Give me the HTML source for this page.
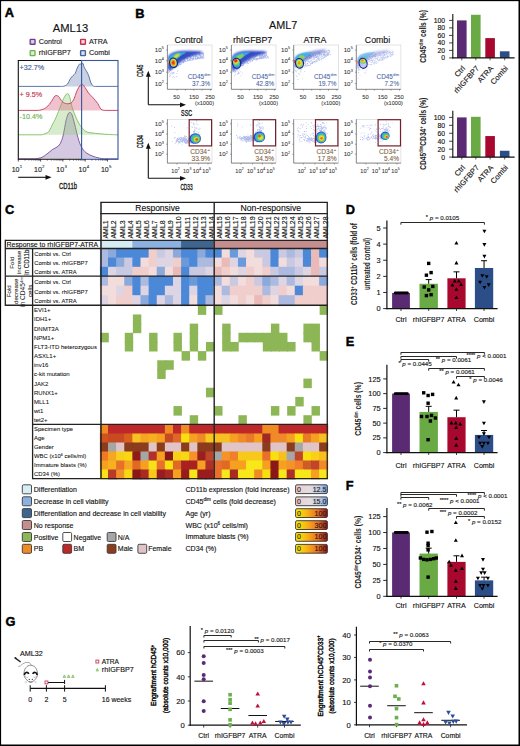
<!DOCTYPE html>
<html><head><meta charset="utf-8"><style>
html,body{margin:0;padding:0;background:#fff;}
body{width:520px;height:746px;overflow:hidden;position:relative;}
svg{position:absolute;left:0;top:0;}
text{font-family:"Liberation Sans", sans-serif;}
</style></head><body>
<svg width="520" height="746" viewBox="0 0 520 746">
<defs><filter id="bl1" x="-50%" y="-50%" width="200%" height="200%"><feGaussianBlur stdDeviation="0.7"/></filter><filter id="bl2" x="-50%" y="-50%" width="200%" height="200%"><feGaussianBlur stdDeviation="0.55"/></filter><filter id="bl3" x="-50%" y="-50%" width="200%" height="200%"><feGaussianBlur stdDeviation="1.1"/></filter></defs>
<rect x="0" y="0" width="520" height="746" fill="#fff"/>
<text x="4.80" y="17.40" font-size="12.8" fill="#000" stroke="#000" stroke-width="0.45" font-weight="bold" >A</text>
<text x="70.50" y="32.00" font-size="11.2" fill="#111" stroke="#111" stroke-width="0.13" text-anchor="middle" >AML13</text>
<rect x="30.15" y="39.35" width="4.90" height="4.90" fill="#c8b4d8" stroke="#6e3c8e" stroke-width="1.3" rx="0.6"/>
<line x1="32.05" y1="40.30" x2="32.05" y2="43.30" stroke="#fff" stroke-width="0.55" />
<line x1="33.25" y1="40.30" x2="33.25" y2="43.30" stroke="#fff" stroke-width="0.55" />
<text x="38.80" y="44.30" font-size="7.2" fill="#222" stroke="#222" stroke-width="0.13" >Control</text>
<rect x="80.55" y="39.35" width="4.90" height="4.90" fill="#eab0bc" stroke="#c8304e" stroke-width="1.3" rx="0.6"/>
<line x1="82.45" y1="40.30" x2="82.45" y2="43.30" stroke="#fff" stroke-width="0.55" />
<line x1="83.65" y1="40.30" x2="83.65" y2="43.30" stroke="#fff" stroke-width="0.55" />
<text x="89.00" y="44.30" font-size="7.2" fill="#222" stroke="#222" stroke-width="0.13" >ATRA</text>
<rect x="30.15" y="50.65" width="4.90" height="4.90" fill="#c8e4b8" stroke="#70b450" stroke-width="1.3" rx="0.6"/>
<line x1="32.05" y1="51.60" x2="32.05" y2="54.60" stroke="#fff" stroke-width="0.55" />
<line x1="33.25" y1="51.60" x2="33.25" y2="54.60" stroke="#fff" stroke-width="0.55" />
<text x="38.80" y="55.20" font-size="7.2" fill="#222" stroke="#222" stroke-width="0.13" >rhIGFBP7</text>
<rect x="80.55" y="50.65" width="4.90" height="4.90" fill="#bcc8e0" stroke="#4464a0" stroke-width="1.3" rx="0.6"/>
<line x1="82.45" y1="51.60" x2="82.45" y2="54.60" stroke="#fff" stroke-width="0.55" />
<line x1="83.65" y1="51.60" x2="83.65" y2="54.60" stroke="#fff" stroke-width="0.55" />
<text x="89.00" y="55.20" font-size="7.2" fill="#222" stroke="#222" stroke-width="0.13" >Combi</text>
<path d="M36.00,158.80 C37.00,158.55 40.18,158.10 42.00,157.30 C43.82,156.50 45.12,155.32 46.90,154.00 C48.68,152.68 50.77,150.73 52.70,149.40 C54.63,148.07 57.03,147.43 58.50,146.00 C59.97,144.57 60.67,142.83 61.50,140.80 C62.33,138.77 62.75,137.13 63.50,133.80 C64.25,130.47 65.22,124.13 66.00,120.80 C66.78,117.47 67.57,115.18 68.20,113.80 C68.83,112.42 69.20,112.42 69.80,112.50 C70.40,112.58 71.00,112.38 71.80,114.30 C72.60,116.22 73.57,120.08 74.60,124.00 C75.63,127.92 76.85,133.95 78.00,137.80 C79.15,141.65 80.13,144.60 81.50,147.10 C82.87,149.60 84.28,151.27 86.20,152.80 C88.12,154.33 91.03,155.47 93.00,156.30 C94.97,157.13 96.33,157.38 98.00,157.80 C99.67,158.22 102.17,158.63 103.00,158.80 L103.00,158.80 L36.00,158.80 Z" fill="rgba(150,120,180,0.40)" stroke="none" stroke-width="1" />
<path d="M18.5,158.80 L36.00,158.80 C37.00,158.55 40.18,158.10 42.00,157.30 C43.82,156.50 45.12,155.32 46.90,154.00 C48.68,152.68 50.77,150.73 52.70,149.40 C54.63,148.07 57.03,147.43 58.50,146.00 C59.97,144.57 60.67,142.83 61.50,140.80 C62.33,138.77 62.75,137.13 63.50,133.80 C64.25,130.47 65.22,124.13 66.00,120.80 C66.78,117.47 67.57,115.18 68.20,113.80 C68.83,112.42 69.20,112.42 69.80,112.50 C70.40,112.58 71.00,112.38 71.80,114.30 C72.60,116.22 73.57,120.08 74.60,124.00 C75.63,127.92 76.85,133.95 78.00,137.80 C79.15,141.65 80.13,144.60 81.50,147.10 C82.87,149.60 84.28,151.27 86.20,152.80 C88.12,154.33 91.03,155.47 93.00,156.30 C94.97,157.13 96.33,157.38 98.00,157.80 C99.67,158.22 102.17,158.63 103.00,158.80 L118,158.80" fill="none" stroke="#7a4a9a" stroke-width="0.9" />
<path d="M42.00,134.80 C42.67,134.55 44.80,133.93 46.00,133.30 C47.20,132.67 48.08,132.55 49.20,131.00 C50.32,129.45 51.53,126.32 52.70,124.00 C53.87,121.68 54.85,120.17 56.20,117.10 C57.55,114.03 59.47,108.87 60.80,105.60 C62.13,102.33 63.13,99.50 64.20,97.50 C65.27,95.50 66.32,93.80 67.20,93.60 C68.08,93.40 68.65,93.93 69.50,96.30 C70.35,98.67 71.25,104.33 72.30,107.80 C73.35,111.27 74.65,114.40 75.80,117.10 C76.95,119.80 78.05,122.08 79.20,124.00 C80.35,125.92 81.35,127.25 82.70,128.60 C84.05,129.95 85.18,131.32 87.30,132.10 C89.42,132.88 92.12,132.92 95.40,133.30 C98.68,133.68 103.57,134.15 107.00,134.40 C110.43,134.65 114.50,134.73 116.00,134.80 L116.00,134.80 L42.00,134.80 Z" fill="rgba(140,200,110,0.35)" stroke="none" stroke-width="1" />
<path d="M18.5,134.80 L42.00,134.80 C42.67,134.55 44.80,133.93 46.00,133.30 C47.20,132.67 48.08,132.55 49.20,131.00 C50.32,129.45 51.53,126.32 52.70,124.00 C53.87,121.68 54.85,120.17 56.20,117.10 C57.55,114.03 59.47,108.87 60.80,105.60 C62.13,102.33 63.13,99.50 64.20,97.50 C65.27,95.50 66.32,93.80 67.20,93.60 C68.08,93.40 68.65,93.93 69.50,96.30 C70.35,98.67 71.25,104.33 72.30,107.80 C73.35,111.27 74.65,114.40 75.80,117.10 C76.95,119.80 78.05,122.08 79.20,124.00 C80.35,125.92 81.35,127.25 82.70,128.60 C84.05,129.95 85.18,131.32 87.30,132.10 C89.42,132.88 92.12,132.92 95.40,133.30 C98.68,133.68 103.57,134.15 107.00,134.40 C110.43,134.65 114.50,134.73 116.00,134.80 L118,134.80" fill="none" stroke="#7cc060" stroke-width="0.9" />
<path d="M38.00,110.40 C38.67,110.27 40.52,110.17 42.00,109.60 C43.48,109.03 45.32,108.37 46.90,107.00 C48.48,105.63 50.15,103.23 51.50,101.40 C52.85,99.57 53.83,96.83 55.00,96.00 C56.17,95.17 57.33,95.50 58.50,96.40 C59.67,97.30 60.85,100.23 62.00,101.40 C63.15,102.57 64.07,103.07 65.40,103.40 C66.73,103.73 68.65,103.97 70.00,103.40 C71.35,102.83 72.33,102.10 73.50,100.00 C74.67,97.90 75.85,93.30 77.00,90.80 C78.15,88.30 79.45,86.07 80.40,85.00 C81.35,83.93 81.93,84.00 82.70,84.40 C83.47,84.80 84.03,85.97 85.00,87.40 C85.97,88.83 87.17,91.28 88.50,93.00 C89.83,94.72 91.47,95.97 93.00,97.70 C94.53,99.43 96.37,101.48 97.70,103.40 C99.03,105.32 99.78,108.03 101.00,109.20 C102.22,110.37 104.33,110.20 105.00,110.40 L105.00,110.40 L38.00,110.40 Z" fill="rgba(220,110,140,0.42)" stroke="none" stroke-width="1" />
<path d="M18.5,110.40 L38.00,110.40 C38.67,110.27 40.52,110.17 42.00,109.60 C43.48,109.03 45.32,108.37 46.90,107.00 C48.48,105.63 50.15,103.23 51.50,101.40 C52.85,99.57 53.83,96.83 55.00,96.00 C56.17,95.17 57.33,95.50 58.50,96.40 C59.67,97.30 60.85,100.23 62.00,101.40 C63.15,102.57 64.07,103.07 65.40,103.40 C66.73,103.73 68.65,103.97 70.00,103.40 C71.35,102.83 72.33,102.10 73.50,100.00 C74.67,97.90 75.85,93.30 77.00,90.80 C78.15,88.30 79.45,86.07 80.40,85.00 C81.35,83.93 81.93,84.00 82.70,84.40 C83.47,84.80 84.03,85.97 85.00,87.40 C85.97,88.83 87.17,91.28 88.50,93.00 C89.83,94.72 91.47,95.97 93.00,97.70 C94.53,99.43 96.37,101.48 97.70,103.40 C99.03,105.32 99.78,108.03 101.00,109.20 C102.22,110.37 104.33,110.20 105.00,110.40 L118,110.40" fill="none" stroke="#c83a5a" stroke-width="0.9" />
<path d="M60.00,86.40 C60.62,86.37 62.45,86.60 63.70,86.20 C64.95,85.80 66.38,85.25 67.50,84.00 C68.62,82.75 69.52,80.07 70.40,78.70 C71.28,77.33 72.00,76.68 72.80,75.80 C73.60,74.92 74.57,74.45 75.20,73.40 C75.83,72.35 75.97,70.95 76.60,69.50 C77.23,68.05 78.35,65.62 79.00,64.70 C79.65,63.78 80.10,64.00 80.50,64.00 C80.90,64.00 81.00,64.82 81.40,64.70 C81.80,64.58 82.42,62.82 82.90,63.30 C83.38,63.78 83.67,66.23 84.30,67.60 C84.93,68.97 85.97,70.13 86.70,71.50 C87.43,72.87 88.05,74.05 88.70,75.80 C89.35,77.55 89.97,80.40 90.60,82.00 C91.23,83.60 91.87,84.67 92.50,85.40 C93.13,86.13 93.65,86.23 94.40,86.40 C95.15,86.57 96.57,86.40 97.00,86.40 L97.00,86.40 L60.00,86.40 Z" fill="rgba(120,140,190,0.40)" stroke="none" stroke-width="1" />
<path d="M18.5,86.40 L60.00,86.40 C60.62,86.37 62.45,86.60 63.70,86.20 C64.95,85.80 66.38,85.25 67.50,84.00 C68.62,82.75 69.52,80.07 70.40,78.70 C71.28,77.33 72.00,76.68 72.80,75.80 C73.60,74.92 74.57,74.45 75.20,73.40 C75.83,72.35 75.97,70.95 76.60,69.50 C77.23,68.05 78.35,65.62 79.00,64.70 C79.65,63.78 80.10,64.00 80.50,64.00 C80.90,64.00 81.00,64.82 81.40,64.70 C81.80,64.58 82.42,62.82 82.90,63.30 C83.38,63.78 83.67,66.23 84.30,67.60 C84.93,68.97 85.97,70.13 86.70,71.50 C87.43,72.87 88.05,74.05 88.70,75.80 C89.35,77.55 89.97,80.40 90.60,82.00 C91.23,83.60 91.87,84.67 92.50,85.40 C93.13,86.13 93.65,86.23 94.40,86.40 C95.15,86.57 96.57,86.40 97.00,86.40 L118,86.40" fill="none" stroke="#4a66a0" stroke-width="0.9" />
<path d="M81.5,60.5 L18.3,60.5 L18.3,159.3 L81.5,159.3" fill="none" stroke="#111" stroke-width="1.1" />
<rect x="81.60" y="60.50" width="36.40" height="98.80" fill="none" stroke="#34589a" stroke-width="1.1" />
<text x="19.60" y="70.00" font-size="7.2" fill="#3c5a9a" stroke="#3c5a9a" stroke-width="0.13" >+32.7%</text>
<text x="19.60" y="96.50" font-size="7.2" fill="#c0304e" stroke="#c0304e" stroke-width="0.13" >+ 9.5%</text>
<text x="19.60" y="119.20" font-size="7.2" fill="#6ab04c" stroke="#6ab04c" stroke-width="0.13" >-10.4%</text>
<line x1="18.30" y1="159.20" x2="18.30" y2="161.60" stroke="#111" stroke-width="0.7" />
<line x1="25.01" y1="159.20" x2="25.01" y2="160.80" stroke="#111" stroke-width="0.45" />
<line x1="28.94" y1="159.20" x2="28.94" y2="160.80" stroke="#111" stroke-width="0.45" />
<line x1="31.73" y1="159.20" x2="31.73" y2="160.80" stroke="#111" stroke-width="0.45" />
<line x1="33.89" y1="159.20" x2="33.89" y2="160.80" stroke="#111" stroke-width="0.45" />
<line x1="35.65" y1="159.20" x2="35.65" y2="160.80" stroke="#111" stroke-width="0.45" />
<line x1="37.15" y1="159.20" x2="37.15" y2="160.80" stroke="#111" stroke-width="0.45" />
<line x1="38.44" y1="159.20" x2="38.44" y2="160.80" stroke="#111" stroke-width="0.45" />
<line x1="39.58" y1="159.20" x2="39.58" y2="160.80" stroke="#111" stroke-width="0.45" />
<line x1="40.60" y1="159.20" x2="40.60" y2="161.60" stroke="#111" stroke-width="0.7" />
<line x1="47.31" y1="159.20" x2="47.31" y2="160.80" stroke="#111" stroke-width="0.45" />
<line x1="51.24" y1="159.20" x2="51.24" y2="160.80" stroke="#111" stroke-width="0.45" />
<line x1="54.03" y1="159.20" x2="54.03" y2="160.80" stroke="#111" stroke-width="0.45" />
<line x1="56.19" y1="159.20" x2="56.19" y2="160.80" stroke="#111" stroke-width="0.45" />
<line x1="57.95" y1="159.20" x2="57.95" y2="160.80" stroke="#111" stroke-width="0.45" />
<line x1="59.45" y1="159.20" x2="59.45" y2="160.80" stroke="#111" stroke-width="0.45" />
<line x1="60.74" y1="159.20" x2="60.74" y2="160.80" stroke="#111" stroke-width="0.45" />
<line x1="61.88" y1="159.20" x2="61.88" y2="160.80" stroke="#111" stroke-width="0.45" />
<line x1="62.90" y1="159.20" x2="62.90" y2="161.60" stroke="#111" stroke-width="0.7" />
<line x1="69.61" y1="159.20" x2="69.61" y2="160.80" stroke="#111" stroke-width="0.45" />
<line x1="73.54" y1="159.20" x2="73.54" y2="160.80" stroke="#111" stroke-width="0.45" />
<line x1="76.33" y1="159.20" x2="76.33" y2="160.80" stroke="#111" stroke-width="0.45" />
<line x1="78.49" y1="159.20" x2="78.49" y2="160.80" stroke="#111" stroke-width="0.45" />
<line x1="80.25" y1="159.20" x2="80.25" y2="160.80" stroke="#111" stroke-width="0.45" />
<line x1="81.75" y1="159.20" x2="81.75" y2="160.80" stroke="#111" stroke-width="0.45" />
<line x1="83.04" y1="159.20" x2="83.04" y2="160.80" stroke="#111" stroke-width="0.45" />
<line x1="84.18" y1="159.20" x2="84.18" y2="160.80" stroke="#111" stroke-width="0.45" />
<line x1="85.20" y1="159.20" x2="85.20" y2="161.60" stroke="#111" stroke-width="0.7" />
<line x1="91.91" y1="159.20" x2="91.91" y2="160.80" stroke="#111" stroke-width="0.45" />
<line x1="95.84" y1="159.20" x2="95.84" y2="160.80" stroke="#111" stroke-width="0.45" />
<line x1="98.63" y1="159.20" x2="98.63" y2="160.80" stroke="#111" stroke-width="0.45" />
<line x1="100.79" y1="159.20" x2="100.79" y2="160.80" stroke="#111" stroke-width="0.45" />
<line x1="102.55" y1="159.20" x2="102.55" y2="160.80" stroke="#111" stroke-width="0.45" />
<line x1="104.05" y1="159.20" x2="104.05" y2="160.80" stroke="#111" stroke-width="0.45" />
<line x1="105.34" y1="159.20" x2="105.34" y2="160.80" stroke="#111" stroke-width="0.45" />
<line x1="106.48" y1="159.20" x2="106.48" y2="160.80" stroke="#111" stroke-width="0.45" />
<line x1="107.50" y1="159.20" x2="107.50" y2="161.60" stroke="#111" stroke-width="0.7" />
<text x="19.50" y="172.40" font-size="7.0" fill="#222" stroke="#222" stroke-width="0.13" text-anchor="end" >10</text>
<text x="19.80" y="168.40" font-size="4.4" fill="#222" stroke="#222" stroke-width="0.07" >1</text>
<text x="41.80" y="172.40" font-size="7.0" fill="#222" stroke="#222" stroke-width="0.13" text-anchor="end" >10</text>
<text x="42.10" y="168.40" font-size="4.4" fill="#222" stroke="#222" stroke-width="0.07" >2</text>
<text x="64.10" y="172.40" font-size="7.0" fill="#222" stroke="#222" stroke-width="0.13" text-anchor="end" >10</text>
<text x="64.40" y="168.40" font-size="4.4" fill="#222" stroke="#222" stroke-width="0.07" >3</text>
<text x="86.40" y="172.40" font-size="7.0" fill="#222" stroke="#222" stroke-width="0.13" text-anchor="end" >10</text>
<text x="86.70" y="168.40" font-size="4.4" fill="#222" stroke="#222" stroke-width="0.07" >4</text>
<text x="108.70" y="172.40" font-size="7.0" fill="#222" stroke="#222" stroke-width="0.13" text-anchor="end" >10</text>
<text x="109.00" y="168.40" font-size="4.4" fill="#222" stroke="#222" stroke-width="0.07" >5</text>
<line x1="18.20" y1="177.30" x2="47.50" y2="177.30" stroke="#111" stroke-width="1.1" />
<path d="M51.6,177.3 L45.5,174.9 L45.5,179.7 Z" fill="#111" stroke="none" stroke-width="1" />
<text x="68.00" y="189.20" font-size="9.4" fill="#1a1a1a" stroke="#1a1a1a" stroke-width="0.35" text-anchor="middle" textLength="18" lengthAdjust="spacingAndGlyphs" >CD11b</text>
<text x="135.30" y="17.60" font-size="12.8" fill="#000" stroke="#000" stroke-width="0.45" font-weight="bold" >B</text>
<text x="283.20" y="29.30" font-size="10.8" fill="#111" stroke="#111" stroke-width="0.13" text-anchor="middle" >AML7</text>
<text x="188.60" y="42.60" font-size="8.8" fill="#111" stroke="#111" stroke-width="0.13" text-anchor="middle" >Control</text>
<text x="252.60" y="42.60" font-size="8.8" fill="#111" stroke="#111" stroke-width="0.13" text-anchor="middle" >rhIGFBP7</text>
<text x="314.90" y="42.60" font-size="8.8" fill="#111" stroke="#111" stroke-width="0.13" text-anchor="middle" >ATRA</text>
<text x="377.50" y="42.60" font-size="8.8" fill="#111" stroke="#111" stroke-width="0.13" text-anchor="middle" >Combi</text>
<clipPath id="clt0"><rect x="167.4" y="45.0" width="44.6" height="44.3"/></clipPath>
<g clip-path="url(#clt0)">
<path d="M180.9 54.8h0.8v0.8h-0.8zM188.1 55.8h0.8v0.8h-0.8zM171.9 64.5h0.8v0.8h-0.8zM171.8 57.3h0.8v0.8h-0.8zM185.0 60.6h0.8v0.8h-0.8zM191.8 59.5h0.8v0.8h-0.8zM190.0 55.8h0.8v0.8h-0.8zM198.9 54.1h0.8v0.8h-0.8zM174.0 56.3h0.8v0.8h-0.8zM177.3 62.1h0.8v0.8h-0.8zM191.5 55.3h0.8v0.8h-0.8zM171.1 59.8h0.8v0.8h-0.8zM192.7 55.6h0.8v0.8h-0.8zM186.5 55.6h0.8v0.8h-0.8zM196.9 56.9h0.8v0.8h-0.8zM189.0 59.9h0.8v0.8h-0.8zM195.1 54.4h0.8v0.8h-0.8zM184.3 60.1h0.8v0.8h-0.8zM176.0 61.5h0.8v0.8h-0.8zM196.2 56.3h0.8v0.8h-0.8zM199.1 54.2h0.8v0.8h-0.8zM188.8 56.3h0.8v0.8h-0.8zM197.1 58.1h0.8v0.8h-0.8zM171.4 67.1h0.8v0.8h-0.8zM192.3 59.6h0.8v0.8h-0.8zM182.7 59.7h0.8v0.8h-0.8zM169.8 65.3h0.8v0.8h-0.8zM171.5 68.0h0.8v0.8h-0.8zM172.7 58.7h0.8v0.8h-0.8zM173.1 62.9h0.8v0.8h-0.8zM189.5 59.7h0.8v0.8h-0.8zM178.0 58.5h0.8v0.8h-0.8zM182.8 62.0h0.8v0.8h-0.8zM175.6 57.6h0.8v0.8h-0.8zM177.3 59.9h0.8v0.8h-0.8zM168.3 65.5h0.8v0.8h-0.8zM183.9 58.9h0.8v0.8h-0.8zM187.3 58.0h0.8v0.8h-0.8zM194.1 52.4h0.8v0.8h-0.8zM198.6 57.2h0.8v0.8h-0.8zM184.4 57.1h0.8v0.8h-0.8zM172.0 57.1h0.8v0.8h-0.8zM176.8 56.1h0.8v0.8h-0.8zM168.6 61.2h0.8v0.8h-0.8zM174.5 61.1h0.8v0.8h-0.8zM191.2 53.5h0.8v0.8h-0.8zM178.3 58.0h0.8v0.8h-0.8zM198.9 58.3h0.8v0.8h-0.8zM186.3 57.3h0.8v0.8h-0.8zM181.9 56.0h0.8v0.8h-0.8zM199.9 53.2h0.8v0.8h-0.8zM188.4 53.7h0.8v0.8h-0.8zM186.4 52.3h0.8v0.8h-0.8zM198.7 56.6h0.8v0.8h-0.8zM179.5 58.1h0.8v0.8h-0.8zM189.4 59.1h0.8v0.8h-0.8zM182.2 55.7h0.8v0.8h-0.8zM196.6 57.3h0.8v0.8h-0.8zM197.8 57.1h0.8v0.8h-0.8zM183.2 52.8h0.8v0.8h-0.8zM169.7 62.1h0.8v0.8h-0.8zM203.3 54.9h0.8v0.8h-0.8zM202.1 57.9h0.8v0.8h-0.8zM177.2 56.8h0.8v0.8h-0.8zM175.3 56.8h0.8v0.8h-0.8zM197.1 55.4h0.8v0.8h-0.8zM193.3 58.3h0.8v0.8h-0.8zM201.1 56.9h0.8v0.8h-0.8zM196.0 55.7h0.8v0.8h-0.8zM182.7 61.7h0.8v0.8h-0.8zM200.9 54.6h0.8v0.8h-0.8zM195.7 53.5h0.8v0.8h-0.8zM175.1 57.2h0.8v0.8h-0.8zM173.8 65.9h0.8v0.8h-0.8zM202.2 56.0h0.8v0.8h-0.8zM174.8 54.4h0.8v0.8h-0.8zM200.6 56.0h0.8v0.8h-0.8zM184.6 60.9h0.8v0.8h-0.8zM197.9 53.6h0.8v0.8h-0.8zM178.8 61.0h0.8v0.8h-0.8zM180.0 58.8h0.8v0.8h-0.8zM183.4 58.0h0.8v0.8h-0.8zM188.4 59.6h0.8v0.8h-0.8zM188.1 57.4h0.8v0.8h-0.8zM187.5 52.2h0.8v0.8h-0.8zM168.8 71.1h0.8v0.8h-0.8zM175.4 60.9h0.8v0.8h-0.8zM180.2 59.0h0.8v0.8h-0.8zM189.8 58.9h0.8v0.8h-0.8zM179.0 57.2h0.8v0.8h-0.8zM194.9 55.8h0.8v0.8h-0.8zM200.1 55.0h0.8v0.8h-0.8zM189.7 56.5h0.8v0.8h-0.8zM185.4 57.8h0.8v0.8h-0.8zM185.9 60.9h0.8v0.8h-0.8zM200.0 53.8h0.8v0.8h-0.8zM189.4 60.0h0.8v0.8h-0.8zM173.3 61.6h0.8v0.8h-0.8zM172.8 59.9h0.8v0.8h-0.8zM197.0 58.1h0.8v0.8h-0.8zM174.7 64.3h0.8v0.8h-0.8zM199.3 58.0h0.8v0.8h-0.8zM176.6 65.4h0.8v0.8h-0.8zM203.6 56.9h0.8v0.8h-0.8zM174.5 60.6h0.8v0.8h-0.8zM176.4 58.5h0.8v0.8h-0.8zM193.7 52.0h0.8v0.8h-0.8zM169.1 63.4h0.8v0.8h-0.8zM193.4 56.5h0.8v0.8h-0.8zM197.6 58.5h0.8v0.8h-0.8zM174.3 59.5h0.8v0.8h-0.8zM179.5 54.9h0.8v0.8h-0.8zM184.8 61.3h0.8v0.8h-0.8zM174.2 66.8h0.8v0.8h-0.8zM189.8 58.2h0.8v0.8h-0.8zM193.6 55.5h0.8v0.8h-0.8zM170.7 69.7h0.8v0.8h-0.8zM171.1 68.2h0.8v0.8h-0.8zM170.8 69.0h0.8v0.8h-0.8zM189.1 60.0h0.8v0.8h-0.8zM178.5 54.9h0.8v0.8h-0.8zM173.1 57.7h0.8v0.8h-0.8zM170.5 60.0h0.8v0.8h-0.8zM196.4 54.3h0.8v0.8h-0.8zM187.1 54.2h0.8v0.8h-0.8zM178.6 53.1h0.8v0.8h-0.8zM195.2 56.2h0.8v0.8h-0.8zM202.2 52.7h0.8v0.8h-0.8zM196.1 55.2h0.8v0.8h-0.8zM183.6 58.1h0.8v0.8h-0.8zM192.6 59.2h0.8v0.8h-0.8zM195.3 56.9h0.8v0.8h-0.8zM184.3 56.4h0.8v0.8h-0.8zM171.8 67.2h0.8v0.8h-0.8zM180.0 55.5h0.8v0.8h-0.8zM200.1 56.4h0.8v0.8h-0.8zM179.4 56.3h0.8v0.8h-0.8zM175.9 60.9h0.8v0.8h-0.8zM179.9 64.5h0.8v0.8h-0.8zM178.1 64.9h0.8v0.8h-0.8zM181.4 57.4h0.8v0.8h-0.8zM186.3 57.4h0.8v0.8h-0.8zM177.3 60.7h0.8v0.8h-0.8zM172.4 61.9h0.8v0.8h-0.8zM170.2 56.6h0.8v0.8h-0.8zM190.6 56.8h0.8v0.8h-0.8zM195.1 56.9h0.8v0.8h-0.8zM181.8 56.3h0.8v0.8h-0.8zM202.7 53.0h0.8v0.8h-0.8zM169.4 69.6h0.8v0.8h-0.8zM199.8 56.1h0.8v0.8h-0.8zM172.9 62.3h0.8v0.8h-0.8zM187.8 59.8h0.8v0.8h-0.8zM188.6 59.5h0.8v0.8h-0.8zM193.3 57.4h0.8v0.8h-0.8zM174.3 60.2h0.8v0.8h-0.8zM172.0 67.2h0.8v0.8h-0.8zM191.0 57.7h0.8v0.8h-0.8zM187.2 52.0h0.8v0.8h-0.8zM186.0 57.4h0.8v0.8h-0.8zM192.4 52.6h0.8v0.8h-0.8zM171.2 60.3h0.8v0.8h-0.8zM194.6 53.7h0.8v0.8h-0.8zM184.8 56.2h0.8v0.8h-0.8zM186.6 58.8h0.8v0.8h-0.8zM190.8 52.7h0.8v0.8h-0.8zM174.6 58.4h0.8v0.8h-0.8zM188.7 52.0h0.8v0.8h-0.8zM170.6 60.8h0.8v0.8h-0.8zM191.9 54.6h0.8v0.8h-0.8zM187.3 56.7h0.8v0.8h-0.8zM200.1 53.4h0.8v0.8h-0.8zM203.6 57.5h0.8v0.8h-0.8zM197.8 58.3h0.8v0.8h-0.8zM185.9 55.3h0.8v0.8h-0.8zM178.9 61.5h0.8v0.8h-0.8zM174.8 62.2h0.8v0.8h-0.8zM197.6 55.6h0.8v0.8h-0.8zM200.0 56.6h0.8v0.8h-0.8zM188.4 52.3h0.8v0.8h-0.8zM168.0 66.7h0.8v0.8h-0.8zM174.6 59.8h0.8v0.8h-0.8zM182.1 62.3h0.8v0.8h-0.8zM198.3 52.9h0.8v0.8h-0.8zM201.6 56.5h0.8v0.8h-0.8zM182.4 57.2h0.8v0.8h-0.8zM202.8 55.6h0.8v0.8h-0.8zM180.0 53.6h0.8v0.8h-0.8zM172.5 67.3h0.8v0.8h-0.8zM180.3 57.0h0.8v0.8h-0.8zM186.1 54.2h0.8v0.8h-0.8zM201.2 57.2h0.8v0.8h-0.8zM192.5 59.2h0.8v0.8h-0.8zM194.1 52.3h0.8v0.8h-0.8zM194.9 55.6h0.8v0.8h-0.8zM178.6 53.5h0.8v0.8h-0.8zM200.4 52.9h0.8v0.8h-0.8zM180.3 61.6h0.8v0.8h-0.8zM202.3 53.7h0.8v0.8h-0.8zM188.5 55.9h0.8v0.8h-0.8zM175.9 56.6h0.8v0.8h-0.8zM188.7 54.6h0.8v0.8h-0.8zM200.0 58.1h0.8v0.8h-0.8zM176.5 55.1h0.8v0.8h-0.8zM181.8 53.8h0.8v0.8h-0.8zM190.1 59.6h0.8v0.8h-0.8zM194.6 55.2h0.8v0.8h-0.8zM183.4 56.6h0.8v0.8h-0.8zM171.7 60.9h0.8v0.8h-0.8zM187.2 58.2h0.8v0.8h-0.8zM199.0 53.6h0.8v0.8h-0.8zM184.3 57.5h0.8v0.8h-0.8zM202.1 57.1h0.8v0.8h-0.8zM169.9 68.4h0.8v0.8h-0.8zM200.1 55.2h0.8v0.8h-0.8zM183.4 61.9h0.8v0.8h-0.8zM198.5 57.7h0.8v0.8h-0.8zM173.1 57.6h0.8v0.8h-0.8zM189.1 58.4h0.8v0.8h-0.8zM191.6 58.1h0.8v0.8h-0.8zM187.1 57.9h0.8v0.8h-0.8zM178.2 64.7h0.8v0.8h-0.8zM192.4 54.8h0.8v0.8h-0.8zM192.1 57.7h0.8v0.8h-0.8zM172.2 56.0h0.8v0.8h-0.8zM183.2 55.2h0.8v0.8h-0.8zM190.3 52.0h0.8v0.8h-0.8zM202.9 56.0h0.8v0.8h-0.8zM199.8 55.3h0.8v0.8h-0.8zM202.8 56.3h0.8v0.8h-0.8zM179.3 52.9h0.8v0.8h-0.8zM184.4 55.4h0.8v0.8h-0.8zM192.8 59.0h0.8v0.8h-0.8zM181.8 57.8h0.8v0.8h-0.8zM193.6 53.8h0.8v0.8h-0.8zM186.1 54.4h0.8v0.8h-0.8zM202.7 54.1h0.8v0.8h-0.8zM176.9 63.3h0.8v0.8h-0.8zM179.5 63.7h0.8v0.8h-0.8zM177.5 59.3h0.8v0.8h-0.8zM193.1 59.2h0.8v0.8h-0.8zM177.7 65.7h0.8v0.8h-0.8zM175.2 55.1h0.8v0.8h-0.8zM200.5 57.5h0.8v0.8h-0.8zM195.5 59.0h0.8v0.8h-0.8zM175.8 66.0h0.8v0.8h-0.8zM194.9 52.1h0.8v0.8h-0.8zM182.2 56.5h0.8v0.8h-0.8zM175.3 53.5h0.8v0.8h-0.8zM202.7 52.8h0.8v0.8h-0.8zM201.4 53.4h0.8v0.8h-0.8zM198.9 55.2h0.8v0.8h-0.8zM169.5 64.3h0.8v0.8h-0.8zM177.7 59.1h0.8v0.8h-0.8zM198.9 52.0h0.8v0.8h-0.8zM196.7 52.2h0.8v0.8h-0.8zM170.6 57.8h0.8v0.8h-0.8zM195.0 58.3h0.8v0.8h-0.8zM182.7 56.2h0.8v0.8h-0.8zM178.6 62.0h0.8v0.8h-0.8zM182.2 56.4h0.8v0.8h-0.8zM200.8 56.1h0.8v0.8h-0.8zM201.7 51.9h0.8v0.8h-0.8zM202.9 57.7h0.8v0.8h-0.8zM182.4 55.6h0.8v0.8h-0.8zM201.5 53.3h0.8v0.8h-0.8zM197.7 57.1h0.8v0.8h-0.8zM189.5 55.1h0.8v0.8h-0.8zM181.0 57.4h0.8v0.8h-0.8zM176.2 63.7h0.8v0.8h-0.8zM179.3 54.1h0.8v0.8h-0.8zM181.4 63.4h0.8v0.8h-0.8zM199.7 58.1h0.8v0.8h-0.8zM173.0 63.1h0.8v0.8h-0.8zM194.2 55.6h0.8v0.8h-0.8zM192.0 57.7h0.8v0.8h-0.8zM195.1 58.0h0.8v0.8h-0.8zM198.0 54.2h0.8v0.8h-0.8zM189.4 55.7h0.8v0.8h-0.8zM177.8 56.8h0.8v0.8h-0.8zM174.2 66.3h0.8v0.8h-0.8zM183.3 62.4h0.8v0.8h-0.8zM187.8 54.7h0.8v0.8h-0.8zM202.0 52.6h0.8v0.8h-0.8zM187.3 60.0h0.8v0.8h-0.8zM168.9 61.9h0.8v0.8h-0.8zM174.6 58.0h0.8v0.8h-0.8zM201.0 54.5h0.8v0.8h-0.8zM199.1 55.1h0.8v0.8h-0.8zM203.1 52.7h0.8v0.8h-0.8zM190.5 57.4h0.8v0.8h-0.8zM175.2 57.7h0.8v0.8h-0.8zM178.3 60.9h0.8v0.8h-0.8zM168.6 63.7h0.8v0.8h-0.8zM192.9 53.7h0.8v0.8h-0.8zM197.4 56.0h0.8v0.8h-0.8zM170.5 57.7h0.8v0.8h-0.8zM192.4 52.9h0.8v0.8h-0.8zM174.7 63.8h0.8v0.8h-0.8zM180.9 63.5h0.8v0.8h-0.8zM180.2 59.6h0.8v0.8h-0.8zM199.7 58.3h0.8v0.8h-0.8zM182.4 55.1h0.8v0.8h-0.8zM168.2 72.4h0.8v0.8h-0.8zM183.2 60.6h0.8v0.8h-0.8zM186.8 54.2h0.8v0.8h-0.8zM168.1 67.0h0.8v0.8h-0.8zM171.0 65.0h0.8v0.8h-0.8zM183.1 58.3h0.8v0.8h-0.8zM188.4 60.3h0.8v0.8h-0.8zM173.9 62.6h0.8v0.8h-0.8zM174.6 55.6h0.8v0.8h-0.8zM201.3 57.8h0.8v0.8h-0.8zM201.1 54.6h0.8v0.8h-0.8zM200.6 56.1h0.8v0.8h-0.8zM196.2 53.8h0.8v0.8h-0.8zM184.1 61.0h0.8v0.8h-0.8zM176.8 59.1h0.8v0.8h-0.8zM188.2 56.0h0.8v0.8h-0.8zM195.0 58.5h0.8v0.8h-0.8zM170.4 65.9h0.8v0.8h-0.8zM198.0 52.9h0.8v0.8h-0.8zM190.0 56.9h0.8v0.8h-0.8zM183.9 58.5h0.8v0.8h-0.8zM183.8 59.2h0.8v0.8h-0.8zM169.9 67.5h0.8v0.8h-0.8zM186.9 54.8h0.8v0.8h-0.8zM184.4 54.4h0.8v0.8h-0.8zM186.8 53.5h0.8v0.8h-0.8zM173.1 62.5h0.8v0.8h-0.8zM187.3 52.5h0.8v0.8h-0.8zM194.6 57.7h0.8v0.8h-0.8zM186.8 52.7h0.8v0.8h-0.8zM201.8 52.9h0.8v0.8h-0.8zM198.7 58.3h0.8v0.8h-0.8zM174.9 66.3h0.8v0.8h-0.8zM187.3 60.8h0.8v0.8h-0.8zM196.4 58.3h0.8v0.8h-0.8zM171.4 61.9h0.8v0.8h-0.8zM199.7 53.9h0.8v0.8h-0.8zM195.7 53.1h0.8v0.8h-0.8zM176.9 57.5h0.8v0.8h-0.8zM187.9 55.5h0.8v0.8h-0.8zM175.3 66.7h0.8v0.8h-0.8zM193.8 58.8h0.8v0.8h-0.8zM174.6 63.0h0.8v0.8h-0.8zM192.4 55.3h0.8v0.8h-0.8zM189.1 59.4h0.8v0.8h-0.8zM172.4 69.2h0.8v0.8h-0.8zM196.4 54.1h0.8v0.8h-0.8zM202.2 55.6h0.8v0.8h-0.8zM186.2 54.4h0.8v0.8h-0.8zM195.5 52.3h0.8v0.8h-0.8zM191.2 59.6h0.8v0.8h-0.8zM190.0 57.8h0.8v0.8h-0.8zM170.1 59.6h0.8v0.8h-0.8zM189.3 55.9h0.8v0.8h-0.8zM173.9 58.3h0.8v0.8h-0.8zM193.0 52.1h0.8v0.8h-0.8zM173.1 60.8h0.8v0.8h-0.8zM177.1 61.2h0.8v0.8h-0.8zM191.0 56.2h0.8v0.8h-0.8zM174.2 67.5h0.8v0.8h-0.8zM173.1 65.0h0.8v0.8h-0.8zM198.8 57.1h0.8v0.8h-0.8zM169.4 68.5h0.8v0.8h-0.8zM188.7 55.5h0.8v0.8h-0.8zM200.7 56.6h0.8v0.8h-0.8zM179.3 64.2h0.8v0.8h-0.8zM184.2 55.3h0.8v0.8h-0.8zM172.1 68.2h0.8v0.8h-0.8zM201.6 53.0h0.8v0.8h-0.8zM175.5 62.0h0.8v0.8h-0.8zM197.4 53.4h0.8v0.8h-0.8zM182.2 56.8h0.8v0.8h-0.8zM197.0 57.1h0.8v0.8h-0.8zM168.7 71.6h0.8v0.8h-0.8zM194.3 55.5h0.8v0.8h-0.8zM177.6 55.0h0.8v0.8h-0.8zM181.7 61.1h0.8v0.8h-0.8zM193.5 58.3h0.8v0.8h-0.8zM188.4 56.3h0.8v0.8h-0.8zM196.5 55.8h0.8v0.8h-0.8zM203.4 53.5h0.8v0.8h-0.8zM199.6 51.9h0.8v0.8h-0.8zM195.8 58.6h0.8v0.8h-0.8zM195.8 54.6h0.8v0.8h-0.8zM177.6 64.4h0.8v0.8h-0.8zM190.4 57.7h0.8v0.8h-0.8zM184.2 60.2h0.8v0.8h-0.8zM192.5 58.4h0.8v0.8h-0.8zM190.0 55.1h0.8v0.8h-0.8zM178.6 61.9h0.8v0.8h-0.8zM175.4 54.5h0.8v0.8h-0.8zM172.8 68.3h0.8v0.8h-0.8zM170.2 57.6h0.8v0.8h-0.8zM193.1 57.0h0.8v0.8h-0.8zM170.2 65.4h0.8v0.8h-0.8zM183.2 61.3h0.8v0.8h-0.8zM169.9 69.1h0.8v0.8h-0.8zM201.1 57.8h0.8v0.8h-0.8zM173.6 55.2h0.8v0.8h-0.8zM197.6 57.3h0.8v0.8h-0.8zM190.4 54.7h0.8v0.8h-0.8zM172.8 56.8h0.8v0.8h-0.8zM180.4 58.1h0.8v0.8h-0.8zM169.2 62.1h0.8v0.8h-0.8zM183.9 56.5h0.8v0.8h-0.8zM202.9 55.2h0.8v0.8h-0.8zM169.0 64.1h0.8v0.8h-0.8zM184.3 60.0h0.8v0.8h-0.8zM189.5 54.4h0.8v0.8h-0.8zM199.2 52.6h0.8v0.8h-0.8zM168.0 62.1h0.8v0.8h-0.8zM196.7 58.7h0.8v0.8h-0.8zM186.9 59.6h0.8v0.8h-0.8zM175.2 60.9h0.8v0.8h-0.8zM180.1 64.3h0.8v0.8h-0.8zM179.4 56.0h0.8v0.8h-0.8zM172.3 64.6h0.8v0.8h-0.8zM176.6 73.3h0.8v0.8h-0.8zM171.8 77.3h0.8v0.8h-0.8zM172.2 72.4h0.8v0.8h-0.8zM173.0 71.9h0.8v0.8h-0.8zM170.5 70.3h0.8v0.8h-0.8zM169.8 69.7h0.8v0.8h-0.8zM170.0 72.8h0.8v0.8h-0.8zM173.7 72.4h0.8v0.8h-0.8zM176.4 76.1h0.8v0.8h-0.8zM169.5 74.5h0.8v0.8h-0.8zM177.1 70.6h0.8v0.8h-0.8zM169.0 76.2h0.8v0.8h-0.8zM171.5 72.6h0.8v0.8h-0.8zM174.3 77.0h0.8v0.8h-0.8zM173.2 76.0h0.8v0.8h-0.8zM171.5 73.7h0.8v0.8h-0.8zM169.9 75.5h0.8v0.8h-0.8zM172.8 73.0h0.8v0.8h-0.8z" fill="#3a58d0" fill-opacity="0.45"/>
<path d="M167.90,57.00 L170.40,54.00 L173.40,52.60 L176.90,51.50 L180.40,51.00 L187.40,50.80 L195.40,50.90 L200.40,51.30 L202.90,52.20 L200.40,53.60 L194.40,55.20 L188.40,57.60 L182.90,60.60 L178.40,64.00 L174.40,67.20 L170.40,69.80 L167.90,71.00 Z" fill="#2640c0" fill-opacity="0.92" filter="url(#bl3)"/>
<path d="M168.90,58.00 L170.90,55.00 L174.40,53.40 L178.40,52.40 L183.40,52.20 L186.40,52.60 L182.40,54.80 L178.40,57.40 L174.40,60.50 L170.90,63.00 L168.90,63.50 Z" fill="#30b4e8" fill-opacity="0.90" filter="url(#bl1)"/>
<ellipse cx="176.30" cy="56.30" rx="4.6" ry="2.0" fill="#98d048" fill-opacity="0.95" filter="url(#bl2)" transform="rotate(-35 176.30 56.30)"/>
<ellipse cx="176.50" cy="55.90" rx="2.4" ry="1.2" fill="#e0e040" fill-opacity="0.8" filter="url(#bl2)" transform="rotate(-35 176.50 55.90)"/>
<ellipse cx="173.50" cy="62.70" rx="4.2" ry="5.0" fill="#30b8e0" fill-opacity="0.9" filter="url(#bl2)"/>
<ellipse cx="173.50" cy="62.70" rx="3.5" ry="4.3" fill="#68d070" fill-opacity="1" filter="url(#bl2)"/>
<ellipse cx="173.50" cy="62.70" rx="2.8" ry="3.6" fill="#e4e040" fill-opacity="1" filter="url(#bl2)"/>
<ellipse cx="173.30" cy="62.70" rx="2.2" ry="2.9" fill="#f49020" fill-opacity="1" filter="url(#bl2)"/>
<ellipse cx="173.30" cy="62.70" rx="1.3" ry="1.8" fill="#e83a18" fill-opacity="1" filter="url(#bl2)"/>
<ellipse cx="168.30" cy="61.50" rx="1.2" ry="2.0" fill="#f09030" fill-opacity="0.95" filter="url(#bl2)"/>
</g>
<ellipse cx="173.50" cy="62.70" rx="3.9" ry="4.8" fill="none" stroke="#1e1a84" stroke-width="1.1" transform="rotate(-12 173.50 62.70)"/>
<rect x="167.40" y="45.00" width="44.60" height="44.30" fill="none" stroke="#cfcfcf" stroke-width="0.6" />
<line x1="167.40" y1="45.00" x2="167.40" y2="89.30" stroke="#666" stroke-width="0.7" />
<line x1="167.40" y1="89.30" x2="212.00" y2="89.30" stroke="#666" stroke-width="0.7" />
<line x1="166.00" y1="50.00" x2="167.40" y2="50.00" stroke="#555" stroke-width="0.5" />
<text x="161.60" y="52.00" font-size="6.1" fill="#333" stroke="#333" stroke-width="0.07" text-anchor="end" >10</text>
<text x="161.80" y="49.40" font-size="3.7819999999999996" fill="#333" stroke="#333" stroke-width="0.07" >5</text>
<line x1="166.00" y1="60.80" x2="167.40" y2="60.80" stroke="#555" stroke-width="0.5" />
<text x="161.60" y="62.80" font-size="6.1" fill="#333" stroke="#333" stroke-width="0.07" text-anchor="end" >10</text>
<text x="161.80" y="60.20" font-size="3.7819999999999996" fill="#333" stroke="#333" stroke-width="0.07" >4</text>
<line x1="166.00" y1="72.20" x2="167.40" y2="72.20" stroke="#555" stroke-width="0.5" />
<text x="161.60" y="74.20" font-size="6.1" fill="#333" stroke="#333" stroke-width="0.07" text-anchor="end" >10</text>
<text x="161.80" y="71.60" font-size="3.7819999999999996" fill="#333" stroke="#333" stroke-width="0.07" >3</text>
<line x1="166.00" y1="83.50" x2="167.40" y2="83.50" stroke="#555" stroke-width="0.5" />
<text x="161.60" y="85.50" font-size="6.1" fill="#333" stroke="#333" stroke-width="0.07" text-anchor="end" >10</text>
<text x="161.80" y="82.90" font-size="3.7819999999999996" fill="#333" stroke="#333" stroke-width="0.07" >2</text>
<line x1="177.00" y1="89.30" x2="177.00" y2="90.70" stroke="#555" stroke-width="0.5" />
<line x1="185.40" y1="89.30" x2="185.40" y2="90.70" stroke="#555" stroke-width="0.5" />
<line x1="193.80" y1="89.30" x2="193.80" y2="90.70" stroke="#555" stroke-width="0.5" />
<line x1="202.20" y1="89.30" x2="202.20" y2="90.70" stroke="#555" stroke-width="0.5" />
<line x1="210.60" y1="89.30" x2="210.60" y2="90.70" stroke="#555" stroke-width="0.5" />
<text x="176.60" y="98.60" font-size="5.8" fill="#333" stroke="#333" stroke-width="0.07" text-anchor="middle" >50</text>
<text x="193.80" y="98.60" font-size="5.8" fill="#333" stroke="#333" stroke-width="0.07" text-anchor="middle" >150</text>
<text x="210.00" y="98.60" font-size="5.8" fill="#333" stroke="#333" stroke-width="0.07" text-anchor="middle" >250</text>
<text x="214.00" y="104.60" font-size="5.6" fill="#333" stroke="#333" stroke-width="0.07" text-anchor="end" >(x1000)</text>
<text x="204.00" y="79.00" font-size="6.4" fill="#4262a2" stroke="#4262a2" stroke-width="0.05" text-anchor="end" >CD45</text>
<text x="204.20" y="76.00" font-size="3.8" fill="#4262a2" stroke="#4262a2" stroke-width="0.05" >dim</text>
<text x="210.20" y="86.00" font-size="6.4" fill="#4262a2" stroke="#4262a2" stroke-width="0.05" text-anchor="end" >37.3%</text>
<clipPath id="clt1"><rect x="231.4" y="45.0" width="44.6" height="44.3"/></clipPath>
<g clip-path="url(#clt1)">
<path d="M264.0 53.7h0.8v0.8h-0.8zM258.5 58.3h0.8v0.8h-0.8zM238.9 56.7h0.8v0.8h-0.8zM252.6 53.9h0.8v0.8h-0.8zM246.5 55.2h0.8v0.8h-0.8zM236.7 68.9h0.8v0.8h-0.8zM238.3 61.3h0.8v0.8h-0.8zM258.7 55.4h0.8v0.8h-0.8zM240.9 62.4h0.8v0.8h-0.8zM247.7 52.8h0.8v0.8h-0.8zM247.4 60.6h0.8v0.8h-0.8zM254.7 56.1h0.8v0.8h-0.8zM237.3 63.3h0.8v0.8h-0.8zM265.2 54.9h0.8v0.8h-0.8zM253.1 58.5h0.8v0.8h-0.8zM258.8 58.4h0.8v0.8h-0.8zM260.9 57.0h0.8v0.8h-0.8zM254.9 56.0h0.8v0.8h-0.8zM245.4 60.3h0.8v0.8h-0.8zM260.9 57.1h0.8v0.8h-0.8zM254.7 54.4h0.8v0.8h-0.8zM255.6 55.7h0.8v0.8h-0.8zM257.5 59.0h0.8v0.8h-0.8zM261.4 55.0h0.8v0.8h-0.8zM251.8 61.0h0.8v0.8h-0.8zM239.4 64.9h0.8v0.8h-0.8zM266.4 55.4h0.8v0.8h-0.8zM253.2 58.6h0.8v0.8h-0.8zM252.0 58.2h0.8v0.8h-0.8zM247.2 61.8h0.8v0.8h-0.8zM239.9 62.7h0.8v0.8h-0.8zM238.5 68.4h0.8v0.8h-0.8zM246.1 53.3h0.8v0.8h-0.8zM233.9 65.0h0.8v0.8h-0.8zM248.1 59.6h0.8v0.8h-0.8zM242.0 63.0h0.8v0.8h-0.8zM265.8 55.4h0.8v0.8h-0.8zM248.9 55.1h0.8v0.8h-0.8zM238.4 65.7h0.8v0.8h-0.8zM249.1 57.9h0.8v0.8h-0.8zM240.9 65.3h0.8v0.8h-0.8zM262.5 57.5h0.8v0.8h-0.8zM249.7 55.5h0.8v0.8h-0.8zM262.0 54.6h0.8v0.8h-0.8zM262.2 54.0h0.8v0.8h-0.8zM249.1 54.6h0.8v0.8h-0.8zM232.5 70.1h0.8v0.8h-0.8zM244.9 58.9h0.8v0.8h-0.8zM248.3 58.9h0.8v0.8h-0.8zM264.5 57.3h0.8v0.8h-0.8zM236.2 68.9h0.8v0.8h-0.8zM237.6 66.1h0.8v0.8h-0.8zM257.6 52.0h0.8v0.8h-0.8zM256.5 54.3h0.8v0.8h-0.8zM237.0 57.5h0.8v0.8h-0.8zM247.3 54.7h0.8v0.8h-0.8zM265.2 57.0h0.8v0.8h-0.8zM256.2 58.5h0.8v0.8h-0.8zM257.1 58.8h0.8v0.8h-0.8zM239.0 63.0h0.8v0.8h-0.8zM250.7 58.8h0.8v0.8h-0.8zM253.6 54.8h0.8v0.8h-0.8zM241.6 55.4h0.8v0.8h-0.8zM250.1 53.9h0.8v0.8h-0.8zM249.3 57.2h0.8v0.8h-0.8zM232.4 71.5h0.8v0.8h-0.8zM249.3 57.9h0.8v0.8h-0.8zM245.6 57.4h0.8v0.8h-0.8zM265.4 52.4h0.8v0.8h-0.8zM233.0 67.2h0.8v0.8h-0.8zM256.1 59.0h0.8v0.8h-0.8zM253.5 56.9h0.8v0.8h-0.8zM263.9 52.1h0.8v0.8h-0.8zM244.5 62.1h0.8v0.8h-0.8zM245.2 58.1h0.8v0.8h-0.8zM240.8 59.7h0.8v0.8h-0.8zM248.8 58.3h0.8v0.8h-0.8zM261.3 54.9h0.8v0.8h-0.8zM249.1 55.1h0.8v0.8h-0.8zM256.2 58.3h0.8v0.8h-0.8zM245.0 56.7h0.8v0.8h-0.8zM256.7 58.3h0.8v0.8h-0.8zM235.1 68.2h0.8v0.8h-0.8zM234.1 61.7h0.8v0.8h-0.8zM233.7 61.6h0.8v0.8h-0.8zM255.9 58.2h0.8v0.8h-0.8zM263.7 56.0h0.8v0.8h-0.8zM256.9 56.7h0.8v0.8h-0.8zM256.7 53.9h0.8v0.8h-0.8zM259.1 52.8h0.8v0.8h-0.8zM240.2 54.2h0.8v0.8h-0.8zM254.6 55.3h0.8v0.8h-0.8zM261.2 57.3h0.8v0.8h-0.8zM244.1 58.2h0.8v0.8h-0.8zM243.7 58.1h0.8v0.8h-0.8zM233.5 65.5h0.8v0.8h-0.8zM234.7 58.8h0.8v0.8h-0.8zM263.9 55.0h0.8v0.8h-0.8zM231.6 64.5h0.8v0.8h-0.8zM265.8 55.0h0.8v0.8h-0.8zM247.8 53.6h0.8v0.8h-0.8zM238.4 54.1h0.8v0.8h-0.8zM234.2 69.4h0.8v0.8h-0.8zM237.8 68.2h0.8v0.8h-0.8zM237.8 54.5h0.8v0.8h-0.8zM258.3 53.6h0.8v0.8h-0.8zM234.4 68.5h0.8v0.8h-0.8zM257.2 52.7h0.8v0.8h-0.8zM253.6 57.9h0.8v0.8h-0.8zM243.1 64.7h0.8v0.8h-0.8zM259.5 51.9h0.8v0.8h-0.8zM261.7 52.6h0.8v0.8h-0.8zM245.4 61.3h0.8v0.8h-0.8zM252.1 52.8h0.8v0.8h-0.8zM245.5 59.0h0.8v0.8h-0.8zM239.0 65.5h0.8v0.8h-0.8zM245.9 59.8h0.8v0.8h-0.8zM246.6 60.8h0.8v0.8h-0.8zM265.1 56.8h0.8v0.8h-0.8zM234.9 70.6h0.8v0.8h-0.8zM257.4 58.2h0.8v0.8h-0.8zM267.6 57.0h0.8v0.8h-0.8zM253.0 55.0h0.8v0.8h-0.8zM247.7 60.0h0.8v0.8h-0.8zM254.8 59.3h0.8v0.8h-0.8zM231.9 63.1h0.8v0.8h-0.8zM249.2 58.6h0.8v0.8h-0.8zM232.9 69.6h0.8v0.8h-0.8zM260.8 57.8h0.8v0.8h-0.8zM262.4 57.3h0.8v0.8h-0.8zM257.1 58.8h0.8v0.8h-0.8zM253.2 59.1h0.8v0.8h-0.8zM241.2 63.6h0.8v0.8h-0.8zM254.5 57.8h0.8v0.8h-0.8zM249.9 54.6h0.8v0.8h-0.8zM262.1 55.4h0.8v0.8h-0.8zM236.4 67.5h0.8v0.8h-0.8zM253.2 59.5h0.8v0.8h-0.8zM262.7 55.5h0.8v0.8h-0.8zM240.4 56.8h0.8v0.8h-0.8zM239.2 63.5h0.8v0.8h-0.8zM248.6 58.1h0.8v0.8h-0.8zM239.5 54.8h0.8v0.8h-0.8zM237.0 64.6h0.8v0.8h-0.8zM260.0 53.2h0.8v0.8h-0.8zM251.4 52.2h0.8v0.8h-0.8zM234.7 72.1h0.8v0.8h-0.8zM252.7 54.7h0.8v0.8h-0.8zM261.7 55.2h0.8v0.8h-0.8zM261.2 58.3h0.8v0.8h-0.8zM242.7 53.5h0.8v0.8h-0.8zM236.6 56.2h0.8v0.8h-0.8zM251.2 59.5h0.8v0.8h-0.8zM265.1 52.3h0.8v0.8h-0.8zM255.9 55.7h0.8v0.8h-0.8zM244.1 60.4h0.8v0.8h-0.8zM255.5 59.4h0.8v0.8h-0.8zM248.7 54.2h0.8v0.8h-0.8zM266.4 57.8h0.8v0.8h-0.8zM242.9 58.0h0.8v0.8h-0.8zM264.5 57.6h0.8v0.8h-0.8zM260.4 57.0h0.8v0.8h-0.8zM256.5 59.6h0.8v0.8h-0.8zM259.7 58.5h0.8v0.8h-0.8zM255.9 54.6h0.8v0.8h-0.8zM236.3 60.4h0.8v0.8h-0.8zM242.2 55.0h0.8v0.8h-0.8zM242.1 55.4h0.8v0.8h-0.8zM257.0 51.9h0.8v0.8h-0.8zM233.6 71.1h0.8v0.8h-0.8zM242.5 65.1h0.8v0.8h-0.8zM237.1 61.3h0.8v0.8h-0.8zM237.3 68.7h0.8v0.8h-0.8zM248.6 56.0h0.8v0.8h-0.8zM261.5 55.4h0.8v0.8h-0.8zM241.1 54.2h0.8v0.8h-0.8zM259.2 56.3h0.8v0.8h-0.8zM244.3 58.6h0.8v0.8h-0.8zM239.3 58.5h0.8v0.8h-0.8zM238.8 61.2h0.8v0.8h-0.8zM246.6 62.9h0.8v0.8h-0.8zM236.5 69.8h0.8v0.8h-0.8zM256.1 53.9h0.8v0.8h-0.8zM242.8 56.0h0.8v0.8h-0.8zM248.3 62.9h0.8v0.8h-0.8zM236.7 60.0h0.8v0.8h-0.8zM264.0 52.3h0.8v0.8h-0.8zM266.1 51.8h0.8v0.8h-0.8zM261.3 54.6h0.8v0.8h-0.8zM262.1 55.7h0.8v0.8h-0.8zM240.6 60.2h0.8v0.8h-0.8zM253.3 53.5h0.8v0.8h-0.8zM239.8 64.3h0.8v0.8h-0.8zM235.5 57.0h0.8v0.8h-0.8zM254.7 56.4h0.8v0.8h-0.8zM255.4 58.0h0.8v0.8h-0.8zM261.5 56.1h0.8v0.8h-0.8zM259.1 55.3h0.8v0.8h-0.8zM258.8 52.4h0.8v0.8h-0.8zM261.7 57.7h0.8v0.8h-0.8zM251.7 52.2h0.8v0.8h-0.8zM262.9 53.9h0.8v0.8h-0.8zM239.8 64.9h0.8v0.8h-0.8zM247.1 59.2h0.8v0.8h-0.8zM231.8 67.1h0.8v0.8h-0.8zM237.9 65.2h0.8v0.8h-0.8zM261.0 57.8h0.8v0.8h-0.8zM248.2 60.5h0.8v0.8h-0.8zM236.1 69.3h0.8v0.8h-0.8zM251.3 57.3h0.8v0.8h-0.8zM253.0 52.2h0.8v0.8h-0.8zM239.9 55.4h0.8v0.8h-0.8zM242.8 63.3h0.8v0.8h-0.8zM257.8 53.7h0.8v0.8h-0.8zM232.5 67.5h0.8v0.8h-0.8zM257.4 52.9h0.8v0.8h-0.8zM263.7 56.7h0.8v0.8h-0.8zM251.1 57.2h0.8v0.8h-0.8zM243.2 54.7h0.8v0.8h-0.8zM254.5 59.2h0.8v0.8h-0.8zM238.6 62.7h0.8v0.8h-0.8zM261.4 58.1h0.8v0.8h-0.8zM247.9 57.3h0.8v0.8h-0.8zM246.8 62.0h0.8v0.8h-0.8zM260.3 54.6h0.8v0.8h-0.8zM249.7 61.7h0.8v0.8h-0.8zM261.8 58.1h0.8v0.8h-0.8zM233.5 64.8h0.8v0.8h-0.8zM266.1 57.6h0.8v0.8h-0.8zM256.4 55.3h0.8v0.8h-0.8zM251.3 52.9h0.8v0.8h-0.8zM233.9 59.9h0.8v0.8h-0.8zM267.5 56.7h0.8v0.8h-0.8zM260.9 57.9h0.8v0.8h-0.8zM263.3 52.1h0.8v0.8h-0.8zM256.6 54.4h0.8v0.8h-0.8zM252.1 60.1h0.8v0.8h-0.8zM251.4 56.4h0.8v0.8h-0.8zM265.5 53.9h0.8v0.8h-0.8zM238.7 63.7h0.8v0.8h-0.8zM265.9 55.3h0.8v0.8h-0.8zM253.2 53.7h0.8v0.8h-0.8zM237.5 56.9h0.8v0.8h-0.8zM244.6 56.3h0.8v0.8h-0.8zM236.9 64.0h0.8v0.8h-0.8zM252.6 57.8h0.8v0.8h-0.8zM239.7 63.1h0.8v0.8h-0.8zM255.2 56.2h0.8v0.8h-0.8zM244.8 56.1h0.8v0.8h-0.8zM248.1 59.0h0.8v0.8h-0.8zM233.4 64.1h0.8v0.8h-0.8zM252.6 56.7h0.8v0.8h-0.8zM243.3 64.3h0.8v0.8h-0.8zM240.4 55.1h0.8v0.8h-0.8zM264.1 55.1h0.8v0.8h-0.8zM249.4 59.7h0.8v0.8h-0.8zM238.4 58.7h0.8v0.8h-0.8zM238.6 59.4h0.8v0.8h-0.8zM244.9 60.2h0.8v0.8h-0.8zM260.7 55.7h0.8v0.8h-0.8zM259.1 57.4h0.8v0.8h-0.8zM259.6 57.0h0.8v0.8h-0.8zM264.8 52.9h0.8v0.8h-0.8zM259.9 56.3h0.8v0.8h-0.8zM250.3 60.8h0.8v0.8h-0.8zM260.1 58.0h0.8v0.8h-0.8zM253.9 55.5h0.8v0.8h-0.8zM258.8 54.5h0.8v0.8h-0.8zM246.9 58.6h0.8v0.8h-0.8zM261.1 57.8h0.8v0.8h-0.8zM251.4 56.7h0.8v0.8h-0.8zM239.2 62.8h0.8v0.8h-0.8zM254.5 53.0h0.8v0.8h-0.8zM262.1 57.5h0.8v0.8h-0.8zM264.5 53.4h0.8v0.8h-0.8zM233.8 58.5h0.8v0.8h-0.8zM254.5 56.7h0.8v0.8h-0.8zM251.8 60.6h0.8v0.8h-0.8zM251.4 57.2h0.8v0.8h-0.8zM245.5 59.3h0.8v0.8h-0.8zM245.6 62.7h0.8v0.8h-0.8zM235.9 61.3h0.8v0.8h-0.8zM246.3 58.5h0.8v0.8h-0.8zM265.5 55.1h0.8v0.8h-0.8zM249.9 58.7h0.8v0.8h-0.8zM252.2 59.4h0.8v0.8h-0.8zM241.0 58.9h0.8v0.8h-0.8zM251.4 53.4h0.8v0.8h-0.8zM265.1 56.5h0.8v0.8h-0.8zM261.7 54.9h0.8v0.8h-0.8zM238.0 58.7h0.8v0.8h-0.8zM240.1 56.6h0.8v0.8h-0.8zM254.0 57.1h0.8v0.8h-0.8zM257.7 52.3h0.8v0.8h-0.8zM247.7 60.4h0.8v0.8h-0.8zM233.8 63.7h0.8v0.8h-0.8zM262.1 56.0h0.8v0.8h-0.8zM250.6 57.6h0.8v0.8h-0.8zM240.3 61.2h0.8v0.8h-0.8zM253.1 55.9h0.8v0.8h-0.8zM237.7 57.4h0.8v0.8h-0.8zM236.4 58.1h0.8v0.8h-0.8zM250.8 59.5h0.8v0.8h-0.8zM234.3 55.7h0.8v0.8h-0.8zM259.9 54.5h0.8v0.8h-0.8zM238.8 58.2h0.8v0.8h-0.8zM236.1 68.3h0.8v0.8h-0.8zM249.1 56.5h0.8v0.8h-0.8zM233.2 69.8h0.8v0.8h-0.8zM248.1 58.7h0.8v0.8h-0.8zM243.9 53.7h0.8v0.8h-0.8zM244.1 62.9h0.8v0.8h-0.8zM259.9 54.3h0.8v0.8h-0.8zM249.8 60.8h0.8v0.8h-0.8zM242.1 58.6h0.8v0.8h-0.8zM244.0 62.7h0.8v0.8h-0.8zM250.6 59.7h0.8v0.8h-0.8zM246.8 55.0h0.8v0.8h-0.8zM266.1 53.9h0.8v0.8h-0.8zM252.1 56.0h0.8v0.8h-0.8zM248.9 53.2h0.8v0.8h-0.8zM247.1 55.7h0.8v0.8h-0.8zM240.3 58.0h0.8v0.8h-0.8zM256.8 55.0h0.8v0.8h-0.8zM239.5 64.2h0.8v0.8h-0.8zM262.5 52.9h0.8v0.8h-0.8zM249.4 60.5h0.8v0.8h-0.8zM245.7 60.6h0.8v0.8h-0.8zM247.5 62.4h0.8v0.8h-0.8zM253.2 54.6h0.8v0.8h-0.8zM249.4 53.8h0.8v0.8h-0.8zM263.6 55.9h0.8v0.8h-0.8zM246.2 55.6h0.8v0.8h-0.8zM263.0 52.9h0.8v0.8h-0.8zM251.4 57.4h0.8v0.8h-0.8zM248.6 59.6h0.8v0.8h-0.8zM253.2 55.1h0.8v0.8h-0.8zM240.0 65.3h0.8v0.8h-0.8zM245.8 60.5h0.8v0.8h-0.8zM247.1 58.4h0.8v0.8h-0.8zM243.9 53.7h0.8v0.8h-0.8zM238.4 65.1h0.8v0.8h-0.8zM244.8 58.3h0.8v0.8h-0.8zM262.9 57.5h0.8v0.8h-0.8zM239.2 59.0h0.8v0.8h-0.8zM256.8 55.1h0.8v0.8h-0.8zM248.0 59.3h0.8v0.8h-0.8zM262.0 54.6h0.8v0.8h-0.8zM256.8 53.8h0.8v0.8h-0.8zM260.1 57.3h0.8v0.8h-0.8zM234.6 57.1h0.8v0.8h-0.8zM244.8 57.8h0.8v0.8h-0.8zM234.0 62.2h0.8v0.8h-0.8zM261.9 56.0h0.8v0.8h-0.8zM257.2 54.2h0.8v0.8h-0.8zM246.5 52.2h0.8v0.8h-0.8zM262.1 57.2h0.8v0.8h-0.8zM263.0 56.1h0.8v0.8h-0.8zM235.7 60.8h0.8v0.8h-0.8zM241.9 65.2h0.8v0.8h-0.8zM259.1 52.7h0.8v0.8h-0.8zM258.6 57.9h0.8v0.8h-0.8zM244.4 54.2h0.8v0.8h-0.8zM264.9 56.4h0.8v0.8h-0.8zM258.4 58.0h0.8v0.8h-0.8zM234.3 67.3h0.8v0.8h-0.8zM249.1 57.8h0.8v0.8h-0.8zM259.6 52.2h0.8v0.8h-0.8zM257.8 58.0h0.8v0.8h-0.8zM267.4 56.0h0.8v0.8h-0.8zM253.3 54.7h0.8v0.8h-0.8zM248.4 54.8h0.8v0.8h-0.8zM244.3 54.7h0.8v0.8h-0.8zM240.9 56.8h0.8v0.8h-0.8zM252.4 56.6h0.8v0.8h-0.8zM243.9 63.0h0.8v0.8h-0.8zM237.7 62.7h0.8v0.8h-0.8zM254.1 58.8h0.8v0.8h-0.8zM238.7 63.4h0.8v0.8h-0.8zM259.4 57.8h0.8v0.8h-0.8zM237.0 59.6h0.8v0.8h-0.8zM235.6 61.0h0.8v0.8h-0.8zM240.1 63.1h0.8v0.8h-0.8zM245.2 58.5h0.8v0.8h-0.8zM246.6 54.7h0.8v0.8h-0.8zM267.2 56.5h0.8v0.8h-0.8zM237.2 66.4h0.8v0.8h-0.8zM237.0 62.6h0.8v0.8h-0.8zM248.8 54.6h0.8v0.8h-0.8zM264.8 56.1h0.8v0.8h-0.8zM255.1 59.4h0.8v0.8h-0.8zM241.8 55.3h0.8v0.8h-0.8zM234.1 69.5h0.8v0.8h-0.8zM239.5 62.6h0.8v0.8h-0.8zM263.2 58.0h0.8v0.8h-0.8zM263.2 57.0h0.8v0.8h-0.8zM245.5 55.2h0.8v0.8h-0.8zM246.0 58.8h0.8v0.8h-0.8zM246.7 61.4h0.8v0.8h-0.8zM253.6 57.7h0.8v0.8h-0.8zM263.3 56.8h0.8v0.8h-0.8zM249.9 57.2h0.8v0.8h-0.8zM238.7 58.9h0.8v0.8h-0.8zM257.2 53.5h0.8v0.8h-0.8zM249.4 61.5h0.8v0.8h-0.8zM249.2 54.6h0.8v0.8h-0.8zM259.4 51.7h0.8v0.8h-0.8zM259.3 55.2h0.8v0.8h-0.8zM242.8 61.1h0.8v0.8h-0.8zM245.5 58.0h0.8v0.8h-0.8zM257.1 58.4h0.8v0.8h-0.8zM243.8 58.5h0.8v0.8h-0.8zM253.4 55.5h0.8v0.8h-0.8zM245.4 58.4h0.8v0.8h-0.8zM267.9 57.4h0.8v0.8h-0.8zM264.6 55.9h0.8v0.8h-0.8zM260.9 52.4h0.8v0.8h-0.8zM243.2 59.9h0.8v0.8h-0.8zM265.5 55.1h0.8v0.8h-0.8zM245.2 62.3h0.8v0.8h-0.8zM236.1 69.6h0.8v0.8h-0.8zM235.3 73.9h0.8v0.8h-0.8zM239.2 72.7h0.8v0.8h-0.8zM237.5 73.7h0.8v0.8h-0.8zM238.2 72.1h0.8v0.8h-0.8zM237.5 71.0h0.8v0.8h-0.8zM235.3 71.1h0.8v0.8h-0.8zM237.8 73.0h0.8v0.8h-0.8zM240.5 75.5h0.8v0.8h-0.8zM232.9 71.2h0.8v0.8h-0.8zM236.6 69.7h0.8v0.8h-0.8zM239.2 69.4h0.8v0.8h-0.8zM233.9 75.4h0.8v0.8h-0.8zM237.4 72.9h0.8v0.8h-0.8zM234.6 70.1h0.8v0.8h-0.8zM234.5 70.1h0.8v0.8h-0.8zM242.2 72.7h0.8v0.8h-0.8zM240.4 71.5h0.8v0.8h-0.8z" fill="#3a58d0" fill-opacity="0.45"/>
<path d="M231.90,57.00 L234.40,54.00 L237.40,52.60 L240.90,51.50 L244.40,51.00 L251.40,50.80 L259.40,50.90 L264.40,51.30 L266.90,52.20 L264.40,53.60 L258.40,55.20 L252.40,57.60 L246.90,60.60 L242.40,64.00 L238.40,67.20 L234.40,69.80 L231.90,71.00 Z" fill="#2640c0" fill-opacity="0.92" filter="url(#bl3)"/>
<path d="M232.90,58.00 L234.90,55.00 L238.40,53.40 L242.40,52.40 L247.40,52.20 L250.40,52.60 L246.40,54.80 L242.40,57.40 L238.40,60.50 L234.90,63.00 L232.90,63.50 Z" fill="#30b4e8" fill-opacity="0.90" filter="url(#bl1)"/>
<ellipse cx="239.60" cy="57.00" rx="4.6" ry="1.9" fill="#90d050" fill-opacity="0.95" filter="url(#bl2)" transform="rotate(-30 239.60 57.00)"/>
<ellipse cx="234.80" cy="59.70" rx="2.2" ry="2.0" fill="#a8d840" fill-opacity="0.9" filter="url(#bl2)"/>
<ellipse cx="236.60" cy="63.30" rx="4.2" ry="5.0" fill="#2ca8e0" fill-opacity="0.9" filter="url(#bl2)"/>
<ellipse cx="236.30" cy="62.10" rx="3.4" ry="3.6" fill="#70d070" fill-opacity="1" filter="url(#bl2)"/>
<ellipse cx="236.00" cy="61.30" rx="2.6" ry="2.4" fill="#e8e040" fill-opacity="1" filter="url(#bl2)"/>
<ellipse cx="235.80" cy="60.90" rx="2.0" ry="1.8" fill="#f07020" fill-opacity="1" filter="url(#bl2)"/>
<ellipse cx="235.80" cy="60.70" rx="1.4" ry="1.2" fill="#e82818" fill-opacity="1" filter="url(#bl2)"/>
<ellipse cx="232.00" cy="61.90" rx="0.9" ry="1.8" fill="#d0d840" fill-opacity="0.8" filter="url(#bl2)"/>
</g>
<ellipse cx="236.60" cy="63.30" rx="4.1" ry="5.0" fill="none" stroke="#1e1a84" stroke-width="1.1" transform="rotate(-12 236.60 63.30)"/>
<rect x="231.40" y="45.00" width="44.60" height="44.30" fill="none" stroke="#cfcfcf" stroke-width="0.6" />
<line x1="231.40" y1="45.00" x2="231.40" y2="89.30" stroke="#666" stroke-width="0.7" />
<line x1="231.40" y1="89.30" x2="276.00" y2="89.30" stroke="#666" stroke-width="0.7" />
<line x1="230.00" y1="50.00" x2="231.40" y2="50.00" stroke="#555" stroke-width="0.5" />
<text x="225.60" y="52.00" font-size="6.1" fill="#333" stroke="#333" stroke-width="0.07" text-anchor="end" >10</text>
<text x="225.80" y="49.40" font-size="3.7819999999999996" fill="#333" stroke="#333" stroke-width="0.07" >5</text>
<line x1="230.00" y1="60.80" x2="231.40" y2="60.80" stroke="#555" stroke-width="0.5" />
<text x="225.60" y="62.80" font-size="6.1" fill="#333" stroke="#333" stroke-width="0.07" text-anchor="end" >10</text>
<text x="225.80" y="60.20" font-size="3.7819999999999996" fill="#333" stroke="#333" stroke-width="0.07" >4</text>
<line x1="230.00" y1="72.20" x2="231.40" y2="72.20" stroke="#555" stroke-width="0.5" />
<text x="225.60" y="74.20" font-size="6.1" fill="#333" stroke="#333" stroke-width="0.07" text-anchor="end" >10</text>
<text x="225.80" y="71.60" font-size="3.7819999999999996" fill="#333" stroke="#333" stroke-width="0.07" >3</text>
<line x1="230.00" y1="83.50" x2="231.40" y2="83.50" stroke="#555" stroke-width="0.5" />
<text x="225.60" y="85.50" font-size="6.1" fill="#333" stroke="#333" stroke-width="0.07" text-anchor="end" >10</text>
<text x="225.80" y="82.90" font-size="3.7819999999999996" fill="#333" stroke="#333" stroke-width="0.07" >2</text>
<line x1="241.00" y1="89.30" x2="241.00" y2="90.70" stroke="#555" stroke-width="0.5" />
<line x1="249.40" y1="89.30" x2="249.40" y2="90.70" stroke="#555" stroke-width="0.5" />
<line x1="257.80" y1="89.30" x2="257.80" y2="90.70" stroke="#555" stroke-width="0.5" />
<line x1="266.20" y1="89.30" x2="266.20" y2="90.70" stroke="#555" stroke-width="0.5" />
<line x1="274.60" y1="89.30" x2="274.60" y2="90.70" stroke="#555" stroke-width="0.5" />
<text x="240.60" y="98.60" font-size="5.8" fill="#333" stroke="#333" stroke-width="0.07" text-anchor="middle" >50</text>
<text x="257.80" y="98.60" font-size="5.8" fill="#333" stroke="#333" stroke-width="0.07" text-anchor="middle" >150</text>
<text x="274.00" y="98.60" font-size="5.8" fill="#333" stroke="#333" stroke-width="0.07" text-anchor="middle" >250</text>
<text x="278.00" y="104.60" font-size="5.6" fill="#333" stroke="#333" stroke-width="0.07" text-anchor="end" >(x1000)</text>
<text x="268.00" y="79.00" font-size="6.4" fill="#4262a2" stroke="#4262a2" stroke-width="0.05" text-anchor="end" >CD45</text>
<text x="268.20" y="76.00" font-size="3.8" fill="#4262a2" stroke="#4262a2" stroke-width="0.05" >dim</text>
<text x="274.20" y="86.00" font-size="6.4" fill="#4262a2" stroke="#4262a2" stroke-width="0.05" text-anchor="end" >42.8%</text>
<clipPath id="clt2"><rect x="293.7" y="45.0" width="44.6" height="44.3"/></clipPath>
<g clip-path="url(#clt2)">
<path d="M323.2 52.8h0.8v0.8h-0.8zM299.1 67.4h0.8v0.8h-0.8zM310.8 56.8h0.8v0.8h-0.8zM322.3 52.8h0.8v0.8h-0.8zM322.6 52.0h0.8v0.8h-0.8zM296.3 66.4h0.8v0.8h-0.8zM303.2 60.2h0.8v0.8h-0.8zM325.4 54.7h0.8v0.8h-0.8zM327.1 54.6h0.8v0.8h-0.8zM300.9 65.5h0.8v0.8h-0.8zM307.4 63.0h0.8v0.8h-0.8zM298.6 62.2h0.8v0.8h-0.8zM321.3 58.6h0.8v0.8h-0.8zM316.7 54.0h0.8v0.8h-0.8zM316.5 60.4h0.8v0.8h-0.8zM320.5 54.7h0.8v0.8h-0.8zM303.2 62.1h0.8v0.8h-0.8zM298.7 57.4h0.8v0.8h-0.8zM299.9 66.9h0.8v0.8h-0.8zM307.1 63.1h0.8v0.8h-0.8zM310.1 56.6h0.8v0.8h-0.8zM319.0 58.5h0.8v0.8h-0.8zM327.8 50.2h0.8v0.8h-0.8zM313.9 61.6h0.8v0.8h-0.8zM324.0 51.6h0.8v0.8h-0.8zM320.8 55.7h0.8v0.8h-0.8zM313.1 55.8h0.8v0.8h-0.8zM325.0 54.9h0.8v0.8h-0.8zM298.5 62.3h0.8v0.8h-0.8zM318.1 53.5h0.8v0.8h-0.8zM300.8 61.5h0.8v0.8h-0.8zM309.8 58.7h0.8v0.8h-0.8zM295.0 66.4h0.8v0.8h-0.8zM312.2 63.1h0.8v0.8h-0.8zM296.6 60.3h0.8v0.8h-0.8zM305.0 61.6h0.8v0.8h-0.8zM303.2 62.4h0.8v0.8h-0.8zM329.1 50.0h0.8v0.8h-0.8zM316.5 60.0h0.8v0.8h-0.8zM316.9 58.0h0.8v0.8h-0.8zM309.2 58.3h0.8v0.8h-0.8zM326.2 54.4h0.8v0.8h-0.8zM306.6 63.6h0.8v0.8h-0.8zM317.0 55.9h0.8v0.8h-0.8zM315.8 57.3h0.8v0.8h-0.8zM307.6 65.2h0.8v0.8h-0.8zM312.9 57.8h0.8v0.8h-0.8zM308.9 56.8h0.8v0.8h-0.8zM294.3 69.6h0.8v0.8h-0.8zM316.0 56.2h0.8v0.8h-0.8zM301.5 57.7h0.8v0.8h-0.8zM321.6 56.3h0.8v0.8h-0.8zM328.7 52.6h0.8v0.8h-0.8zM297.8 60.3h0.8v0.8h-0.8zM315.3 61.2h0.8v0.8h-0.8zM312.1 62.6h0.8v0.8h-0.8zM298.3 64.3h0.8v0.8h-0.8zM304.6 56.1h0.8v0.8h-0.8zM301.4 60.4h0.8v0.8h-0.8zM309.5 57.1h0.8v0.8h-0.8zM316.6 60.0h0.8v0.8h-0.8zM320.8 58.8h0.8v0.8h-0.8zM317.4 53.8h0.8v0.8h-0.8zM306.5 56.9h0.8v0.8h-0.8zM303.3 63.1h0.8v0.8h-0.8zM326.5 51.9h0.8v0.8h-0.8zM307.0 63.1h0.8v0.8h-0.8zM318.7 55.3h0.8v0.8h-0.8zM298.5 63.6h0.8v0.8h-0.8zM308.1 60.7h0.8v0.8h-0.8zM316.6 55.5h0.8v0.8h-0.8zM327.4 54.0h0.8v0.8h-0.8zM328.3 50.3h0.8v0.8h-0.8zM306.7 56.5h0.8v0.8h-0.8zM301.3 58.9h0.8v0.8h-0.8zM323.4 54.4h0.8v0.8h-0.8zM313.7 58.9h0.8v0.8h-0.8zM316.5 56.1h0.8v0.8h-0.8zM321.1 54.1h0.8v0.8h-0.8zM321.2 54.1h0.8v0.8h-0.8zM321.8 58.3h0.8v0.8h-0.8zM314.4 61.7h0.8v0.8h-0.8zM299.2 57.0h0.8v0.8h-0.8zM322.7 54.5h0.8v0.8h-0.8zM329.4 51.4h0.8v0.8h-0.8zM295.8 60.3h0.8v0.8h-0.8zM297.0 64.6h0.8v0.8h-0.8zM327.6 52.7h0.8v0.8h-0.8zM300.9 59.5h0.8v0.8h-0.8zM299.7 57.1h0.8v0.8h-0.8zM323.6 53.6h0.8v0.8h-0.8zM317.9 55.9h0.8v0.8h-0.8zM322.6 54.8h0.8v0.8h-0.8zM301.0 66.3h0.8v0.8h-0.8zM296.4 66.1h0.8v0.8h-0.8zM298.4 65.3h0.8v0.8h-0.8zM311.4 63.3h0.8v0.8h-0.8zM303.4 59.6h0.8v0.8h-0.8zM305.3 61.1h0.8v0.8h-0.8zM322.5 56.5h0.8v0.8h-0.8zM306.7 65.7h0.8v0.8h-0.8zM302.3 66.8h0.8v0.8h-0.8zM325.6 52.8h0.8v0.8h-0.8zM304.4 59.8h0.8v0.8h-0.8zM313.6 61.9h0.8v0.8h-0.8zM317.8 57.1h0.8v0.8h-0.8zM316.5 60.5h0.8v0.8h-0.8zM310.3 62.9h0.8v0.8h-0.8zM327.1 52.3h0.8v0.8h-0.8zM304.5 55.8h0.8v0.8h-0.8zM301.3 68.6h0.8v0.8h-0.8zM301.2 65.7h0.8v0.8h-0.8zM298.9 60.0h0.8v0.8h-0.8zM307.6 64.4h0.8v0.8h-0.8zM320.8 58.5h0.8v0.8h-0.8zM304.2 64.9h0.8v0.8h-0.8zM319.2 52.6h0.8v0.8h-0.8zM311.1 55.7h0.8v0.8h-0.8zM295.1 70.5h0.8v0.8h-0.8zM301.4 63.5h0.8v0.8h-0.8zM301.0 62.7h0.8v0.8h-0.8zM302.1 65.7h0.8v0.8h-0.8zM312.9 55.1h0.8v0.8h-0.8zM327.9 52.8h0.8v0.8h-0.8zM304.4 66.8h0.8v0.8h-0.8zM304.7 58.1h0.8v0.8h-0.8zM306.2 56.8h0.8v0.8h-0.8zM310.6 60.3h0.8v0.8h-0.8zM308.3 55.0h0.8v0.8h-0.8zM313.9 58.5h0.8v0.8h-0.8zM320.7 59.5h0.8v0.8h-0.8zM309.1 58.3h0.8v0.8h-0.8zM310.1 63.6h0.8v0.8h-0.8zM310.9 56.3h0.8v0.8h-0.8zM328.2 49.7h0.8v0.8h-0.8zM303.8 62.9h0.8v0.8h-0.8zM309.4 57.7h0.8v0.8h-0.8zM325.1 56.2h0.8v0.8h-0.8zM326.6 50.9h0.8v0.8h-0.8zM317.7 57.3h0.8v0.8h-0.8zM308.4 65.2h0.8v0.8h-0.8zM325.1 54.5h0.8v0.8h-0.8zM316.7 61.1h0.8v0.8h-0.8zM322.6 54.9h0.8v0.8h-0.8zM319.4 55.4h0.8v0.8h-0.8zM319.2 55.2h0.8v0.8h-0.8zM317.9 57.4h0.8v0.8h-0.8zM306.4 65.5h0.8v0.8h-0.8zM311.6 60.8h0.8v0.8h-0.8zM303.6 58.2h0.8v0.8h-0.8zM326.4 53.8h0.8v0.8h-0.8zM323.6 53.2h0.8v0.8h-0.8zM300.8 66.1h0.8v0.8h-0.8zM324.5 57.0h0.8v0.8h-0.8zM324.4 51.1h0.8v0.8h-0.8zM324.9 52.3h0.8v0.8h-0.8zM301.8 60.4h0.8v0.8h-0.8zM323.9 55.2h0.8v0.8h-0.8zM309.7 55.3h0.8v0.8h-0.8zM321.6 56.0h0.8v0.8h-0.8zM312.7 61.4h0.8v0.8h-0.8zM319.0 55.5h0.8v0.8h-0.8zM313.7 56.2h0.8v0.8h-0.8zM309.9 54.9h0.8v0.8h-0.8zM303.4 63.3h0.8v0.8h-0.8zM320.9 54.4h0.8v0.8h-0.8zM307.6 58.3h0.8v0.8h-0.8zM317.7 59.5h0.8v0.8h-0.8zM303.3 61.7h0.8v0.8h-0.8zM308.0 55.4h0.8v0.8h-0.8zM311.3 58.2h0.8v0.8h-0.8zM309.7 61.1h0.8v0.8h-0.8zM322.9 54.0h0.8v0.8h-0.8zM328.0 51.8h0.8v0.8h-0.8zM328.0 54.2h0.8v0.8h-0.8zM308.4 56.2h0.8v0.8h-0.8zM321.0 54.8h0.8v0.8h-0.8zM326.4 55.3h0.8v0.8h-0.8zM295.1 66.2h0.8v0.8h-0.8zM324.8 54.1h0.8v0.8h-0.8zM311.7 62.1h0.8v0.8h-0.8zM314.2 61.1h0.8v0.8h-0.8zM318.9 58.3h0.8v0.8h-0.8zM319.6 56.9h0.8v0.8h-0.8zM322.8 57.1h0.8v0.8h-0.8zM298.6 67.7h0.8v0.8h-0.8zM299.2 58.7h0.8v0.8h-0.8zM296.2 66.6h0.8v0.8h-0.8zM321.6 56.0h0.8v0.8h-0.8zM311.1 60.5h0.8v0.8h-0.8zM330.0 54.3h0.8v0.8h-0.8zM307.4 61.0h0.8v0.8h-0.8zM295.0 70.8h0.8v0.8h-0.8zM307.6 58.6h0.8v0.8h-0.8zM324.4 54.7h0.8v0.8h-0.8zM297.1 62.3h0.8v0.8h-0.8zM325.9 56.0h0.8v0.8h-0.8zM302.5 57.1h0.8v0.8h-0.8zM313.8 57.2h0.8v0.8h-0.8zM316.5 56.6h0.8v0.8h-0.8zM324.3 53.0h0.8v0.8h-0.8zM296.6 62.5h0.8v0.8h-0.8zM313.9 57.5h0.8v0.8h-0.8zM305.3 64.3h0.8v0.8h-0.8zM306.6 63.3h0.8v0.8h-0.8zM310.9 62.7h0.8v0.8h-0.8zM312.4 62.5h0.8v0.8h-0.8zM318.4 53.1h0.8v0.8h-0.8zM324.9 51.4h0.8v0.8h-0.8zM327.0 54.0h0.8v0.8h-0.8zM322.8 55.1h0.8v0.8h-0.8zM305.3 58.3h0.8v0.8h-0.8zM325.0 52.3h0.8v0.8h-0.8zM298.9 58.9h0.8v0.8h-0.8zM321.8 58.0h0.8v0.8h-0.8zM305.6 65.6h0.8v0.8h-0.8zM320.8 53.8h0.8v0.8h-0.8zM297.1 68.5h0.8v0.8h-0.8zM305.7 58.6h0.8v0.8h-0.8zM315.1 55.0h0.8v0.8h-0.8zM327.2 52.8h0.8v0.8h-0.8zM322.9 57.9h0.8v0.8h-0.8zM308.9 55.1h0.8v0.8h-0.8zM304.6 62.7h0.8v0.8h-0.8zM298.7 63.6h0.8v0.8h-0.8zM318.6 53.5h0.8v0.8h-0.8zM326.6 52.2h0.8v0.8h-0.8zM326.6 53.6h0.8v0.8h-0.8zM306.2 59.8h0.8v0.8h-0.8zM326.5 51.0h0.8v0.8h-0.8zM312.1 61.8h0.8v0.8h-0.8zM298.1 59.7h0.8v0.8h-0.8zM305.8 65.2h0.8v0.8h-0.8zM326.8 50.6h0.8v0.8h-0.8zM315.7 60.8h0.8v0.8h-0.8zM320.3 53.0h0.8v0.8h-0.8zM307.7 60.3h0.8v0.8h-0.8zM303.5 65.7h0.8v0.8h-0.8zM306.1 56.5h0.8v0.8h-0.8zM315.1 60.2h0.8v0.8h-0.8zM317.6 57.2h0.8v0.8h-0.8zM299.2 65.6h0.8v0.8h-0.8zM299.9 64.3h0.8v0.8h-0.8zM319.5 54.1h0.8v0.8h-0.8zM301.0 67.3h0.8v0.8h-0.8zM327.0 54.1h0.8v0.8h-0.8zM301.3 58.3h0.8v0.8h-0.8zM313.1 59.0h0.8v0.8h-0.8zM300.3 63.3h0.8v0.8h-0.8zM314.5 57.5h0.8v0.8h-0.8zM303.0 61.6h0.8v0.8h-0.8zM304.8 65.5h0.8v0.8h-0.8zM315.4 61.7h0.8v0.8h-0.8zM313.2 61.2h0.8v0.8h-0.8zM316.0 59.3h0.8v0.8h-0.8zM302.5 60.5h0.8v0.8h-0.8zM295.6 63.7h0.8v0.8h-0.8zM326.2 51.3h0.8v0.8h-0.8zM314.9 55.5h0.8v0.8h-0.8zM319.7 52.7h0.8v0.8h-0.8zM304.8 62.9h0.8v0.8h-0.8zM317.4 58.6h0.8v0.8h-0.8zM324.1 53.9h0.8v0.8h-0.8zM326.4 50.4h0.8v0.8h-0.8zM327.5 53.0h0.8v0.8h-0.8zM304.8 64.2h0.8v0.8h-0.8zM319.2 53.8h0.8v0.8h-0.8zM303.2 59.5h0.8v0.8h-0.8zM309.1 65.0h0.8v0.8h-0.8zM312.7 58.9h0.8v0.8h-0.8zM322.7 57.8h0.8v0.8h-0.8zM301.7 63.8h0.8v0.8h-0.8zM325.9 56.2h0.8v0.8h-0.8zM309.0 57.2h0.8v0.8h-0.8zM328.6 54.0h0.8v0.8h-0.8zM323.8 57.3h0.8v0.8h-0.8zM327.4 55.2h0.8v0.8h-0.8zM315.2 57.1h0.8v0.8h-0.8zM324.6 56.5h0.8v0.8h-0.8zM328.0 53.4h0.8v0.8h-0.8zM329.4 51.1h0.8v0.8h-0.8zM304.5 65.0h0.8v0.8h-0.8zM303.5 58.8h0.8v0.8h-0.8zM313.4 62.0h0.8v0.8h-0.8zM318.5 57.9h0.8v0.8h-0.8zM324.0 56.3h0.8v0.8h-0.8zM327.6 55.1h0.8v0.8h-0.8zM318.7 59.2h0.8v0.8h-0.8zM308.7 61.6h0.8v0.8h-0.8zM293.8 65.3h0.8v0.8h-0.8zM295.9 60.1h0.8v0.8h-0.8zM316.2 57.1h0.8v0.8h-0.8zM306.9 57.9h0.8v0.8h-0.8zM318.7 55.6h0.8v0.8h-0.8zM298.4 61.4h0.8v0.8h-0.8zM318.0 58.8h0.8v0.8h-0.8zM301.4 65.6h0.8v0.8h-0.8zM302.7 60.3h0.8v0.8h-0.8zM328.6 52.5h0.8v0.8h-0.8zM318.8 60.1h0.8v0.8h-0.8zM310.8 60.0h0.8v0.8h-0.8zM329.1 51.2h0.8v0.8h-0.8zM324.3 52.5h0.8v0.8h-0.8zM302.0 67.3h0.8v0.8h-0.8zM311.9 61.8h0.8v0.8h-0.8zM299.9 64.5h0.8v0.8h-0.8zM324.0 54.4h0.8v0.8h-0.8zM327.6 54.9h0.8v0.8h-0.8zM296.2 65.7h0.8v0.8h-0.8zM309.4 61.9h0.8v0.8h-0.8zM316.7 56.2h0.8v0.8h-0.8zM326.6 53.8h0.8v0.8h-0.8zM310.2 64.5h0.8v0.8h-0.8zM320.1 56.9h0.8v0.8h-0.8zM312.7 61.4h0.8v0.8h-0.8zM300.3 69.0h0.8v0.8h-0.8zM296.5 70.2h0.8v0.8h-0.8zM297.6 79.1h0.8v0.8h-0.8zM298.3 73.1h0.8v0.8h-0.8zM300.4 70.4h0.8v0.8h-0.8zM295.9 75.5h0.8v0.8h-0.8zM300.4 71.6h0.8v0.8h-0.8zM298.4 69.3h0.8v0.8h-0.8zM299.3 74.0h0.8v0.8h-0.8zM296.6 76.2h0.8v0.8h-0.8zM296.2 71.5h0.8v0.8h-0.8zM302.3 78.4h0.8v0.8h-0.8zM304.0 70.9h0.8v0.8h-0.8z" fill="#3a58d0" fill-opacity="0.38"/>
<path d="M294.20,58.00 L296.70,55.50 L301.70,53.50 L308.70,52.00 L315.70,50.60 L323.70,49.60 L326.70,49.80 L323.70,52.00 L315.70,55.50 L308.70,59.00 L302.70,62.50 L297.70,66.00 L294.20,68.00 Z" fill="#2640c0" fill-opacity="0.55" filter="url(#bl3)"/>
<path d="M295.20,58.00 L297.20,55.00 L300.70,53.40 L304.70,52.40 L309.70,52.20 L312.70,52.60 L308.70,54.80 L304.70,57.40 L300.70,60.50 L297.20,63.00 L295.20,63.50 Z" fill="#30b4e8" fill-opacity="0.75" filter="url(#bl1)"/>
<ellipse cx="301.90" cy="57.30" rx="3.0" ry="2.0" fill="#98d048" fill-opacity="0.9" filter="url(#bl2)"/>
<ellipse cx="299.50" cy="63.30" rx="4.0" ry="4.8" fill="#38b8e0" fill-opacity="0.85" filter="url(#bl2)"/>
<ellipse cx="299.50" cy="63.30" rx="3.4" ry="4.1" fill="#88d860" fill-opacity="1" filter="url(#bl2)"/>
<ellipse cx="299.50" cy="63.00" rx="2.4" ry="3.0" fill="#d8e040" fill-opacity="1" filter="url(#bl2)"/>
<ellipse cx="299.10" cy="62.90" rx="1.3" ry="1.7" fill="#f09020" fill-opacity="1" filter="url(#bl2)"/>
<ellipse cx="294.30" cy="61.50" rx="1.1" ry="1.8" fill="#f04820" fill-opacity="1" filter="url(#bl2)"/>
</g>
<ellipse cx="299.50" cy="63.30" rx="4.0" ry="4.9" fill="none" stroke="#1e1a84" stroke-width="1.1" transform="rotate(-12 299.50 63.30)"/>
<rect x="293.70" y="45.00" width="44.60" height="44.30" fill="none" stroke="#cfcfcf" stroke-width="0.6" />
<line x1="293.70" y1="45.00" x2="293.70" y2="89.30" stroke="#666" stroke-width="0.7" />
<line x1="293.70" y1="89.30" x2="338.30" y2="89.30" stroke="#666" stroke-width="0.7" />
<line x1="292.30" y1="50.00" x2="293.70" y2="50.00" stroke="#555" stroke-width="0.5" />
<text x="287.90" y="52.00" font-size="6.1" fill="#333" stroke="#333" stroke-width="0.07" text-anchor="end" >10</text>
<text x="288.10" y="49.40" font-size="3.7819999999999996" fill="#333" stroke="#333" stroke-width="0.07" >5</text>
<line x1="292.30" y1="60.80" x2="293.70" y2="60.80" stroke="#555" stroke-width="0.5" />
<text x="287.90" y="62.80" font-size="6.1" fill="#333" stroke="#333" stroke-width="0.07" text-anchor="end" >10</text>
<text x="288.10" y="60.20" font-size="3.7819999999999996" fill="#333" stroke="#333" stroke-width="0.07" >4</text>
<line x1="292.30" y1="72.20" x2="293.70" y2="72.20" stroke="#555" stroke-width="0.5" />
<text x="287.90" y="74.20" font-size="6.1" fill="#333" stroke="#333" stroke-width="0.07" text-anchor="end" >10</text>
<text x="288.10" y="71.60" font-size="3.7819999999999996" fill="#333" stroke="#333" stroke-width="0.07" >3</text>
<line x1="292.30" y1="83.50" x2="293.70" y2="83.50" stroke="#555" stroke-width="0.5" />
<text x="287.90" y="85.50" font-size="6.1" fill="#333" stroke="#333" stroke-width="0.07" text-anchor="end" >10</text>
<text x="288.10" y="82.90" font-size="3.7819999999999996" fill="#333" stroke="#333" stroke-width="0.07" >2</text>
<line x1="303.30" y1="89.30" x2="303.30" y2="90.70" stroke="#555" stroke-width="0.5" />
<line x1="311.70" y1="89.30" x2="311.70" y2="90.70" stroke="#555" stroke-width="0.5" />
<line x1="320.10" y1="89.30" x2="320.10" y2="90.70" stroke="#555" stroke-width="0.5" />
<line x1="328.50" y1="89.30" x2="328.50" y2="90.70" stroke="#555" stroke-width="0.5" />
<line x1="336.90" y1="89.30" x2="336.90" y2="90.70" stroke="#555" stroke-width="0.5" />
<text x="302.90" y="98.60" font-size="5.8" fill="#333" stroke="#333" stroke-width="0.07" text-anchor="middle" >50</text>
<text x="320.10" y="98.60" font-size="5.8" fill="#333" stroke="#333" stroke-width="0.07" text-anchor="middle" >150</text>
<text x="336.30" y="98.60" font-size="5.8" fill="#333" stroke="#333" stroke-width="0.07" text-anchor="middle" >250</text>
<text x="340.30" y="104.60" font-size="5.6" fill="#333" stroke="#333" stroke-width="0.07" text-anchor="end" >(x1000)</text>
<text x="330.30" y="79.00" font-size="6.4" fill="#4262a2" stroke="#4262a2" stroke-width="0.05" text-anchor="end" >CD45</text>
<text x="330.50" y="76.00" font-size="3.8" fill="#4262a2" stroke="#4262a2" stroke-width="0.05" >dim</text>
<text x="336.50" y="86.00" font-size="6.4" fill="#4262a2" stroke="#4262a2" stroke-width="0.05" text-anchor="end" >19.7%</text>
<clipPath id="clt3"><rect x="356.3" y="45.0" width="44.6" height="44.3"/></clipPath>
<g clip-path="url(#clt3)">
<path d="M367.2 57.9h0.8v0.8h-0.8zM378.8 60.2h0.8v0.8h-0.8zM362.5 63.6h0.8v0.8h-0.8zM388.4 52.0h0.8v0.8h-0.8zM369.1 56.1h0.8v0.8h-0.8zM371.1 60.1h0.8v0.8h-0.8zM364.6 60.7h0.8v0.8h-0.8zM390.2 51.6h0.8v0.8h-0.8zM362.8 61.0h0.8v0.8h-0.8zM373.0 59.0h0.8v0.8h-0.8zM365.5 66.4h0.8v0.8h-0.8zM373.5 62.1h0.8v0.8h-0.8zM368.6 57.4h0.8v0.8h-0.8zM383.4 55.4h0.8v0.8h-0.8zM384.0 54.1h0.8v0.8h-0.8zM370.7 64.0h0.8v0.8h-0.8zM380.3 55.2h0.8v0.8h-0.8zM385.5 51.9h0.8v0.8h-0.8zM370.1 64.3h0.8v0.8h-0.8zM368.8 59.0h0.8v0.8h-0.8zM384.9 56.8h0.8v0.8h-0.8zM373.6 62.4h0.8v0.8h-0.8zM381.3 60.1h0.8v0.8h-0.8zM380.6 58.4h0.8v0.8h-0.8zM389.6 54.7h0.8v0.8h-0.8zM370.9 59.7h0.8v0.8h-0.8zM364.3 66.4h0.8v0.8h-0.8zM376.3 58.5h0.8v0.8h-0.8zM361.5 61.7h0.8v0.8h-0.8zM358.8 63.5h0.8v0.8h-0.8zM381.6 57.2h0.8v0.8h-0.8zM372.5 60.6h0.8v0.8h-0.8zM387.1 57.3h0.8v0.8h-0.8zM363.7 65.0h0.8v0.8h-0.8zM388.1 56.1h0.8v0.8h-0.8zM383.1 57.8h0.8v0.8h-0.8zM361.6 65.6h0.8v0.8h-0.8zM382.8 57.0h0.8v0.8h-0.8zM379.8 59.8h0.8v0.8h-0.8zM368.2 58.6h0.8v0.8h-0.8zM382.3 59.7h0.8v0.8h-0.8zM385.9 54.2h0.8v0.8h-0.8zM386.9 53.5h0.8v0.8h-0.8zM357.9 67.0h0.8v0.8h-0.8zM360.5 63.9h0.8v0.8h-0.8zM379.4 60.3h0.8v0.8h-0.8zM362.5 60.6h0.8v0.8h-0.8zM379.9 55.9h0.8v0.8h-0.8zM367.1 65.2h0.8v0.8h-0.8zM366.2 65.7h0.8v0.8h-0.8zM357.9 68.1h0.8v0.8h-0.8zM358.5 65.1h0.8v0.8h-0.8zM380.5 58.7h0.8v0.8h-0.8zM377.8 56.9h0.8v0.8h-0.8zM366.4 65.7h0.8v0.8h-0.8zM392.9 54.3h0.8v0.8h-0.8zM391.7 50.4h0.8v0.8h-0.8zM374.1 55.6h0.8v0.8h-0.8zM383.3 55.9h0.8v0.8h-0.8zM370.1 57.6h0.8v0.8h-0.8zM365.7 65.0h0.8v0.8h-0.8zM377.0 58.0h0.8v0.8h-0.8zM366.6 60.0h0.8v0.8h-0.8zM379.4 59.5h0.8v0.8h-0.8zM390.4 55.5h0.8v0.8h-0.8zM383.9 57.4h0.8v0.8h-0.8zM358.2 69.4h0.8v0.8h-0.8zM383.3 56.9h0.8v0.8h-0.8zM364.9 64.4h0.8v0.8h-0.8zM392.5 51.8h0.8v0.8h-0.8zM371.2 64.0h0.8v0.8h-0.8zM386.4 54.8h0.8v0.8h-0.8zM364.0 66.0h0.8v0.8h-0.8zM376.3 62.9h0.8v0.8h-0.8zM374.5 61.6h0.8v0.8h-0.8zM361.9 58.8h0.8v0.8h-0.8zM365.5 59.7h0.8v0.8h-0.8zM357.9 69.7h0.8v0.8h-0.8zM389.8 52.7h0.8v0.8h-0.8zM384.3 55.1h0.8v0.8h-0.8zM361.6 57.1h0.8v0.8h-0.8zM366.0 63.2h0.8v0.8h-0.8zM387.0 56.4h0.8v0.8h-0.8zM375.6 54.6h0.8v0.8h-0.8zM359.9 62.3h0.8v0.8h-0.8zM379.1 59.9h0.8v0.8h-0.8zM365.8 59.7h0.8v0.8h-0.8zM390.2 53.2h0.8v0.8h-0.8zM363.4 60.0h0.8v0.8h-0.8zM373.8 60.0h0.8v0.8h-0.8zM373.1 55.1h0.8v0.8h-0.8zM382.7 52.5h0.8v0.8h-0.8zM382.0 58.1h0.8v0.8h-0.8zM366.7 63.5h0.8v0.8h-0.8zM362.5 67.5h0.8v0.8h-0.8zM379.5 53.6h0.8v0.8h-0.8zM368.9 61.1h0.8v0.8h-0.8zM384.7 57.2h0.8v0.8h-0.8zM358.2 59.5h0.8v0.8h-0.8zM391.8 54.5h0.8v0.8h-0.8zM367.1 66.1h0.8v0.8h-0.8zM367.3 64.0h0.8v0.8h-0.8zM389.3 52.3h0.8v0.8h-0.8zM363.8 57.0h0.8v0.8h-0.8zM391.1 54.1h0.8v0.8h-0.8zM365.5 65.8h0.8v0.8h-0.8zM362.8 66.9h0.8v0.8h-0.8zM390.4 56.3h0.8v0.8h-0.8zM378.0 60.4h0.8v0.8h-0.8zM375.0 59.6h0.8v0.8h-0.8zM360.0 58.4h0.8v0.8h-0.8zM377.5 56.4h0.8v0.8h-0.8zM384.2 51.9h0.8v0.8h-0.8zM386.5 56.6h0.8v0.8h-0.8zM381.2 54.6h0.8v0.8h-0.8zM374.6 55.8h0.8v0.8h-0.8zM370.8 56.3h0.8v0.8h-0.8zM383.9 58.1h0.8v0.8h-0.8zM371.2 58.5h0.8v0.8h-0.8zM383.0 53.0h0.8v0.8h-0.8zM383.5 51.5h0.8v0.8h-0.8zM360.3 59.4h0.8v0.8h-0.8zM375.7 58.1h0.8v0.8h-0.8zM371.8 60.8h0.8v0.8h-0.8zM382.3 57.8h0.8v0.8h-0.8zM389.5 55.6h0.8v0.8h-0.8zM381.9 58.8h0.8v0.8h-0.8zM374.5 62.7h0.8v0.8h-0.8zM375.8 61.1h0.8v0.8h-0.8zM367.0 59.8h0.8v0.8h-0.8zM362.1 63.4h0.8v0.8h-0.8zM392.9 53.8h0.8v0.8h-0.8zM386.6 57.4h0.8v0.8h-0.8zM384.4 54.1h0.8v0.8h-0.8zM359.2 61.8h0.8v0.8h-0.8zM388.0 56.3h0.8v0.8h-0.8zM386.3 57.8h0.8v0.8h-0.8zM386.9 55.4h0.8v0.8h-0.8zM370.5 62.2h0.8v0.8h-0.8zM372.0 60.7h0.8v0.8h-0.8zM377.0 59.5h0.8v0.8h-0.8zM375.9 61.5h0.8v0.8h-0.8zM383.3 59.4h0.8v0.8h-0.8zM360.9 60.6h0.8v0.8h-0.8zM359.7 62.3h0.8v0.8h-0.8zM383.6 59.2h0.8v0.8h-0.8zM383.0 57.7h0.8v0.8h-0.8zM384.2 57.3h0.8v0.8h-0.8zM359.3 67.2h0.8v0.8h-0.8zM367.0 59.8h0.8v0.8h-0.8zM378.9 58.7h0.8v0.8h-0.8zM379.2 58.9h0.8v0.8h-0.8zM360.6 57.8h0.8v0.8h-0.8zM372.0 56.8h0.8v0.8h-0.8zM391.9 54.1h0.8v0.8h-0.8zM368.4 64.1h0.8v0.8h-0.8zM369.6 60.3h0.8v0.8h-0.8zM382.3 56.0h0.8v0.8h-0.8zM389.8 52.6h0.8v0.8h-0.8zM387.2 51.3h0.8v0.8h-0.8zM387.2 56.2h0.8v0.8h-0.8zM382.3 55.0h0.8v0.8h-0.8zM389.3 51.7h0.8v0.8h-0.8zM381.1 57.4h0.8v0.8h-0.8zM363.0 58.4h0.8v0.8h-0.8zM391.2 52.3h0.8v0.8h-0.8zM365.5 57.1h0.8v0.8h-0.8zM359.5 69.2h0.8v0.8h-0.8zM372.9 62.4h0.8v0.8h-0.8zM363.2 66.4h0.8v0.8h-0.8zM377.6 54.9h0.8v0.8h-0.8zM367.1 64.7h0.8v0.8h-0.8zM385.6 53.6h0.8v0.8h-0.8zM364.7 59.5h0.8v0.8h-0.8zM381.3 56.8h0.8v0.8h-0.8zM387.4 51.2h0.8v0.8h-0.8zM365.5 56.4h0.8v0.8h-0.8zM372.7 55.7h0.8v0.8h-0.8zM361.8 59.3h0.8v0.8h-0.8zM375.5 56.0h0.8v0.8h-0.8zM363.3 58.2h0.8v0.8h-0.8zM372.2 60.2h0.8v0.8h-0.8zM360.2 61.0h0.8v0.8h-0.8zM385.5 56.2h0.8v0.8h-0.8zM386.3 51.8h0.8v0.8h-0.8zM390.6 53.5h0.8v0.8h-0.8zM388.5 52.5h0.8v0.8h-0.8zM361.8 61.4h0.8v0.8h-0.8zM383.3 52.6h0.8v0.8h-0.8zM374.8 57.7h0.8v0.8h-0.8zM372.4 56.5h0.8v0.8h-0.8zM391.9 52.8h0.8v0.8h-0.8zM381.3 56.9h0.8v0.8h-0.8zM358.5 64.8h0.8v0.8h-0.8zM365.8 62.1h0.8v0.8h-0.8zM380.4 58.5h0.8v0.8h-0.8zM391.7 54.6h0.8v0.8h-0.8zM388.2 53.6h0.8v0.8h-0.8zM366.2 63.2h0.8v0.8h-0.8zM389.2 51.2h0.8v0.8h-0.8zM374.2 56.0h0.8v0.8h-0.8zM363.6 65.2h0.8v0.8h-0.8zM371.8 61.5h0.8v0.8h-0.8zM358.1 70.3h0.8v0.8h-0.8zM377.4 62.0h0.8v0.8h-0.8zM375.4 62.6h0.8v0.8h-0.8zM386.6 52.7h0.8v0.8h-0.8zM392.6 52.5h0.8v0.8h-0.8zM371.9 60.1h0.8v0.8h-0.8zM371.4 62.2h0.8v0.8h-0.8zM364.2 66.4h0.8v0.8h-0.8zM357.3 66.8h0.8v0.8h-0.8zM379.0 59.5h0.8v0.8h-0.8zM364.7 60.4h0.8v0.8h-0.8zM365.0 58.9h0.8v0.8h-0.8zM377.0 59.1h0.8v0.8h-0.8zM366.6 58.4h0.8v0.8h-0.8zM377.5 57.3h0.8v0.8h-0.8zM382.3 59.2h0.8v0.8h-0.8zM391.7 52.0h0.8v0.8h-0.8zM359.4 69.1h0.8v0.8h-0.8zM361.7 57.5h0.8v0.8h-0.8zM391.9 55.0h0.8v0.8h-0.8zM374.2 60.0h0.8v0.8h-0.8zM380.0 56.9h0.8v0.8h-0.8zM361.8 60.7h0.8v0.8h-0.8zM385.1 57.4h0.8v0.8h-0.8zM392.6 51.4h0.8v0.8h-0.8zM379.2 55.1h0.8v0.8h-0.8zM382.5 54.6h0.8v0.8h-0.8zM377.6 59.8h0.8v0.8h-0.8zM360.0 67.0h0.8v0.8h-0.8zM381.1 58.6h0.8v0.8h-0.8zM357.3 65.1h0.8v0.8h-0.8zM379.8 54.4h0.8v0.8h-0.8zM391.1 54.7h0.8v0.8h-0.8zM391.8 51.6h0.8v0.8h-0.8zM373.4 63.6h0.8v0.8h-0.8zM383.5 54.9h0.8v0.8h-0.8zM381.9 58.5h0.8v0.8h-0.8zM366.5 59.8h0.8v0.8h-0.8zM358.3 60.2h0.8v0.8h-0.8zM361.3 65.2h0.8v0.8h-0.8zM389.7 53.8h0.8v0.8h-0.8zM374.9 56.4h0.8v0.8h-0.8zM375.2 54.1h0.8v0.8h-0.8zM371.2 64.3h0.8v0.8h-0.8zM384.1 57.6h0.8v0.8h-0.8zM382.0 59.2h0.8v0.8h-0.8zM365.2 65.2h0.8v0.8h-0.8zM387.2 55.4h0.8v0.8h-0.8zM387.1 56.6h0.8v0.8h-0.8zM359.6 75.2h0.8v0.8h-0.8zM358.4 69.6h0.8v0.8h-0.8zM361.7 69.4h0.8v0.8h-0.8zM358.0 72.6h0.8v0.8h-0.8zM364.6 72.6h0.8v0.8h-0.8zM357.9 69.7h0.8v0.8h-0.8zM365.6 70.0h0.8v0.8h-0.8zM357.9 77.8h0.8v0.8h-0.8zM365.5 71.8h0.8v0.8h-0.8zM358.3 72.1h0.8v0.8h-0.8z" fill="#3a58d0" fill-opacity="0.32"/>
<path d="M356.80,59.00 L359.30,56.00 L364.30,54.00 L371.30,52.40 L378.30,51.20 L386.30,50.20 L390.30,50.40 L386.30,52.40 L378.30,55.20 L371.30,58.50 L365.30,62.00 L360.30,66.00 L356.80,69.00 Z" fill="#2640c0" fill-opacity="0.35" filter="url(#bl3)"/>
<path d="M357.80,58.00 L359.80,55.00 L363.30,53.40 L367.30,52.40 L372.30,52.20 L375.30,52.60 L371.30,54.80 L367.30,57.40 L363.30,60.50 L359.80,63.00 L357.80,63.50 Z" fill="#30b4e8" fill-opacity="0.45" filter="url(#bl1)"/>
<ellipse cx="364.90" cy="57.70" rx="3.0" ry="1.6" fill="#60c8d0" fill-opacity="0.7" filter="url(#bl2)"/>
<ellipse cx="363.10" cy="63.30" rx="3.8" ry="4.6" fill="#a0c0f0" fill-opacity="0.6" filter="url(#bl2)"/>
<ellipse cx="363.10" cy="61.10" rx="3.4" ry="2.6" fill="#70d070" fill-opacity="1" filter="url(#bl2)"/>
<ellipse cx="362.90" cy="60.70" rx="2.6" ry="1.8" fill="#e0e040" fill-opacity="1" filter="url(#bl2)"/>
<ellipse cx="362.30" cy="60.50" rx="1.4" ry="1.2" fill="#f09020" fill-opacity="0.9" filter="url(#bl2)"/>
<ellipse cx="357.10" cy="62.10" rx="0.9" ry="1.6" fill="#f08020" fill-opacity="0.8" filter="url(#bl2)"/>
</g>
<ellipse cx="363.10" cy="63.30" rx="4.0" ry="5.1" fill="none" stroke="#1e1a84" stroke-width="1.1" transform="rotate(-12 363.10 63.30)"/>
<rect x="356.30" y="45.00" width="44.60" height="44.30" fill="none" stroke="#cfcfcf" stroke-width="0.6" />
<line x1="356.30" y1="45.00" x2="356.30" y2="89.30" stroke="#666" stroke-width="0.7" />
<line x1="356.30" y1="89.30" x2="400.90" y2="89.30" stroke="#666" stroke-width="0.7" />
<line x1="354.90" y1="50.00" x2="356.30" y2="50.00" stroke="#555" stroke-width="0.5" />
<text x="350.50" y="52.00" font-size="6.1" fill="#333" stroke="#333" stroke-width="0.07" text-anchor="end" >10</text>
<text x="350.70" y="49.40" font-size="3.7819999999999996" fill="#333" stroke="#333" stroke-width="0.07" >5</text>
<line x1="354.90" y1="60.80" x2="356.30" y2="60.80" stroke="#555" stroke-width="0.5" />
<text x="350.50" y="62.80" font-size="6.1" fill="#333" stroke="#333" stroke-width="0.07" text-anchor="end" >10</text>
<text x="350.70" y="60.20" font-size="3.7819999999999996" fill="#333" stroke="#333" stroke-width="0.07" >4</text>
<line x1="354.90" y1="72.20" x2="356.30" y2="72.20" stroke="#555" stroke-width="0.5" />
<text x="350.50" y="74.20" font-size="6.1" fill="#333" stroke="#333" stroke-width="0.07" text-anchor="end" >10</text>
<text x="350.70" y="71.60" font-size="3.7819999999999996" fill="#333" stroke="#333" stroke-width="0.07" >3</text>
<line x1="354.90" y1="83.50" x2="356.30" y2="83.50" stroke="#555" stroke-width="0.5" />
<text x="350.50" y="85.50" font-size="6.1" fill="#333" stroke="#333" stroke-width="0.07" text-anchor="end" >10</text>
<text x="350.70" y="82.90" font-size="3.7819999999999996" fill="#333" stroke="#333" stroke-width="0.07" >2</text>
<line x1="365.90" y1="89.30" x2="365.90" y2="90.70" stroke="#555" stroke-width="0.5" />
<line x1="374.30" y1="89.30" x2="374.30" y2="90.70" stroke="#555" stroke-width="0.5" />
<line x1="382.70" y1="89.30" x2="382.70" y2="90.70" stroke="#555" stroke-width="0.5" />
<line x1="391.10" y1="89.30" x2="391.10" y2="90.70" stroke="#555" stroke-width="0.5" />
<line x1="399.50" y1="89.30" x2="399.50" y2="90.70" stroke="#555" stroke-width="0.5" />
<text x="365.50" y="98.60" font-size="5.8" fill="#333" stroke="#333" stroke-width="0.07" text-anchor="middle" >50</text>
<text x="382.70" y="98.60" font-size="5.8" fill="#333" stroke="#333" stroke-width="0.07" text-anchor="middle" >150</text>
<text x="398.90" y="98.60" font-size="5.8" fill="#333" stroke="#333" stroke-width="0.07" text-anchor="middle" >250</text>
<text x="402.90" y="104.60" font-size="5.6" fill="#333" stroke="#333" stroke-width="0.07" text-anchor="end" >(x1000)</text>
<text x="392.90" y="79.00" font-size="6.4" fill="#4262a2" stroke="#4262a2" stroke-width="0.05" text-anchor="end" >CD45</text>
<text x="393.10" y="76.00" font-size="3.8" fill="#4262a2" stroke="#4262a2" stroke-width="0.05" >dim</text>
<text x="399.10" y="86.00" font-size="6.4" fill="#4262a2" stroke="#4262a2" stroke-width="0.05" text-anchor="end" >7.2%</text>
<clipPath id="clb0"><rect x="167.4" y="119.3" width="44.6" height="43.8"/></clipPath>
<g clip-path="url(#clb0)">
<path d="M183.7 141.4h0.8v0.8h-0.8zM185.5 138.5h0.8v0.8h-0.8zM175.9 139.9h0.8v0.8h-0.8zM177.2 140.1h0.8v0.8h-0.8zM188.6 140.3h0.8v0.8h-0.8zM189.6 139.5h0.8v0.8h-0.8zM190.0 142.5h0.8v0.8h-0.8zM184.1 138.7h0.8v0.8h-0.8zM192.4 139.8h0.8v0.8h-0.8zM187.7 140.6h0.8v0.8h-0.8zM189.6 140.0h0.8v0.8h-0.8zM184.9 139.5h0.8v0.8h-0.8zM190.9 138.6h0.8v0.8h-0.8zM191.0 141.5h0.8v0.8h-0.8zM180.7 140.9h0.8v0.8h-0.8zM189.8 140.6h0.8v0.8h-0.8zM181.7 137.0h0.8v0.8h-0.8zM177.6 138.6h0.8v0.8h-0.8zM179.2 137.9h0.8v0.8h-0.8zM180.7 139.0h0.8v0.8h-0.8zM188.8 139.3h0.8v0.8h-0.8zM181.9 139.6h0.8v0.8h-0.8zM187.3 141.4h0.8v0.8h-0.8zM190.0 142.2h0.8v0.8h-0.8zM181.5 140.2h0.8v0.8h-0.8zM183.1 138.1h0.8v0.8h-0.8zM188.5 137.8h0.8v0.8h-0.8zM192.1 140.1h0.8v0.8h-0.8zM189.2 141.0h0.8v0.8h-0.8zM182.4 140.3h0.8v0.8h-0.8zM190.6 140.7h0.8v0.8h-0.8zM191.3 138.9h0.8v0.8h-0.8zM190.9 135.8h0.8v0.8h-0.8zM183.4 138.7h0.8v0.8h-0.8zM175.9 142.0h0.8v0.8h-0.8zM188.4 140.1h0.8v0.8h-0.8zM187.0 140.0h0.8v0.8h-0.8zM179.6 142.7h0.8v0.8h-0.8zM186.2 138.3h0.8v0.8h-0.8zM180.9 141.1h0.8v0.8h-0.8zM187.2 141.0h0.8v0.8h-0.8zM184.5 139.3h0.8v0.8h-0.8zM190.6 137.8h0.8v0.8h-0.8zM178.1 141.1h0.8v0.8h-0.8zM186.6 140.4h0.8v0.8h-0.8zM182.2 139.1h0.8v0.8h-0.8zM183.6 138.7h0.8v0.8h-0.8zM186.5 139.1h0.8v0.8h-0.8zM184.6 137.0h0.8v0.8h-0.8zM186.0 143.1h0.8v0.8h-0.8zM188.6 138.1h0.8v0.8h-0.8zM178.0 137.5h0.8v0.8h-0.8zM182.8 140.3h0.8v0.8h-0.8zM174.8 143.2h0.8v0.8h-0.8zM178.9 139.3h0.8v0.8h-0.8zM186.3 138.7h0.8v0.8h-0.8zM176.5 138.8h0.8v0.8h-0.8zM190.3 139.9h0.8v0.8h-0.8zM177.3 138.0h0.8v0.8h-0.8zM185.0 143.1h0.8v0.8h-0.8zM175.6 142.0h0.8v0.8h-0.8zM183.0 139.8h0.8v0.8h-0.8zM178.1 138.8h0.8v0.8h-0.8zM176.6 140.7h0.8v0.8h-0.8zM191.3 141.4h0.8v0.8h-0.8zM180.1 141.0h0.8v0.8h-0.8zM185.6 142.1h0.8v0.8h-0.8zM184.0 140.6h0.8v0.8h-0.8zM192.9 140.5h0.8v0.8h-0.8zM178.5 139.5h0.8v0.8h-0.8zM192.0 142.3h0.8v0.8h-0.8zM192.1 135.8h0.8v0.8h-0.8zM188.4 140.4h0.8v0.8h-0.8zM183.0 137.2h0.8v0.8h-0.8zM190.1 140.3h0.8v0.8h-0.8zM178.9 141.1h0.8v0.8h-0.8zM178.1 143.5h0.8v0.8h-0.8zM191.1 139.1h0.8v0.8h-0.8zM182.3 140.7h0.8v0.8h-0.8zM186.3 140.6h0.8v0.8h-0.8zM191.6 139.6h0.8v0.8h-0.8zM183.7 140.9h0.8v0.8h-0.8zM184.1 142.0h0.8v0.8h-0.8zM180.6 137.1h0.8v0.8h-0.8zM191.7 141.2h0.8v0.8h-0.8zM188.0 142.4h0.8v0.8h-0.8zM188.4 139.9h0.8v0.8h-0.8zM192.1 141.1h0.8v0.8h-0.8zM191.5 139.3h0.8v0.8h-0.8zM191.2 139.5h0.8v0.8h-0.8zM184.7 141.2h0.8v0.8h-0.8zM184.3 139.1h0.8v0.8h-0.8zM181.6 140.2h0.8v0.8h-0.8zM192.2 137.8h0.8v0.8h-0.8zM192.0 140.9h0.8v0.8h-0.8zM190.4 139.8h0.8v0.8h-0.8zM191.0 143.3h0.8v0.8h-0.8zM193.1 139.3h0.8v0.8h-0.8zM191.1 137.0h0.8v0.8h-0.8zM182.2 138.8h0.8v0.8h-0.8zM191.4 138.4h0.8v0.8h-0.8zM179.0 138.3h0.8v0.8h-0.8zM191.2 139.3h0.8v0.8h-0.8zM184.1 141.4h0.8v0.8h-0.8zM191.9 137.1h0.8v0.8h-0.8zM179.2 142.1h0.8v0.8h-0.8zM189.4 138.7h0.8v0.8h-0.8zM189.0 142.8h0.8v0.8h-0.8zM187.6 140.7h0.8v0.8h-0.8zM186.1 138.2h0.8v0.8h-0.8zM190.7 142.1h0.8v0.8h-0.8zM191.8 140.0h0.8v0.8h-0.8zM182.1 141.1h0.8v0.8h-0.8zM177.9 139.5h0.8v0.8h-0.8zM190.9 140.0h0.8v0.8h-0.8zM181.6 140.2h0.8v0.8h-0.8zM190.2 140.0h0.8v0.8h-0.8zM180.9 138.1h0.8v0.8h-0.8zM191.0 140.1h0.8v0.8h-0.8zM192.7 138.9h0.8v0.8h-0.8zM192.0 141.8h0.8v0.8h-0.8zM186.4 141.8h0.8v0.8h-0.8zM183.5 138.2h0.8v0.8h-0.8zM191.8 139.0h0.8v0.8h-0.8zM188.1 139.4h0.8v0.8h-0.8zM191.3 137.9h0.8v0.8h-0.8zM185.4 139.5h0.8v0.8h-0.8zM191.9 139.1h0.8v0.8h-0.8zM184.5 138.8h0.8v0.8h-0.8zM184.5 142.1h0.8v0.8h-0.8zM178.7 139.1h0.8v0.8h-0.8zM192.3 141.8h0.8v0.8h-0.8zM185.7 140.2h0.8v0.8h-0.8zM189.9 139.1h0.8v0.8h-0.8zM187.2 140.0h0.8v0.8h-0.8zM191.2 140.1h0.8v0.8h-0.8zM181.5 138.2h0.8v0.8h-0.8zM190.2 140.1h0.8v0.8h-0.8zM191.9 138.6h0.8v0.8h-0.8zM193.1 138.3h0.8v0.8h-0.8zM189.8 140.3h0.8v0.8h-0.8zM192.4 140.1h0.8v0.8h-0.8zM183.8 141.0h0.8v0.8h-0.8zM190.1 140.5h0.8v0.8h-0.8zM186.8 141.6h0.8v0.8h-0.8zM189.3 142.2h0.8v0.8h-0.8zM193.2 142.8h0.8v0.8h-0.8zM187.8 140.0h0.8v0.8h-0.8zM192.2 138.7h0.8v0.8h-0.8zM187.6 139.9h0.8v0.8h-0.8zM184.5 136.5h0.8v0.8h-0.8zM192.4 139.8h0.8v0.8h-0.8zM186.9 140.0h0.8v0.8h-0.8zM192.1 142.9h0.8v0.8h-0.8zM187.0 137.4h0.8v0.8h-0.8zM192.5 138.9h0.8v0.8h-0.8zM188.7 139.4h0.8v0.8h-0.8zM191.0 137.8h0.8v0.8h-0.8zM182.4 140.7h0.8v0.8h-0.8zM182.7 138.0h0.8v0.8h-0.8zM186.3 140.6h0.8v0.8h-0.8zM177.5 141.2h0.8v0.8h-0.8zM189.9 139.8h0.8v0.8h-0.8zM190.3 139.8h0.8v0.8h-0.8zM187.1 140.9h0.8v0.8h-0.8zM180.3 136.9h0.8v0.8h-0.8zM181.0 137.6h0.8v0.8h-0.8zM188.1 139.2h0.8v0.8h-0.8zM189.8 137.1h0.8v0.8h-0.8zM189.8 139.3h0.8v0.8h-0.8zM192.4 142.7h0.8v0.8h-0.8zM175.7 141.3h0.8v0.8h-0.8zM177.3 139.1h0.8v0.8h-0.8zM176.6 140.4h0.8v0.8h-0.8zM179.3 137.4h0.8v0.8h-0.8zM186.2 136.1h0.8v0.8h-0.8zM184.0 135.4h0.8v0.8h-0.8zM190.5 139.7h0.8v0.8h-0.8zM179.9 140.8h0.8v0.8h-0.8zM185.3 138.7h0.8v0.8h-0.8zM179.9 138.8h0.8v0.8h-0.8zM181.4 140.6h0.8v0.8h-0.8zM183.6 140.2h0.8v0.8h-0.8zM186.9 140.4h0.8v0.8h-0.8zM185.8 141.4h0.8v0.8h-0.8zM192.9 135.9h0.8v0.8h-0.8zM186.4 140.0h0.8v0.8h-0.8zM180.9 139.0h0.8v0.8h-0.8zM180.1 139.2h0.8v0.8h-0.8zM176.7 138.4h0.8v0.8h-0.8zM185.2 135.7h0.8v0.8h-0.8zM184.3 138.4h0.8v0.8h-0.8zM189.5 140.4h0.8v0.8h-0.8zM185.0 141.5h0.8v0.8h-0.8zM187.9 142.3h0.8v0.8h-0.8zM171.9 141.2h0.8v0.8h-0.8zM184.3 137.6h0.8v0.8h-0.8zM188.7 141.1h0.8v0.8h-0.8zM185.7 138.9h0.8v0.8h-0.8zM183.2 137.5h0.8v0.8h-0.8zM190.1 138.9h0.8v0.8h-0.8zM192.6 140.6h0.8v0.8h-0.8zM191.5 140.9h0.8v0.8h-0.8zM190.8 137.7h0.8v0.8h-0.8zM184.0 138.4h0.8v0.8h-0.8zM192.6 138.2h0.8v0.8h-0.8zM180.5 139.2h0.8v0.8h-0.8zM178.4 142.0h0.8v0.8h-0.8zM174.1 138.0h0.8v0.8h-0.8zM183.7 137.8h0.8v0.8h-0.8zM184.5 139.9h0.8v0.8h-0.8zM192.0 138.5h0.8v0.8h-0.8zM192.4 141.3h0.8v0.8h-0.8zM188.9 138.3h0.8v0.8h-0.8zM184.9 139.9h0.8v0.8h-0.8zM188.4 140.0h0.8v0.8h-0.8zM184.6 138.5h0.8v0.8h-0.8zM184.9 137.4h0.8v0.8h-0.8zM187.4 142.4h0.8v0.8h-0.8zM182.7 138.2h0.8v0.8h-0.8zM179.8 142.3h0.8v0.8h-0.8zM189.5 140.7h0.8v0.8h-0.8zM176.1 139.8h0.8v0.8h-0.8zM191.0 140.4h0.8v0.8h-0.8zM176.0 140.6h0.8v0.8h-0.8zM182.5 139.4h0.8v0.8h-0.8zM192.2 137.2h0.8v0.8h-0.8zM192.6 136.3h0.8v0.8h-0.8zM177.4 138.6h0.8v0.8h-0.8zM192.4 138.7h0.8v0.8h-0.8zM190.3 140.1h0.8v0.8h-0.8zM191.6 139.2h0.8v0.8h-0.8zM191.8 140.2h0.8v0.8h-0.8zM190.4 136.1h0.8v0.8h-0.8zM174.9 137.2h0.8v0.8h-0.8zM175.9 139.9h0.8v0.8h-0.8zM189.8 139.9h0.8v0.8h-0.8zM188.7 140.4h0.8v0.8h-0.8zM180.4 140.3h0.8v0.8h-0.8zM188.4 137.7h0.8v0.8h-0.8zM184.4 136.0h0.8v0.8h-0.8zM193.0 138.2h0.8v0.8h-0.8zM182.2 140.3h0.8v0.8h-0.8zM181.7 144.8h0.8v0.8h-0.8zM189.7 138.9h0.8v0.8h-0.8zM180.3 140.1h0.8v0.8h-0.8zM184.3 140.5h0.8v0.8h-0.8zM190.1 141.5h0.8v0.8h-0.8zM189.4 140.4h0.8v0.8h-0.8zM174.6 137.1h0.8v0.8h-0.8zM188.0 140.7h0.8v0.8h-0.8zM186.0 141.3h0.8v0.8h-0.8zM184.0 138.2h0.8v0.8h-0.8zM185.1 142.7h0.8v0.8h-0.8zM192.3 138.6h0.8v0.8h-0.8zM187.7 140.3h0.8v0.8h-0.8zM184.9 140.5h0.8v0.8h-0.8zM189.5 142.6h0.8v0.8h-0.8zM190.8 139.8h0.8v0.8h-0.8zM187.1 142.6h0.8v0.8h-0.8zM185.4 139.8h0.8v0.8h-0.8zM189.3 137.4h0.8v0.8h-0.8zM185.3 138.6h0.8v0.8h-0.8zM192.8 143.2h0.8v0.8h-0.8zM188.5 138.7h0.8v0.8h-0.8zM183.6 138.8h0.8v0.8h-0.8zM192.1 140.6h0.8v0.8h-0.8zM190.8 140.4h0.8v0.8h-0.8zM193.1 136.8h0.8v0.8h-0.8zM189.5 138.6h0.8v0.8h-0.8zM182.4 142.1h0.8v0.8h-0.8zM188.5 141.4h0.8v0.8h-0.8zM186.6 142.4h0.8v0.8h-0.8zM182.7 140.3h0.8v0.8h-0.8zM192.4 139.4h0.8v0.8h-0.8zM190.4 141.3h0.8v0.8h-0.8zM187.9 141.9h0.8v0.8h-0.8zM192.2 138.3h0.8v0.8h-0.8zM192.5 138.8h0.8v0.8h-0.8zM177.3 139.8h0.8v0.8h-0.8zM182.7 139.0h0.8v0.8h-0.8zM178.3 140.9h0.8v0.8h-0.8zM190.0 138.4h0.8v0.8h-0.8zM182.3 139.4h0.8v0.8h-0.8zM177.8 137.4h0.8v0.8h-0.8zM186.7 139.5h0.8v0.8h-0.8zM193.6 132.3h0.8v0.8h-0.8zM193.6 124.7h0.8v0.8h-0.8zM199.1 112.5h0.8v0.8h-0.8zM192.2 127.3h0.8v0.8h-0.8zM196.6 131.3h0.8v0.8h-0.8zM191.4 122.1h0.8v0.8h-0.8zM196.5 121.6h0.8v0.8h-0.8zM198.6 132.0h0.8v0.8h-0.8zM195.4 135.5h0.8v0.8h-0.8zM193.9 134.5h0.8v0.8h-0.8zM194.5 126.8h0.8v0.8h-0.8zM195.0 135.3h0.8v0.8h-0.8zM193.9 131.1h0.8v0.8h-0.8zM193.4 135.4h0.8v0.8h-0.8zM199.6 127.7h0.8v0.8h-0.8zM195.8 123.8h0.8v0.8h-0.8zM197.6 134.0h0.8v0.8h-0.8zM194.8 127.8h0.8v0.8h-0.8zM195.8 133.3h0.8v0.8h-0.8zM191.4 126.5h0.8v0.8h-0.8zM199.8 134.0h0.8v0.8h-0.8zM196.4 134.1h0.8v0.8h-0.8zM194.1 132.3h0.8v0.8h-0.8zM197.8 133.3h0.8v0.8h-0.8zM196.4 128.3h0.8v0.8h-0.8zM194.0 134.3h0.8v0.8h-0.8zM193.4 131.3h0.8v0.8h-0.8zM194.3 127.5h0.8v0.8h-0.8zM193.4 123.7h0.8v0.8h-0.8zM194.5 129.6h0.8v0.8h-0.8zM193.0 130.9h0.8v0.8h-0.8zM193.1 122.9h0.8v0.8h-0.8zM198.3 131.9h0.8v0.8h-0.8zM191.8 135.3h0.8v0.8h-0.8zM193.5 122.8h0.8v0.8h-0.8zM196.2 120.1h0.8v0.8h-0.8zM193.9 129.8h0.8v0.8h-0.8zM198.3 128.8h0.8v0.8h-0.8zM194.4 133.6h0.8v0.8h-0.8zM196.3 127.5h0.8v0.8h-0.8zM195.7 134.8h0.8v0.8h-0.8zM197.5 124.3h0.8v0.8h-0.8zM193.8 132.0h0.8v0.8h-0.8zM194.4 130.4h0.8v0.8h-0.8zM193.7 116.3h0.8v0.8h-0.8zM174.6 132.2h0.8v0.8h-0.8zM199.4 128.8h0.8v0.8h-0.8zM186.8 127.6h0.8v0.8h-0.8zM171.3 125.8h0.8v0.8h-0.8zM174.1 127.1h0.8v0.8h-0.8zM189.3 131.9h0.8v0.8h-0.8zM198.8 134.0h0.8v0.8h-0.8zM181.3 138.4h0.8v0.8h-0.8zM189.4 131.5h0.8v0.8h-0.8zM196.3 133.7h0.8v0.8h-0.8z" fill="#3a58d0" fill-opacity="0.4"/>
<ellipse cx="195.20" cy="138.50" rx="5.80" ry="5.30" fill="#2840c0" fill-opacity="0.95" filter="url(#bl2)"/>
<ellipse cx="195.50" cy="138.70" rx="4.80" ry="4.40" fill="#30b0e0" fill-opacity="1" filter="url(#bl2)"/>
<ellipse cx="196.00" cy="139.00" rx="3.70" ry="3.40" fill="#58c868" fill-opacity="1" filter="url(#bl2)"/>
<ellipse cx="196.40" cy="139.30" rx="2.60" ry="2.30" fill="#c8e040" fill-opacity="1" filter="url(#bl2)"/>
<ellipse cx="196.80" cy="139.50" rx="1.60" ry="1.40" fill="#f07820" fill-opacity="1" filter="url(#bl2)"/>
<ellipse cx="196.80" cy="139.50" rx="0.90" ry="0.80" fill="#f03c18" fill-opacity="1" filter="url(#bl2)"/>
</g>
<rect x="167.40" y="119.30" width="44.60" height="43.80" fill="none" stroke="#cfcfcf" stroke-width="0.6" />
<line x1="167.40" y1="119.30" x2="167.40" y2="163.10" stroke="#666" stroke-width="0.7" />
<line x1="167.40" y1="163.10" x2="212.00" y2="163.10" stroke="#666" stroke-width="0.7" />
<rect x="189.20" y="119.70" width="22.40" height="26.20" fill="none" stroke="#74202e" stroke-width="1.2" />
<line x1="166.00" y1="123.80" x2="167.40" y2="123.80" stroke="#555" stroke-width="0.5" />
<text x="161.60" y="125.80" font-size="6.1" fill="#333" stroke="#333" stroke-width="0.07" text-anchor="end" >10</text>
<text x="161.80" y="123.20" font-size="3.7819999999999996" fill="#333" stroke="#333" stroke-width="0.07" >5</text>
<line x1="166.00" y1="134.00" x2="167.40" y2="134.00" stroke="#555" stroke-width="0.5" />
<text x="161.60" y="136.00" font-size="6.1" fill="#333" stroke="#333" stroke-width="0.07" text-anchor="end" >10</text>
<text x="161.80" y="133.40" font-size="3.7819999999999996" fill="#333" stroke="#333" stroke-width="0.07" >4</text>
<line x1="166.00" y1="144.20" x2="167.40" y2="144.20" stroke="#555" stroke-width="0.5" />
<text x="161.60" y="146.20" font-size="6.1" fill="#333" stroke="#333" stroke-width="0.07" text-anchor="end" >10</text>
<text x="161.80" y="143.60" font-size="3.7819999999999996" fill="#333" stroke="#333" stroke-width="0.07" >3</text>
<line x1="166.00" y1="154.20" x2="167.40" y2="154.20" stroke="#555" stroke-width="0.5" />
<text x="161.60" y="156.20" font-size="6.1" fill="#333" stroke="#333" stroke-width="0.07" text-anchor="end" >10</text>
<text x="161.80" y="153.60" font-size="3.7819999999999996" fill="#333" stroke="#333" stroke-width="0.07" >2</text>
<line x1="177.00" y1="163.10" x2="177.00" y2="164.50" stroke="#555" stroke-width="0.5" />
<text x="177.60" y="172.60" font-size="5.6" fill="#333" stroke="#333" stroke-width="0.07" text-anchor="end" >10</text>
<text x="177.80" y="170.00" font-size="3.5" fill="#333" stroke="#333" stroke-width="0.07" >2</text>
<line x1="188.60" y1="163.10" x2="188.60" y2="164.50" stroke="#555" stroke-width="0.5" />
<text x="189.20" y="172.60" font-size="5.6" fill="#333" stroke="#333" stroke-width="0.07" text-anchor="end" >10</text>
<text x="189.40" y="170.00" font-size="3.5" fill="#333" stroke="#333" stroke-width="0.07" >3</text>
<line x1="198.40" y1="163.10" x2="198.40" y2="164.50" stroke="#555" stroke-width="0.5" />
<text x="199.00" y="172.60" font-size="5.6" fill="#333" stroke="#333" stroke-width="0.07" text-anchor="end" >10</text>
<text x="199.20" y="170.00" font-size="3.5" fill="#333" stroke="#333" stroke-width="0.07" >4</text>
<line x1="208.00" y1="163.10" x2="208.00" y2="164.50" stroke="#555" stroke-width="0.5" />
<text x="208.60" y="172.60" font-size="5.6" fill="#333" stroke="#333" stroke-width="0.07" text-anchor="end" >10</text>
<text x="208.80" y="170.00" font-size="3.5" fill="#333" stroke="#333" stroke-width="0.07" >5</text>
<text x="207.00" y="154.00" font-size="6.6" fill="#7e6040" stroke="#7e6040" stroke-width="0.08" text-anchor="end" >CD34</text>
<text x="207.40" y="150.60" font-size="4.2" fill="#7e6040" stroke="#7e6040" stroke-width="0.08" >+</text>
<text x="210.20" y="161.20" font-size="6.6" fill="#7e6040" stroke="#7e6040" stroke-width="0.08" text-anchor="end" >33.9%</text>
<clipPath id="clb1"><rect x="231.4" y="119.3" width="44.6" height="43.8"/></clipPath>
<g clip-path="url(#clb1)">
<path d="M248.6 137.0h0.8v0.8h-0.8zM252.5 136.8h0.8v0.8h-0.8zM246.1 142.1h0.8v0.8h-0.8zM257.1 138.3h0.8v0.8h-0.8zM251.8 138.2h0.8v0.8h-0.8zM245.2 137.3h0.8v0.8h-0.8zM255.6 138.1h0.8v0.8h-0.8zM253.4 136.6h0.8v0.8h-0.8zM257.3 134.8h0.8v0.8h-0.8zM253.6 138.1h0.8v0.8h-0.8zM239.6 138.0h0.8v0.8h-0.8zM249.8 139.5h0.8v0.8h-0.8zM252.0 137.8h0.8v0.8h-0.8zM236.3 135.1h0.8v0.8h-0.8zM252.3 139.8h0.8v0.8h-0.8zM255.4 139.2h0.8v0.8h-0.8zM244.5 138.2h0.8v0.8h-0.8zM255.5 141.1h0.8v0.8h-0.8zM246.7 140.3h0.8v0.8h-0.8zM256.1 136.7h0.8v0.8h-0.8zM257.0 138.0h0.8v0.8h-0.8zM249.4 137.9h0.8v0.8h-0.8zM255.5 137.5h0.8v0.8h-0.8zM257.2 140.1h0.8v0.8h-0.8zM246.7 139.8h0.8v0.8h-0.8zM243.6 136.6h0.8v0.8h-0.8zM256.9 139.9h0.8v0.8h-0.8zM257.3 140.3h0.8v0.8h-0.8zM253.2 138.0h0.8v0.8h-0.8zM244.0 137.8h0.8v0.8h-0.8zM248.5 136.1h0.8v0.8h-0.8zM256.3 138.1h0.8v0.8h-0.8zM243.9 139.0h0.8v0.8h-0.8zM243.6 135.7h0.8v0.8h-0.8zM243.9 136.6h0.8v0.8h-0.8zM251.0 136.3h0.8v0.8h-0.8zM249.5 137.2h0.8v0.8h-0.8zM251.6 138.7h0.8v0.8h-0.8zM249.7 138.2h0.8v0.8h-0.8zM246.0 138.2h0.8v0.8h-0.8zM255.4 136.9h0.8v0.8h-0.8zM246.1 139.6h0.8v0.8h-0.8zM249.1 139.1h0.8v0.8h-0.8zM248.1 138.2h0.8v0.8h-0.8zM253.4 137.0h0.8v0.8h-0.8zM255.5 136.3h0.8v0.8h-0.8zM256.6 138.7h0.8v0.8h-0.8zM252.5 138.4h0.8v0.8h-0.8zM241.2 138.7h0.8v0.8h-0.8zM248.0 140.1h0.8v0.8h-0.8zM249.7 139.3h0.8v0.8h-0.8zM247.5 134.4h0.8v0.8h-0.8zM246.1 137.8h0.8v0.8h-0.8zM243.8 137.6h0.8v0.8h-0.8zM256.4 139.4h0.8v0.8h-0.8zM253.9 137.2h0.8v0.8h-0.8zM239.4 138.5h0.8v0.8h-0.8zM242.7 139.4h0.8v0.8h-0.8zM243.8 136.2h0.8v0.8h-0.8zM252.8 139.9h0.8v0.8h-0.8zM248.1 138.8h0.8v0.8h-0.8zM242.0 138.0h0.8v0.8h-0.8zM251.1 135.6h0.8v0.8h-0.8zM244.2 137.3h0.8v0.8h-0.8zM253.3 136.6h0.8v0.8h-0.8zM241.6 138.2h0.8v0.8h-0.8zM245.6 138.0h0.8v0.8h-0.8zM249.3 138.3h0.8v0.8h-0.8zM253.7 138.8h0.8v0.8h-0.8zM257.3 137.5h0.8v0.8h-0.8zM253.5 139.2h0.8v0.8h-0.8zM245.6 136.1h0.8v0.8h-0.8zM249.8 139.5h0.8v0.8h-0.8zM243.8 139.9h0.8v0.8h-0.8zM257.3 139.0h0.8v0.8h-0.8zM256.5 139.6h0.8v0.8h-0.8zM250.8 139.2h0.8v0.8h-0.8zM244.9 137.2h0.8v0.8h-0.8zM255.2 136.5h0.8v0.8h-0.8zM247.2 140.8h0.8v0.8h-0.8zM250.5 136.9h0.8v0.8h-0.8zM243.3 137.3h0.8v0.8h-0.8zM253.7 138.2h0.8v0.8h-0.8zM253.8 134.2h0.8v0.8h-0.8zM239.4 136.0h0.8v0.8h-0.8zM254.0 138.3h0.8v0.8h-0.8zM247.8 137.4h0.8v0.8h-0.8zM239.8 135.9h0.8v0.8h-0.8zM248.3 136.8h0.8v0.8h-0.8zM253.8 136.4h0.8v0.8h-0.8zM246.9 140.0h0.8v0.8h-0.8zM257.2 138.0h0.8v0.8h-0.8zM241.6 138.2h0.8v0.8h-0.8zM254.2 139.6h0.8v0.8h-0.8zM243.8 136.4h0.8v0.8h-0.8zM256.0 137.9h0.8v0.8h-0.8zM248.9 137.3h0.8v0.8h-0.8zM253.5 138.6h0.8v0.8h-0.8zM248.4 138.1h0.8v0.8h-0.8zM256.0 139.5h0.8v0.8h-0.8zM256.4 138.1h0.8v0.8h-0.8zM254.9 139.5h0.8v0.8h-0.8zM257.1 136.5h0.8v0.8h-0.8zM253.1 140.1h0.8v0.8h-0.8zM244.9 137.4h0.8v0.8h-0.8zM251.3 136.7h0.8v0.8h-0.8zM248.8 138.3h0.8v0.8h-0.8zM251.1 137.1h0.8v0.8h-0.8zM246.9 137.5h0.8v0.8h-0.8zM251.0 136.4h0.8v0.8h-0.8zM253.4 138.1h0.8v0.8h-0.8zM244.6 136.8h0.8v0.8h-0.8zM254.7 137.8h0.8v0.8h-0.8zM253.9 138.5h0.8v0.8h-0.8zM246.2 136.2h0.8v0.8h-0.8zM256.6 136.6h0.8v0.8h-0.8zM247.2 138.0h0.8v0.8h-0.8zM249.3 137.3h0.8v0.8h-0.8zM250.7 135.2h0.8v0.8h-0.8zM254.2 138.5h0.8v0.8h-0.8zM248.5 139.8h0.8v0.8h-0.8zM247.5 136.4h0.8v0.8h-0.8zM254.3 140.2h0.8v0.8h-0.8zM245.2 138.4h0.8v0.8h-0.8zM253.2 140.9h0.8v0.8h-0.8zM253.5 136.5h0.8v0.8h-0.8zM246.8 136.3h0.8v0.8h-0.8zM240.2 137.8h0.8v0.8h-0.8zM257.0 138.4h0.8v0.8h-0.8zM251.4 136.1h0.8v0.8h-0.8zM255.2 134.4h0.8v0.8h-0.8zM245.8 137.7h0.8v0.8h-0.8zM255.1 138.8h0.8v0.8h-0.8zM254.3 136.6h0.8v0.8h-0.8zM246.7 138.2h0.8v0.8h-0.8zM250.8 137.3h0.8v0.8h-0.8zM255.7 134.8h0.8v0.8h-0.8zM255.9 136.5h0.8v0.8h-0.8zM247.7 138.7h0.8v0.8h-0.8zM257.1 138.5h0.8v0.8h-0.8zM247.0 139.0h0.8v0.8h-0.8zM256.5 139.0h0.8v0.8h-0.8zM255.7 137.0h0.8v0.8h-0.8zM256.2 137.2h0.8v0.8h-0.8zM254.8 138.6h0.8v0.8h-0.8zM248.8 140.6h0.8v0.8h-0.8zM250.0 140.5h0.8v0.8h-0.8zM249.2 137.1h0.8v0.8h-0.8zM237.6 137.4h0.8v0.8h-0.8zM249.1 137.9h0.8v0.8h-0.8zM248.8 138.3h0.8v0.8h-0.8zM254.6 136.9h0.8v0.8h-0.8zM252.8 140.2h0.8v0.8h-0.8zM244.7 140.5h0.8v0.8h-0.8zM252.6 138.4h0.8v0.8h-0.8zM247.2 139.1h0.8v0.8h-0.8zM256.4 141.1h0.8v0.8h-0.8zM245.9 136.3h0.8v0.8h-0.8zM247.8 137.0h0.8v0.8h-0.8zM238.8 137.1h0.8v0.8h-0.8zM252.5 140.1h0.8v0.8h-0.8zM251.1 138.9h0.8v0.8h-0.8zM247.6 138.9h0.8v0.8h-0.8zM249.6 135.8h0.8v0.8h-0.8zM242.5 140.7h0.8v0.8h-0.8zM257.3 138.3h0.8v0.8h-0.8zM246.1 141.2h0.8v0.8h-0.8zM252.3 137.8h0.8v0.8h-0.8zM255.1 138.4h0.8v0.8h-0.8zM255.2 137.8h0.8v0.8h-0.8zM250.6 140.8h0.8v0.8h-0.8zM257.3 139.6h0.8v0.8h-0.8zM245.7 138.6h0.8v0.8h-0.8zM252.8 138.6h0.8v0.8h-0.8zM251.7 135.1h0.8v0.8h-0.8zM249.1 138.3h0.8v0.8h-0.8zM246.5 137.4h0.8v0.8h-0.8zM254.5 133.4h0.8v0.8h-0.8zM241.6 139.9h0.8v0.8h-0.8zM250.4 138.1h0.8v0.8h-0.8zM241.7 138.2h0.8v0.8h-0.8zM241.6 136.9h0.8v0.8h-0.8zM251.1 139.3h0.8v0.8h-0.8zM247.1 137.5h0.8v0.8h-0.8zM257.2 136.3h0.8v0.8h-0.8zM244.2 136.2h0.8v0.8h-0.8zM248.8 138.0h0.8v0.8h-0.8zM255.8 138.9h0.8v0.8h-0.8zM248.5 141.3h0.8v0.8h-0.8zM248.1 136.6h0.8v0.8h-0.8zM247.0 136.7h0.8v0.8h-0.8zM241.3 139.6h0.8v0.8h-0.8zM242.4 137.7h0.8v0.8h-0.8zM253.3 136.7h0.8v0.8h-0.8zM247.9 137.8h0.8v0.8h-0.8zM255.6 137.2h0.8v0.8h-0.8zM256.9 139.5h0.8v0.8h-0.8zM248.6 137.3h0.8v0.8h-0.8zM253.3 138.6h0.8v0.8h-0.8zM253.4 136.6h0.8v0.8h-0.8zM245.9 138.6h0.8v0.8h-0.8zM255.0 135.2h0.8v0.8h-0.8zM248.8 138.9h0.8v0.8h-0.8zM254.3 139.2h0.8v0.8h-0.8zM257.0 138.3h0.8v0.8h-0.8zM253.6 137.3h0.8v0.8h-0.8zM250.5 136.4h0.8v0.8h-0.8zM245.0 139.2h0.8v0.8h-0.8zM253.8 140.1h0.8v0.8h-0.8zM246.5 137.6h0.8v0.8h-0.8zM252.7 137.4h0.8v0.8h-0.8zM244.3 136.7h0.8v0.8h-0.8zM251.7 138.0h0.8v0.8h-0.8zM243.1 135.9h0.8v0.8h-0.8zM243.1 138.3h0.8v0.8h-0.8zM247.5 137.2h0.8v0.8h-0.8zM252.7 136.3h0.8v0.8h-0.8zM254.9 137.1h0.8v0.8h-0.8zM250.0 137.6h0.8v0.8h-0.8zM255.5 135.7h0.8v0.8h-0.8zM248.6 137.0h0.8v0.8h-0.8zM250.1 141.0h0.8v0.8h-0.8zM253.2 137.5h0.8v0.8h-0.8zM242.2 137.8h0.8v0.8h-0.8zM256.7 137.8h0.8v0.8h-0.8zM257.1 137.9h0.8v0.8h-0.8zM255.7 136.8h0.8v0.8h-0.8zM244.4 139.0h0.8v0.8h-0.8zM237.1 136.4h0.8v0.8h-0.8zM256.2 135.3h0.8v0.8h-0.8zM253.7 139.2h0.8v0.8h-0.8zM251.5 138.8h0.8v0.8h-0.8zM256.3 137.3h0.8v0.8h-0.8zM248.1 139.5h0.8v0.8h-0.8zM240.5 138.3h0.8v0.8h-0.8zM240.8 137.5h0.8v0.8h-0.8zM243.9 137.5h0.8v0.8h-0.8zM247.2 137.5h0.8v0.8h-0.8zM256.4 141.6h0.8v0.8h-0.8zM255.9 139.8h0.8v0.8h-0.8zM255.1 138.0h0.8v0.8h-0.8zM247.0 140.7h0.8v0.8h-0.8zM254.3 136.8h0.8v0.8h-0.8zM245.7 141.2h0.8v0.8h-0.8zM251.8 140.1h0.8v0.8h-0.8zM252.6 138.7h0.8v0.8h-0.8zM253.8 137.4h0.8v0.8h-0.8zM250.4 138.5h0.8v0.8h-0.8zM244.9 136.4h0.8v0.8h-0.8zM256.9 137.6h0.8v0.8h-0.8zM255.5 140.7h0.8v0.8h-0.8zM246.2 137.6h0.8v0.8h-0.8zM245.6 136.6h0.8v0.8h-0.8zM245.5 139.6h0.8v0.8h-0.8zM251.1 137.7h0.8v0.8h-0.8zM251.0 140.7h0.8v0.8h-0.8zM254.4 138.5h0.8v0.8h-0.8zM256.0 137.4h0.8v0.8h-0.8zM248.3 139.0h0.8v0.8h-0.8zM254.3 137.2h0.8v0.8h-0.8zM251.4 136.7h0.8v0.8h-0.8zM243.7 139.7h0.8v0.8h-0.8zM251.1 137.2h0.8v0.8h-0.8zM254.9 138.9h0.8v0.8h-0.8zM248.4 140.5h0.8v0.8h-0.8zM255.3 139.2h0.8v0.8h-0.8zM253.0 138.8h0.8v0.8h-0.8zM250.7 136.6h0.8v0.8h-0.8zM245.5 139.6h0.8v0.8h-0.8zM249.9 141.0h0.8v0.8h-0.8zM246.4 138.1h0.8v0.8h-0.8zM255.5 136.0h0.8v0.8h-0.8zM252.8 137.4h0.8v0.8h-0.8zM242.8 138.3h0.8v0.8h-0.8zM255.9 136.8h0.8v0.8h-0.8zM254.9 136.8h0.8v0.8h-0.8zM249.9 135.5h0.8v0.8h-0.8zM253.5 139.1h0.8v0.8h-0.8zM241.9 137.8h0.8v0.8h-0.8zM249.5 137.2h0.8v0.8h-0.8zM245.6 138.0h0.8v0.8h-0.8zM255.9 137.4h0.8v0.8h-0.8zM244.6 138.7h0.8v0.8h-0.8zM252.1 138.8h0.8v0.8h-0.8zM251.6 139.8h0.8v0.8h-0.8zM250.0 135.1h0.8v0.8h-0.8zM237.2 138.0h0.8v0.8h-0.8zM256.6 138.2h0.8v0.8h-0.8zM254.7 138.5h0.8v0.8h-0.8zM252.0 137.0h0.8v0.8h-0.8zM254.9 137.8h0.8v0.8h-0.8zM247.5 137.9h0.8v0.8h-0.8zM252.1 137.0h0.8v0.8h-0.8zM253.1 136.8h0.8v0.8h-0.8zM240.4 139.4h0.8v0.8h-0.8zM253.1 137.8h0.8v0.8h-0.8zM251.7 137.2h0.8v0.8h-0.8zM254.3 140.6h0.8v0.8h-0.8zM255.9 139.9h0.8v0.8h-0.8zM239.7 138.1h0.8v0.8h-0.8zM246.3 138.8h0.8v0.8h-0.8zM241.4 136.9h0.8v0.8h-0.8zM247.4 138.2h0.8v0.8h-0.8zM250.3 136.1h0.8v0.8h-0.8zM254.1 140.1h0.8v0.8h-0.8zM242.4 138.1h0.8v0.8h-0.8zM248.0 138.3h0.8v0.8h-0.8zM242.2 137.2h0.8v0.8h-0.8zM257.4 135.5h0.8v0.8h-0.8zM245.3 140.7h0.8v0.8h-0.8zM249.5 138.7h0.8v0.8h-0.8zM256.6 137.0h0.8v0.8h-0.8zM260.7 118.6h0.8v0.8h-0.8zM262.0 126.4h0.8v0.8h-0.8zM259.2 122.8h0.8v0.8h-0.8zM261.0 130.0h0.8v0.8h-0.8zM257.0 130.8h0.8v0.8h-0.8zM261.6 128.3h0.8v0.8h-0.8zM257.8 129.1h0.8v0.8h-0.8zM256.8 125.0h0.8v0.8h-0.8zM260.2 133.6h0.8v0.8h-0.8zM262.5 132.0h0.8v0.8h-0.8zM258.7 124.1h0.8v0.8h-0.8zM263.0 132.8h0.8v0.8h-0.8zM259.3 127.0h0.8v0.8h-0.8zM257.0 129.5h0.8v0.8h-0.8zM257.1 129.9h0.8v0.8h-0.8zM260.9 131.3h0.8v0.8h-0.8zM255.6 131.1h0.8v0.8h-0.8zM262.7 128.2h0.8v0.8h-0.8zM256.5 126.4h0.8v0.8h-0.8zM259.8 129.6h0.8v0.8h-0.8zM262.3 132.0h0.8v0.8h-0.8zM260.5 131.1h0.8v0.8h-0.8zM257.7 132.4h0.8v0.8h-0.8zM257.4 121.7h0.8v0.8h-0.8zM258.2 125.4h0.8v0.8h-0.8zM262.0 119.0h0.8v0.8h-0.8zM261.7 122.8h0.8v0.8h-0.8zM260.0 130.9h0.8v0.8h-0.8zM260.5 127.4h0.8v0.8h-0.8zM261.1 130.8h0.8v0.8h-0.8zM260.0 128.0h0.8v0.8h-0.8zM259.1 127.2h0.8v0.8h-0.8zM258.9 129.3h0.8v0.8h-0.8zM260.1 127.8h0.8v0.8h-0.8zM259.0 125.9h0.8v0.8h-0.8zM255.8 124.7h0.8v0.8h-0.8zM261.9 133.3h0.8v0.8h-0.8zM260.5 126.5h0.8v0.8h-0.8zM260.1 130.6h0.8v0.8h-0.8zM258.2 122.8h0.8v0.8h-0.8zM260.9 133.2h0.8v0.8h-0.8zM260.8 126.6h0.8v0.8h-0.8zM259.1 120.1h0.8v0.8h-0.8zM257.5 133.2h0.8v0.8h-0.8zM262.5 132.3h0.8v0.8h-0.8zM259.7 119.3h0.8v0.8h-0.8zM261.2 130.9h0.8v0.8h-0.8zM262.4 133.3h0.8v0.8h-0.8zM258.6 130.9h0.8v0.8h-0.8zM258.9 130.4h0.8v0.8h-0.8zM263.0 127.2h0.8v0.8h-0.8zM259.7 128.4h0.8v0.8h-0.8zM261.3 129.9h0.8v0.8h-0.8zM259.5 133.4h0.8v0.8h-0.8zM237.1 125.6h0.8v0.8h-0.8zM249.9 124.6h0.8v0.8h-0.8zM259.0 129.4h0.8v0.8h-0.8zM242.0 126.4h0.8v0.8h-0.8zM259.6 123.1h0.8v0.8h-0.8zM256.7 124.0h0.8v0.8h-0.8zM262.7 129.2h0.8v0.8h-0.8zM252.3 137.0h0.8v0.8h-0.8zM237.4 123.4h0.8v0.8h-0.8zM255.2 132.3h0.8v0.8h-0.8z" fill="#3a58d0" fill-opacity="0.4"/>
<ellipse cx="259.40" cy="136.90" rx="5.80" ry="5.30" fill="#2840c0" fill-opacity="0.95" filter="url(#bl2)"/>
<ellipse cx="259.70" cy="137.10" rx="4.80" ry="4.40" fill="#30b0e0" fill-opacity="1" filter="url(#bl2)"/>
<ellipse cx="260.20" cy="137.40" rx="3.70" ry="3.40" fill="#58c868" fill-opacity="1" filter="url(#bl2)"/>
<ellipse cx="260.60" cy="137.70" rx="2.60" ry="2.30" fill="#c8e040" fill-opacity="1" filter="url(#bl2)"/>
<ellipse cx="259.40" cy="136.10" rx="1.60" ry="1.40" fill="#f07820" fill-opacity="1" filter="url(#bl2)"/>
<ellipse cx="259.40" cy="136.10" rx="0.90" ry="0.80" fill="#f03c18" fill-opacity="1" filter="url(#bl2)"/>
</g>
<rect x="231.40" y="119.30" width="44.60" height="43.80" fill="none" stroke="#cfcfcf" stroke-width="0.6" />
<line x1="231.40" y1="119.30" x2="231.40" y2="163.10" stroke="#666" stroke-width="0.7" />
<line x1="231.40" y1="163.10" x2="276.00" y2="163.10" stroke="#666" stroke-width="0.7" />
<rect x="253.20" y="119.70" width="22.40" height="26.20" fill="none" stroke="#74202e" stroke-width="1.2" />
<line x1="230.00" y1="123.80" x2="231.40" y2="123.80" stroke="#555" stroke-width="0.5" />
<text x="225.60" y="125.80" font-size="6.1" fill="#333" stroke="#333" stroke-width="0.07" text-anchor="end" >10</text>
<text x="225.80" y="123.20" font-size="3.7819999999999996" fill="#333" stroke="#333" stroke-width="0.07" >5</text>
<line x1="230.00" y1="134.00" x2="231.40" y2="134.00" stroke="#555" stroke-width="0.5" />
<text x="225.60" y="136.00" font-size="6.1" fill="#333" stroke="#333" stroke-width="0.07" text-anchor="end" >10</text>
<text x="225.80" y="133.40" font-size="3.7819999999999996" fill="#333" stroke="#333" stroke-width="0.07" >4</text>
<line x1="230.00" y1="144.20" x2="231.40" y2="144.20" stroke="#555" stroke-width="0.5" />
<text x="225.60" y="146.20" font-size="6.1" fill="#333" stroke="#333" stroke-width="0.07" text-anchor="end" >10</text>
<text x="225.80" y="143.60" font-size="3.7819999999999996" fill="#333" stroke="#333" stroke-width="0.07" >3</text>
<line x1="230.00" y1="154.20" x2="231.40" y2="154.20" stroke="#555" stroke-width="0.5" />
<text x="225.60" y="156.20" font-size="6.1" fill="#333" stroke="#333" stroke-width="0.07" text-anchor="end" >10</text>
<text x="225.80" y="153.60" font-size="3.7819999999999996" fill="#333" stroke="#333" stroke-width="0.07" >2</text>
<line x1="241.00" y1="163.10" x2="241.00" y2="164.50" stroke="#555" stroke-width="0.5" />
<text x="241.60" y="172.60" font-size="5.6" fill="#333" stroke="#333" stroke-width="0.07" text-anchor="end" >10</text>
<text x="241.80" y="170.00" font-size="3.5" fill="#333" stroke="#333" stroke-width="0.07" >2</text>
<line x1="252.60" y1="163.10" x2="252.60" y2="164.50" stroke="#555" stroke-width="0.5" />
<text x="253.20" y="172.60" font-size="5.6" fill="#333" stroke="#333" stroke-width="0.07" text-anchor="end" >10</text>
<text x="253.40" y="170.00" font-size="3.5" fill="#333" stroke="#333" stroke-width="0.07" >3</text>
<line x1="262.40" y1="163.10" x2="262.40" y2="164.50" stroke="#555" stroke-width="0.5" />
<text x="263.00" y="172.60" font-size="5.6" fill="#333" stroke="#333" stroke-width="0.07" text-anchor="end" >10</text>
<text x="263.20" y="170.00" font-size="3.5" fill="#333" stroke="#333" stroke-width="0.07" >4</text>
<line x1="272.00" y1="163.10" x2="272.00" y2="164.50" stroke="#555" stroke-width="0.5" />
<text x="272.60" y="172.60" font-size="5.6" fill="#333" stroke="#333" stroke-width="0.07" text-anchor="end" >10</text>
<text x="272.80" y="170.00" font-size="3.5" fill="#333" stroke="#333" stroke-width="0.07" >5</text>
<text x="271.00" y="154.00" font-size="6.6" fill="#7e6040" stroke="#7e6040" stroke-width="0.08" text-anchor="end" >CD34</text>
<text x="271.40" y="150.60" font-size="4.2" fill="#7e6040" stroke="#7e6040" stroke-width="0.08" >+</text>
<text x="274.20" y="161.20" font-size="6.6" fill="#7e6040" stroke="#7e6040" stroke-width="0.08" text-anchor="end" >34.5%</text>
<clipPath id="clb2"><rect x="293.7" y="119.3" width="44.6" height="43.8"/></clipPath>
<g clip-path="url(#clb2)">
<path d="M315.9 139.7h0.8v0.8h-0.8zM308.8 138.1h0.8v0.8h-0.8zM311.8 139.1h0.8v0.8h-0.8zM308.9 137.9h0.8v0.8h-0.8zM308.8 138.4h0.8v0.8h-0.8zM314.9 141.6h0.8v0.8h-0.8zM312.8 140.6h0.8v0.8h-0.8zM307.8 140.5h0.8v0.8h-0.8zM312.9 140.4h0.8v0.8h-0.8zM315.9 137.9h0.8v0.8h-0.8zM317.9 140.3h0.8v0.8h-0.8zM308.8 142.5h0.8v0.8h-0.8zM319.0 138.7h0.8v0.8h-0.8zM318.5 139.0h0.8v0.8h-0.8zM314.5 142.0h0.8v0.8h-0.8zM307.1 141.4h0.8v0.8h-0.8zM317.0 139.1h0.8v0.8h-0.8zM313.7 141.9h0.8v0.8h-0.8zM306.4 140.6h0.8v0.8h-0.8zM308.4 138.3h0.8v0.8h-0.8zM312.2 138.4h0.8v0.8h-0.8zM315.8 141.0h0.8v0.8h-0.8zM304.2 140.4h0.8v0.8h-0.8zM312.4 137.7h0.8v0.8h-0.8zM301.4 137.1h0.8v0.8h-0.8zM306.8 140.6h0.8v0.8h-0.8zM311.6 138.7h0.8v0.8h-0.8zM310.7 138.2h0.8v0.8h-0.8zM315.0 136.6h0.8v0.8h-0.8zM311.2 137.4h0.8v0.8h-0.8zM306.7 138.3h0.8v0.8h-0.8zM318.6 141.8h0.8v0.8h-0.8zM319.0 138.5h0.8v0.8h-0.8zM312.3 139.7h0.8v0.8h-0.8zM316.2 138.1h0.8v0.8h-0.8zM315.8 141.9h0.8v0.8h-0.8zM317.8 138.0h0.8v0.8h-0.8zM308.6 139.5h0.8v0.8h-0.8zM309.6 137.3h0.8v0.8h-0.8zM310.6 140.0h0.8v0.8h-0.8zM317.4 136.2h0.8v0.8h-0.8zM315.2 139.5h0.8v0.8h-0.8zM313.8 139.9h0.8v0.8h-0.8zM307.3 138.7h0.8v0.8h-0.8zM305.8 139.7h0.8v0.8h-0.8zM315.8 139.6h0.8v0.8h-0.8zM309.9 142.2h0.8v0.8h-0.8zM317.4 138.7h0.8v0.8h-0.8zM311.1 140.3h0.8v0.8h-0.8zM298.9 137.7h0.8v0.8h-0.8zM299.0 139.7h0.8v0.8h-0.8zM317.6 139.1h0.8v0.8h-0.8zM318.7 139.1h0.8v0.8h-0.8zM307.7 139.1h0.8v0.8h-0.8zM304.0 139.5h0.8v0.8h-0.8zM315.8 137.5h0.8v0.8h-0.8zM308.2 138.2h0.8v0.8h-0.8zM309.0 140.6h0.8v0.8h-0.8zM319.0 138.8h0.8v0.8h-0.8zM317.9 141.3h0.8v0.8h-0.8zM299.8 141.3h0.8v0.8h-0.8zM315.8 140.0h0.8v0.8h-0.8zM313.6 136.8h0.8v0.8h-0.8zM317.0 140.2h0.8v0.8h-0.8zM308.6 140.7h0.8v0.8h-0.8zM311.2 140.0h0.8v0.8h-0.8zM313.9 141.4h0.8v0.8h-0.8zM316.6 137.6h0.8v0.8h-0.8zM318.3 137.5h0.8v0.8h-0.8zM317.0 137.8h0.8v0.8h-0.8zM318.3 138.5h0.8v0.8h-0.8zM310.7 140.3h0.8v0.8h-0.8zM315.7 140.0h0.8v0.8h-0.8zM318.4 137.7h0.8v0.8h-0.8zM318.4 137.2h0.8v0.8h-0.8zM316.6 137.4h0.8v0.8h-0.8zM316.4 139.7h0.8v0.8h-0.8zM309.7 140.8h0.8v0.8h-0.8zM317.0 140.5h0.8v0.8h-0.8zM308.2 137.7h0.8v0.8h-0.8zM305.0 136.0h0.8v0.8h-0.8zM305.2 137.7h0.8v0.8h-0.8zM318.6 139.2h0.8v0.8h-0.8zM319.1 136.4h0.8v0.8h-0.8zM314.7 140.1h0.8v0.8h-0.8zM306.3 140.1h0.8v0.8h-0.8zM303.0 138.9h0.8v0.8h-0.8zM312.1 140.9h0.8v0.8h-0.8zM311.4 139.3h0.8v0.8h-0.8zM318.6 136.4h0.8v0.8h-0.8zM316.6 140.7h0.8v0.8h-0.8zM314.1 139.2h0.8v0.8h-0.8zM312.7 140.5h0.8v0.8h-0.8zM311.1 137.9h0.8v0.8h-0.8zM309.8 137.6h0.8v0.8h-0.8zM314.4 140.2h0.8v0.8h-0.8zM310.0 139.1h0.8v0.8h-0.8zM298.9 139.5h0.8v0.8h-0.8zM311.6 139.4h0.8v0.8h-0.8zM317.3 137.8h0.8v0.8h-0.8zM317.3 135.2h0.8v0.8h-0.8zM314.1 138.9h0.8v0.8h-0.8zM310.9 139.0h0.8v0.8h-0.8zM308.5 138.7h0.8v0.8h-0.8zM313.5 138.7h0.8v0.8h-0.8zM310.8 137.5h0.8v0.8h-0.8zM304.1 139.2h0.8v0.8h-0.8zM316.0 139.8h0.8v0.8h-0.8zM304.6 137.0h0.8v0.8h-0.8zM314.3 142.3h0.8v0.8h-0.8zM316.4 135.7h0.8v0.8h-0.8zM301.5 140.8h0.8v0.8h-0.8zM308.8 137.5h0.8v0.8h-0.8zM318.2 140.7h0.8v0.8h-0.8zM308.2 136.1h0.8v0.8h-0.8zM314.0 138.1h0.8v0.8h-0.8zM316.4 140.0h0.8v0.8h-0.8zM314.5 138.1h0.8v0.8h-0.8zM318.3 140.8h0.8v0.8h-0.8zM313.8 140.9h0.8v0.8h-0.8zM319.0 138.0h0.8v0.8h-0.8zM300.5 137.1h0.8v0.8h-0.8zM316.0 139.6h0.8v0.8h-0.8zM318.8 137.8h0.8v0.8h-0.8zM314.8 137.8h0.8v0.8h-0.8zM313.3 138.0h0.8v0.8h-0.8zM299.1 135.4h0.8v0.8h-0.8zM309.7 139.5h0.8v0.8h-0.8zM316.7 138.7h0.8v0.8h-0.8zM300.6 137.4h0.8v0.8h-0.8zM317.6 134.4h0.8v0.8h-0.8zM323.4 133.3h0.8v0.8h-0.8zM324.8 125.5h0.8v0.8h-0.8zM320.5 130.6h0.8v0.8h-0.8zM323.9 123.2h0.8v0.8h-0.8zM319.9 129.9h0.8v0.8h-0.8zM320.6 128.0h0.8v0.8h-0.8zM320.9 127.7h0.8v0.8h-0.8zM324.7 130.8h0.8v0.8h-0.8zM323.8 132.4h0.8v0.8h-0.8zM315.5 129.4h0.8v0.8h-0.8zM321.3 118.5h0.8v0.8h-0.8zM321.3 127.9h0.8v0.8h-0.8zM325.0 127.9h0.8v0.8h-0.8zM322.9 132.6h0.8v0.8h-0.8zM320.7 132.9h0.8v0.8h-0.8zM322.3 130.9h0.8v0.8h-0.8zM322.6 132.1h0.8v0.8h-0.8zM318.1 125.8h0.8v0.8h-0.8zM324.1 131.0h0.8v0.8h-0.8zM321.0 129.3h0.8v0.8h-0.8zM317.1 131.5h0.8v0.8h-0.8zM326.7 133.0h0.8v0.8h-0.8zM319.5 120.8h0.8v0.8h-0.8zM321.1 133.4h0.8v0.8h-0.8zM320.1 133.7h0.8v0.8h-0.8zM317.0 126.1h0.8v0.8h-0.8zM317.7 128.7h0.8v0.8h-0.8zM320.9 127.0h0.8v0.8h-0.8zM316.4 130.8h0.8v0.8h-0.8zM324.5 129.4h0.8v0.8h-0.8zM316.8 129.8h0.8v0.8h-0.8zM320.3 134.8h0.8v0.8h-0.8zM324.1 125.8h0.8v0.8h-0.8zM324.7 130.9h0.8v0.8h-0.8zM320.0 131.5h0.8v0.8h-0.8zM317.7 126.1h0.8v0.8h-0.8zM324.0 134.3h0.8v0.8h-0.8zM319.1 130.3h0.8v0.8h-0.8zM322.2 133.8h0.8v0.8h-0.8zM318.4 133.3h0.8v0.8h-0.8zM319.8 129.8h0.8v0.8h-0.8zM322.5 131.9h0.8v0.8h-0.8zM320.1 124.4h0.8v0.8h-0.8zM322.9 126.2h0.8v0.8h-0.8zM323.0 130.3h0.8v0.8h-0.8zM322.0 127.5h0.8v0.8h-0.8zM316.9 128.5h0.8v0.8h-0.8zM322.5 128.6h0.8v0.8h-0.8zM321.5 134.3h0.8v0.8h-0.8zM325.3 132.2h0.8v0.8h-0.8zM317.0 124.3h0.8v0.8h-0.8zM320.4 130.1h0.8v0.8h-0.8zM322.8 133.4h0.8v0.8h-0.8zM323.0 134.6h0.8v0.8h-0.8zM319.4 132.3h0.8v0.8h-0.8zM322.8 128.3h0.8v0.8h-0.8zM318.5 128.1h0.8v0.8h-0.8zM321.4 120.3h0.8v0.8h-0.8zM318.4 126.3h0.8v0.8h-0.8zM322.1 131.4h0.8v0.8h-0.8zM319.7 134.7h0.8v0.8h-0.8zM322.2 122.9h0.8v0.8h-0.8zM321.0 130.8h0.8v0.8h-0.8zM323.2 126.9h0.8v0.8h-0.8zM320.9 125.0h0.8v0.8h-0.8zM324.2 129.6h0.8v0.8h-0.8zM319.6 127.8h0.8v0.8h-0.8zM323.5 133.9h0.8v0.8h-0.8zM315.7 131.7h0.8v0.8h-0.8zM319.4 129.2h0.8v0.8h-0.8zM320.9 127.5h0.8v0.8h-0.8zM322.0 121.9h0.8v0.8h-0.8zM318.4 127.8h0.8v0.8h-0.8zM319.9 131.2h0.8v0.8h-0.8zM320.8 126.1h0.8v0.8h-0.8zM319.5 129.9h0.8v0.8h-0.8zM319.3 133.3h0.8v0.8h-0.8zM321.1 127.4h0.8v0.8h-0.8zM317.5 125.6h0.8v0.8h-0.8zM324.3 132.3h0.8v0.8h-0.8zM325.0 127.8h0.8v0.8h-0.8zM321.6 130.8h0.8v0.8h-0.8zM325.2 134.5h0.8v0.8h-0.8zM320.1 130.0h0.8v0.8h-0.8zM320.9 129.8h0.8v0.8h-0.8zM322.9 121.9h0.8v0.8h-0.8zM318.8 125.6h0.8v0.8h-0.8zM320.0 132.7h0.8v0.8h-0.8zM322.0 127.2h0.8v0.8h-0.8zM322.3 128.3h0.8v0.8h-0.8zM319.8 127.7h0.8v0.8h-0.8zM320.8 130.6h0.8v0.8h-0.8zM323.1 127.1h0.8v0.8h-0.8zM326.1 127.5h0.8v0.8h-0.8zM319.5 130.2h0.8v0.8h-0.8zM321.9 131.6h0.8v0.8h-0.8zM323.7 116.5h0.8v0.8h-0.8zM323.3 130.5h0.8v0.8h-0.8zM320.5 131.0h0.8v0.8h-0.8zM321.6 128.0h0.8v0.8h-0.8zM324.6 131.0h0.8v0.8h-0.8zM320.0 133.5h0.8v0.8h-0.8zM318.6 126.5h0.8v0.8h-0.8zM320.4 132.4h0.8v0.8h-0.8zM321.3 129.6h0.8v0.8h-0.8zM317.9 123.4h0.8v0.8h-0.8zM324.8 132.4h0.8v0.8h-0.8zM298.7 131.7h0.8v0.8h-0.8zM316.3 126.1h0.8v0.8h-0.8zM298.0 130.6h0.8v0.8h-0.8zM297.7 134.8h0.8v0.8h-0.8zM315.5 127.0h0.8v0.8h-0.8zM310.1 126.3h0.8v0.8h-0.8zM302.3 125.4h0.8v0.8h-0.8zM321.2 130.0h0.8v0.8h-0.8zM318.2 128.2h0.8v0.8h-0.8zM320.9 132.4h0.8v0.8h-0.8zM316.3 129.0h0.8v0.8h-0.8zM313.6 125.5h0.8v0.8h-0.8zM325.9 133.7h0.8v0.8h-0.8zM312.7 133.2h0.8v0.8h-0.8zM299.7 128.0h0.8v0.8h-0.8zM303.6 136.6h0.8v0.8h-0.8zM297.1 129.9h0.8v0.8h-0.8zM322.8 135.6h0.8v0.8h-0.8zM318.3 127.4h0.8v0.8h-0.8zM303.7 134.3h0.8v0.8h-0.8zM305.7 134.6h0.8v0.8h-0.8zM307.2 135.2h0.8v0.8h-0.8zM313.9 136.2h0.8v0.8h-0.8zM326.3 128.7h0.8v0.8h-0.8zM326.3 122.5h0.8v0.8h-0.8zM323.0 122.8h0.8v0.8h-0.8zM313.1 128.9h0.8v0.8h-0.8zM319.8 127.7h0.8v0.8h-0.8zM302.9 135.6h0.8v0.8h-0.8zM313.2 135.1h0.8v0.8h-0.8zM311.4 122.9h0.8v0.8h-0.8zM319.8 126.0h0.8v0.8h-0.8zM310.9 122.3h0.8v0.8h-0.8zM304.5 133.6h0.8v0.8h-0.8zM319.6 133.1h0.8v0.8h-0.8zM310.0 134.8h0.8v0.8h-0.8zM316.8 125.8h0.8v0.8h-0.8zM312.8 132.5h0.8v0.8h-0.8zM318.6 125.7h0.8v0.8h-0.8zM306.0 128.1h0.8v0.8h-0.8zM299.6 128.2h0.8v0.8h-0.8zM318.6 132.1h0.8v0.8h-0.8zM301.9 134.7h0.8v0.8h-0.8zM300.2 135.1h0.8v0.8h-0.8zM301.1 123.9h0.8v0.8h-0.8zM304.3 131.1h0.8v0.8h-0.8zM304.8 137.3h0.8v0.8h-0.8zM324.9 127.1h0.8v0.8h-0.8zM319.2 134.1h0.8v0.8h-0.8zM313.5 126.6h0.8v0.8h-0.8zM325.2 138.6h0.8v0.8h-0.8zM297.1 127.9h0.8v0.8h-0.8zM306.3 125.7h0.8v0.8h-0.8zM309.6 137.6h0.8v0.8h-0.8zM297.4 136.5h0.8v0.8h-0.8zM306.0 122.5h0.8v0.8h-0.8zM323.7 126.9h0.8v0.8h-0.8zM303.1 124.3h0.8v0.8h-0.8zM307.7 124.3h0.8v0.8h-0.8zM302.1 126.6h0.8v0.8h-0.8zM314.0 129.9h0.8v0.8h-0.8zM305.9 131.2h0.8v0.8h-0.8zM319.9 134.6h0.8v0.8h-0.8zM307.0 137.9h0.8v0.8h-0.8zM320.4 131.9h0.8v0.8h-0.8zM311.0 127.9h0.8v0.8h-0.8zM300.7 137.4h0.8v0.8h-0.8zM314.9 124.0h0.8v0.8h-0.8zM324.5 137.4h0.8v0.8h-0.8zM297.7 134.2h0.8v0.8h-0.8zM303.8 131.4h0.8v0.8h-0.8zM321.7 128.3h0.8v0.8h-0.8zM311.6 133.6h0.8v0.8h-0.8zM302.5 133.0h0.8v0.8h-0.8zM309.5 139.0h0.8v0.8h-0.8zM302.3 134.4h0.8v0.8h-0.8zM297.9 127.0h0.8v0.8h-0.8zM300.2 124.8h0.8v0.8h-0.8zM312.5 125.3h0.8v0.8h-0.8zM320.5 123.9h0.8v0.8h-0.8z" fill="#3a58d0" fill-opacity="0.4"/>
<ellipse cx="321.10" cy="137.40" rx="5.40" ry="6.00" fill="#2840c0" fill-opacity="0.9" filter="url(#bl2)"/>
<ellipse cx="321.30" cy="137.60" rx="4.50" ry="5.00" fill="#30b0e0" fill-opacity="1" filter="url(#bl2)"/>
<ellipse cx="321.50" cy="137.90" rx="3.60" ry="3.90" fill="#60c860" fill-opacity="1" filter="url(#bl2)"/>
<ellipse cx="321.50" cy="138.10" rx="2.70" ry="2.80" fill="#d8e040" fill-opacity="1" filter="url(#bl2)"/>
<ellipse cx="321.50" cy="138.30" rx="1.70" ry="1.60" fill="#f4a020" fill-opacity="1" filter="url(#bl2)"/>
<ellipse cx="321.50" cy="138.30" rx="0.90" ry="0.80" fill="#f05018" fill-opacity="1" filter="url(#bl2)"/>
</g>
<rect x="293.70" y="119.30" width="44.60" height="43.80" fill="none" stroke="#cfcfcf" stroke-width="0.6" />
<line x1="293.70" y1="119.30" x2="293.70" y2="163.10" stroke="#666" stroke-width="0.7" />
<line x1="293.70" y1="163.10" x2="338.30" y2="163.10" stroke="#666" stroke-width="0.7" />
<rect x="315.50" y="119.70" width="22.40" height="26.20" fill="none" stroke="#74202e" stroke-width="1.2" />
<line x1="292.30" y1="123.80" x2="293.70" y2="123.80" stroke="#555" stroke-width="0.5" />
<text x="287.90" y="125.80" font-size="6.1" fill="#333" stroke="#333" stroke-width="0.07" text-anchor="end" >10</text>
<text x="288.10" y="123.20" font-size="3.7819999999999996" fill="#333" stroke="#333" stroke-width="0.07" >5</text>
<line x1="292.30" y1="134.00" x2="293.70" y2="134.00" stroke="#555" stroke-width="0.5" />
<text x="287.90" y="136.00" font-size="6.1" fill="#333" stroke="#333" stroke-width="0.07" text-anchor="end" >10</text>
<text x="288.10" y="133.40" font-size="3.7819999999999996" fill="#333" stroke="#333" stroke-width="0.07" >4</text>
<line x1="292.30" y1="144.20" x2="293.70" y2="144.20" stroke="#555" stroke-width="0.5" />
<text x="287.90" y="146.20" font-size="6.1" fill="#333" stroke="#333" stroke-width="0.07" text-anchor="end" >10</text>
<text x="288.10" y="143.60" font-size="3.7819999999999996" fill="#333" stroke="#333" stroke-width="0.07" >3</text>
<line x1="292.30" y1="154.20" x2="293.70" y2="154.20" stroke="#555" stroke-width="0.5" />
<text x="287.90" y="156.20" font-size="6.1" fill="#333" stroke="#333" stroke-width="0.07" text-anchor="end" >10</text>
<text x="288.10" y="153.60" font-size="3.7819999999999996" fill="#333" stroke="#333" stroke-width="0.07" >2</text>
<line x1="303.30" y1="163.10" x2="303.30" y2="164.50" stroke="#555" stroke-width="0.5" />
<text x="303.90" y="172.60" font-size="5.6" fill="#333" stroke="#333" stroke-width="0.07" text-anchor="end" >10</text>
<text x="304.10" y="170.00" font-size="3.5" fill="#333" stroke="#333" stroke-width="0.07" >2</text>
<line x1="314.90" y1="163.10" x2="314.90" y2="164.50" stroke="#555" stroke-width="0.5" />
<text x="315.50" y="172.60" font-size="5.6" fill="#333" stroke="#333" stroke-width="0.07" text-anchor="end" >10</text>
<text x="315.70" y="170.00" font-size="3.5" fill="#333" stroke="#333" stroke-width="0.07" >3</text>
<line x1="324.70" y1="163.10" x2="324.70" y2="164.50" stroke="#555" stroke-width="0.5" />
<text x="325.30" y="172.60" font-size="5.6" fill="#333" stroke="#333" stroke-width="0.07" text-anchor="end" >10</text>
<text x="325.50" y="170.00" font-size="3.5" fill="#333" stroke="#333" stroke-width="0.07" >4</text>
<line x1="334.30" y1="163.10" x2="334.30" y2="164.50" stroke="#555" stroke-width="0.5" />
<text x="334.90" y="172.60" font-size="5.6" fill="#333" stroke="#333" stroke-width="0.07" text-anchor="end" >10</text>
<text x="335.10" y="170.00" font-size="3.5" fill="#333" stroke="#333" stroke-width="0.07" >5</text>
<text x="333.30" y="154.00" font-size="6.6" fill="#7e6040" stroke="#7e6040" stroke-width="0.08" text-anchor="end" >CD34</text>
<text x="333.70" y="150.60" font-size="4.2" fill="#7e6040" stroke="#7e6040" stroke-width="0.08" >+</text>
<text x="336.50" y="161.20" font-size="6.6" fill="#7e6040" stroke="#7e6040" stroke-width="0.08" text-anchor="end" >17.8%</text>
<clipPath id="clb3"><rect x="356.3" y="119.3" width="44.6" height="43.8"/></clipPath>
<g clip-path="url(#clb3)">
<path d="M378.3 135.9h0.8v0.8h-0.8zM381.5 137.9h0.8v0.8h-0.8zM380.3 137.9h0.8v0.8h-0.8zM376.0 138.4h0.8v0.8h-0.8zM374.7 136.5h0.8v0.8h-0.8zM382.6 134.8h0.8v0.8h-0.8zM381.8 140.6h0.8v0.8h-0.8zM370.3 133.4h0.8v0.8h-0.8zM367.8 136.0h0.8v0.8h-0.8zM381.3 137.5h0.8v0.8h-0.8zM378.0 134.5h0.8v0.8h-0.8zM367.1 137.8h0.8v0.8h-0.8zM380.5 136.9h0.8v0.8h-0.8zM379.7 136.1h0.8v0.8h-0.8zM374.9 139.3h0.8v0.8h-0.8zM380.1 140.7h0.8v0.8h-0.8zM374.4 138.1h0.8v0.8h-0.8zM380.8 134.2h0.8v0.8h-0.8zM372.8 137.6h0.8v0.8h-0.8zM377.2 138.9h0.8v0.8h-0.8zM366.2 137.4h0.8v0.8h-0.8zM381.5 136.4h0.8v0.8h-0.8zM382.8 135.6h0.8v0.8h-0.8zM382.5 137.7h0.8v0.8h-0.8zM379.5 136.9h0.8v0.8h-0.8zM379.8 136.9h0.8v0.8h-0.8zM382.2 136.9h0.8v0.8h-0.8zM375.4 134.7h0.8v0.8h-0.8zM372.2 135.4h0.8v0.8h-0.8zM363.4 138.2h0.8v0.8h-0.8zM364.2 136.5h0.8v0.8h-0.8zM368.4 139.7h0.8v0.8h-0.8zM370.6 137.0h0.8v0.8h-0.8zM368.7 139.0h0.8v0.8h-0.8zM377.8 135.7h0.8v0.8h-0.8zM368.2 133.8h0.8v0.8h-0.8zM360.2 139.1h0.8v0.8h-0.8zM375.1 142.3h0.8v0.8h-0.8zM367.3 139.1h0.8v0.8h-0.8zM382.6 138.5h0.8v0.8h-0.8zM364.3 134.9h0.8v0.8h-0.8zM379.4 135.2h0.8v0.8h-0.8zM368.7 137.2h0.8v0.8h-0.8zM376.7 137.4h0.8v0.8h-0.8zM381.7 136.3h0.8v0.8h-0.8zM375.1 137.0h0.8v0.8h-0.8zM375.8 138.3h0.8v0.8h-0.8zM378.7 134.1h0.8v0.8h-0.8zM376.6 135.7h0.8v0.8h-0.8zM376.7 138.2h0.8v0.8h-0.8zM362.2 137.0h0.8v0.8h-0.8zM373.3 136.8h0.8v0.8h-0.8zM375.1 137.9h0.8v0.8h-0.8zM363.8 138.7h0.8v0.8h-0.8zM381.7 136.2h0.8v0.8h-0.8zM379.4 136.8h0.8v0.8h-0.8zM372.8 134.4h0.8v0.8h-0.8zM379.8 137.7h0.8v0.8h-0.8zM377.9 139.1h0.8v0.8h-0.8zM380.4 137.8h0.8v0.8h-0.8zM381.0 138.4h0.8v0.8h-0.8zM380.8 137.9h0.8v0.8h-0.8zM370.6 137.0h0.8v0.8h-0.8zM367.4 136.7h0.8v0.8h-0.8zM378.7 134.5h0.8v0.8h-0.8zM380.5 135.1h0.8v0.8h-0.8zM382.2 136.9h0.8v0.8h-0.8zM378.7 135.9h0.8v0.8h-0.8zM376.4 135.3h0.8v0.8h-0.8zM380.2 136.3h0.8v0.8h-0.8zM375.2 136.7h0.8v0.8h-0.8zM375.1 135.2h0.8v0.8h-0.8zM374.0 137.9h0.8v0.8h-0.8zM374.6 135.7h0.8v0.8h-0.8zM382.8 137.8h0.8v0.8h-0.8zM366.7 139.6h0.8v0.8h-0.8zM374.6 137.4h0.8v0.8h-0.8zM375.6 135.8h0.8v0.8h-0.8zM371.3 136.3h0.8v0.8h-0.8zM362.1 139.8h0.8v0.8h-0.8zM372.4 134.4h0.8v0.8h-0.8zM375.9 136.9h0.8v0.8h-0.8zM381.9 137.6h0.8v0.8h-0.8zM381.2 137.2h0.8v0.8h-0.8zM379.4 138.3h0.8v0.8h-0.8zM380.7 135.5h0.8v0.8h-0.8zM371.2 137.4h0.8v0.8h-0.8zM380.7 139.2h0.8v0.8h-0.8zM367.6 134.7h0.8v0.8h-0.8zM377.9 139.6h0.8v0.8h-0.8zM375.8 136.9h0.8v0.8h-0.8zM368.7 139.5h0.8v0.8h-0.8zM365.7 138.1h0.8v0.8h-0.8zM380.8 136.2h0.8v0.8h-0.8zM381.9 135.5h0.8v0.8h-0.8zM382.3 136.6h0.8v0.8h-0.8zM377.8 136.6h0.8v0.8h-0.8zM375.1 137.1h0.8v0.8h-0.8zM379.8 140.8h0.8v0.8h-0.8zM367.9 137.3h0.8v0.8h-0.8zM377.6 138.6h0.8v0.8h-0.8zM373.3 134.4h0.8v0.8h-0.8zM369.8 138.2h0.8v0.8h-0.8zM379.7 135.2h0.8v0.8h-0.8zM390.1 126.9h0.8v0.8h-0.8zM384.5 130.2h0.8v0.8h-0.8zM384.4 124.6h0.8v0.8h-0.8zM386.9 128.8h0.8v0.8h-0.8zM383.4 129.4h0.8v0.8h-0.8zM385.4 128.9h0.8v0.8h-0.8zM384.6 129.5h0.8v0.8h-0.8zM388.2 126.1h0.8v0.8h-0.8zM383.4 132.6h0.8v0.8h-0.8zM388.3 130.9h0.8v0.8h-0.8zM389.2 129.9h0.8v0.8h-0.8zM386.7 118.7h0.8v0.8h-0.8zM387.1 130.6h0.8v0.8h-0.8zM386.5 129.6h0.8v0.8h-0.8zM386.3 129.4h0.8v0.8h-0.8zM387.2 132.5h0.8v0.8h-0.8zM382.7 126.0h0.8v0.8h-0.8zM385.5 130.6h0.8v0.8h-0.8zM380.0 118.8h0.8v0.8h-0.8zM387.5 132.8h0.8v0.8h-0.8zM391.7 122.4h0.8v0.8h-0.8zM384.5 128.8h0.8v0.8h-0.8zM386.4 123.3h0.8v0.8h-0.8zM388.8 126.0h0.8v0.8h-0.8zM388.0 124.6h0.8v0.8h-0.8zM385.8 131.7h0.8v0.8h-0.8zM386.5 127.4h0.8v0.8h-0.8zM388.2 132.4h0.8v0.8h-0.8zM385.1 131.1h0.8v0.8h-0.8zM382.6 128.0h0.8v0.8h-0.8zM385.9 129.8h0.8v0.8h-0.8zM389.4 127.0h0.8v0.8h-0.8zM384.4 132.8h0.8v0.8h-0.8zM387.1 131.7h0.8v0.8h-0.8zM387.3 129.8h0.8v0.8h-0.8zM381.0 128.2h0.8v0.8h-0.8zM380.4 130.9h0.8v0.8h-0.8zM384.1 128.9h0.8v0.8h-0.8zM385.5 132.5h0.8v0.8h-0.8zM388.0 128.8h0.8v0.8h-0.8zM382.2 128.2h0.8v0.8h-0.8zM385.9 121.3h0.8v0.8h-0.8zM384.6 131.7h0.8v0.8h-0.8zM385.7 127.6h0.8v0.8h-0.8zM384.9 130.9h0.8v0.8h-0.8zM378.9 128.4h0.8v0.8h-0.8zM386.0 127.4h0.8v0.8h-0.8zM362.3 125.7h0.8v0.8h-0.8zM383.5 138.9h0.8v0.8h-0.8zM378.6 133.9h0.8v0.8h-0.8zM367.8 126.9h0.8v0.8h-0.8zM361.9 139.0h0.8v0.8h-0.8zM360.6 132.7h0.8v0.8h-0.8zM369.8 125.5h0.8v0.8h-0.8zM372.4 138.1h0.8v0.8h-0.8zM366.7 125.1h0.8v0.8h-0.8zM378.2 133.5h0.8v0.8h-0.8zM374.6 125.4h0.8v0.8h-0.8zM385.5 124.2h0.8v0.8h-0.8zM364.5 126.4h0.8v0.8h-0.8zM374.7 130.4h0.8v0.8h-0.8zM375.9 134.7h0.8v0.8h-0.8zM386.1 130.3h0.8v0.8h-0.8zM360.6 136.4h0.8v0.8h-0.8zM359.9 127.7h0.8v0.8h-0.8zM363.6 132.5h0.8v0.8h-0.8zM382.8 124.5h0.8v0.8h-0.8zM368.1 136.8h0.8v0.8h-0.8zM380.0 124.1h0.8v0.8h-0.8zM379.9 135.8h0.8v0.8h-0.8zM371.6 124.9h0.8v0.8h-0.8zM379.1 127.7h0.8v0.8h-0.8zM363.3 125.1h0.8v0.8h-0.8zM371.4 124.5h0.8v0.8h-0.8zM370.9 131.7h0.8v0.8h-0.8zM375.9 129.2h0.8v0.8h-0.8zM383.3 123.8h0.8v0.8h-0.8zM369.2 138.2h0.8v0.8h-0.8zM385.2 138.0h0.8v0.8h-0.8zM382.3 131.4h0.8v0.8h-0.8zM382.9 132.0h0.8v0.8h-0.8zM362.8 126.6h0.8v0.8h-0.8zM362.2 137.2h0.8v0.8h-0.8zM369.0 129.2h0.8v0.8h-0.8zM375.4 124.0h0.8v0.8h-0.8zM380.5 135.8h0.8v0.8h-0.8zM383.2 137.3h0.8v0.8h-0.8zM368.8 124.8h0.8v0.8h-0.8zM382.1 134.1h0.8v0.8h-0.8zM370.4 128.1h0.8v0.8h-0.8zM363.9 136.4h0.8v0.8h-0.8zM373.1 136.1h0.8v0.8h-0.8zM369.5 127.8h0.8v0.8h-0.8zM374.7 135.0h0.8v0.8h-0.8zM385.8 128.3h0.8v0.8h-0.8zM380.1 129.2h0.8v0.8h-0.8zM385.1 135.2h0.8v0.8h-0.8zM376.0 128.5h0.8v0.8h-0.8zM367.5 137.3h0.8v0.8h-0.8zM383.3 127.5h0.8v0.8h-0.8zM361.8 125.6h0.8v0.8h-0.8zM388.2 123.0h0.8v0.8h-0.8zM383.6 131.3h0.8v0.8h-0.8zM375.9 131.5h0.8v0.8h-0.8zM371.6 131.8h0.8v0.8h-0.8z" fill="#3a58d0" fill-opacity="0.4"/>
<ellipse cx="385.10" cy="135.90" rx="4.52" ry="4.13" fill="#2840c0" fill-opacity="0.95" filter="url(#bl2)"/>
<ellipse cx="385.40" cy="136.10" rx="3.74" ry="3.43" fill="#30b0e0" fill-opacity="1" filter="url(#bl2)"/>
<ellipse cx="385.90" cy="136.40" rx="2.89" ry="2.65" fill="#58c868" fill-opacity="1" filter="url(#bl2)"/>
<ellipse cx="386.30" cy="136.70" rx="2.03" ry="1.79" fill="#c8e040" fill-opacity="1" filter="url(#bl2)"/>
<ellipse cx="386.70" cy="136.90" rx="1.25" ry="1.09" fill="#f07820" fill-opacity="1" filter="url(#bl2)"/>
<ellipse cx="386.70" cy="136.90" rx="0.70" ry="0.62" fill="#f03c18" fill-opacity="1" filter="url(#bl2)"/>
</g>
<rect x="356.30" y="119.30" width="44.60" height="43.80" fill="none" stroke="#cfcfcf" stroke-width="0.6" />
<line x1="356.30" y1="119.30" x2="356.30" y2="163.10" stroke="#666" stroke-width="0.7" />
<line x1="356.30" y1="163.10" x2="400.90" y2="163.10" stroke="#666" stroke-width="0.7" />
<rect x="378.10" y="119.70" width="22.40" height="26.20" fill="none" stroke="#74202e" stroke-width="1.2" />
<line x1="354.90" y1="123.80" x2="356.30" y2="123.80" stroke="#555" stroke-width="0.5" />
<text x="350.50" y="125.80" font-size="6.1" fill="#333" stroke="#333" stroke-width="0.07" text-anchor="end" >10</text>
<text x="350.70" y="123.20" font-size="3.7819999999999996" fill="#333" stroke="#333" stroke-width="0.07" >5</text>
<line x1="354.90" y1="134.00" x2="356.30" y2="134.00" stroke="#555" stroke-width="0.5" />
<text x="350.50" y="136.00" font-size="6.1" fill="#333" stroke="#333" stroke-width="0.07" text-anchor="end" >10</text>
<text x="350.70" y="133.40" font-size="3.7819999999999996" fill="#333" stroke="#333" stroke-width="0.07" >4</text>
<line x1="354.90" y1="144.20" x2="356.30" y2="144.20" stroke="#555" stroke-width="0.5" />
<text x="350.50" y="146.20" font-size="6.1" fill="#333" stroke="#333" stroke-width="0.07" text-anchor="end" >10</text>
<text x="350.70" y="143.60" font-size="3.7819999999999996" fill="#333" stroke="#333" stroke-width="0.07" >3</text>
<line x1="354.90" y1="154.20" x2="356.30" y2="154.20" stroke="#555" stroke-width="0.5" />
<text x="350.50" y="156.20" font-size="6.1" fill="#333" stroke="#333" stroke-width="0.07" text-anchor="end" >10</text>
<text x="350.70" y="153.60" font-size="3.7819999999999996" fill="#333" stroke="#333" stroke-width="0.07" >2</text>
<line x1="365.90" y1="163.10" x2="365.90" y2="164.50" stroke="#555" stroke-width="0.5" />
<text x="366.50" y="172.60" font-size="5.6" fill="#333" stroke="#333" stroke-width="0.07" text-anchor="end" >10</text>
<text x="366.70" y="170.00" font-size="3.5" fill="#333" stroke="#333" stroke-width="0.07" >2</text>
<line x1="377.50" y1="163.10" x2="377.50" y2="164.50" stroke="#555" stroke-width="0.5" />
<text x="378.10" y="172.60" font-size="5.6" fill="#333" stroke="#333" stroke-width="0.07" text-anchor="end" >10</text>
<text x="378.30" y="170.00" font-size="3.5" fill="#333" stroke="#333" stroke-width="0.07" >3</text>
<line x1="387.30" y1="163.10" x2="387.30" y2="164.50" stroke="#555" stroke-width="0.5" />
<text x="387.90" y="172.60" font-size="5.6" fill="#333" stroke="#333" stroke-width="0.07" text-anchor="end" >10</text>
<text x="388.10" y="170.00" font-size="3.5" fill="#333" stroke="#333" stroke-width="0.07" >4</text>
<line x1="396.90" y1="163.10" x2="396.90" y2="164.50" stroke="#555" stroke-width="0.5" />
<text x="397.50" y="172.60" font-size="5.6" fill="#333" stroke="#333" stroke-width="0.07" text-anchor="end" >10</text>
<text x="397.70" y="170.00" font-size="3.5" fill="#333" stroke="#333" stroke-width="0.07" >5</text>
<text x="395.90" y="154.00" font-size="6.6" fill="#7e6040" stroke="#7e6040" stroke-width="0.08" text-anchor="end" >CD34</text>
<text x="396.30" y="150.60" font-size="4.2" fill="#7e6040" stroke="#7e6040" stroke-width="0.08" >+</text>
<text x="399.10" y="161.20" font-size="6.6" fill="#7e6040" stroke="#7e6040" stroke-width="0.08" text-anchor="end" >5.4%</text>
<line x1="148.30" y1="104.80" x2="148.30" y2="75.50" stroke="#111" stroke-width="1.1" />
<path d="M148.3,70.8 L145.9,76.8 L150.7,76.8 Z" fill="#111" stroke="none" stroke-width="1" />
<line x1="148.30" y1="104.80" x2="181.50" y2="104.80" stroke="#111" stroke-width="1.1" />
<path d="M186,104.8 L180,102.4 L180,107.2 Z" fill="#111" stroke="none" stroke-width="1" />
<line x1="148.30" y1="178.30" x2="148.30" y2="147.50" stroke="#111" stroke-width="1.1" />
<path d="M148.3,142.7 L145.9,148.7 L150.7,148.7 Z" fill="#111" stroke="none" stroke-width="1" />
<line x1="148.30" y1="178.30" x2="181.50" y2="178.30" stroke="#111" stroke-width="1.1" />
<path d="M186,178.3 L180,175.9 L180,180.7 Z" fill="#111" stroke="none" stroke-width="1" />
<text x="142.80" y="70.70" font-size="8.8" fill="#1a1a1a" stroke="#1a1a1a" stroke-width="0.35" text-anchor="middle" textLength="12.6" lengthAdjust="spacingAndGlyphs" transform="rotate(-90 142.80 70.70)" >CD45</text>
<text x="186.60" y="115.50" font-size="8.8" fill="#1a1a1a" stroke="#1a1a1a" stroke-width="0.35" text-anchor="middle" textLength="11" lengthAdjust="spacingAndGlyphs" >SSC</text>
<text x="142.80" y="141.70" font-size="8.8" fill="#1a1a1a" stroke="#1a1a1a" stroke-width="0.35" text-anchor="middle" textLength="13.2" lengthAdjust="spacingAndGlyphs" transform="rotate(-90 142.80 141.70)" >CD34</text>
<text x="186.50" y="189.80" font-size="8.8" fill="#1a1a1a" stroke="#1a1a1a" stroke-width="0.35" text-anchor="middle" textLength="12.2" lengthAdjust="spacingAndGlyphs" >CD33</text>
<rect x="457.00" y="20.40" width="9.60" height="37.50" fill="#5a2a72" stroke="none" stroke-width="1" />
<rect x="471.00" y="14.77" width="9.60" height="43.12" fill="#6aaa44" stroke="none" stroke-width="1" />
<rect x="485.30" y="38.10" width="9.60" height="19.80" fill="#a8082e" stroke="none" stroke-width="1" />
<rect x="499.90" y="51.30" width="9.60" height="6.60" fill="#2c4e88" stroke="none" stroke-width="1" />
<line x1="452.80" y1="14.00" x2="452.80" y2="58.45" stroke="#111" stroke-width="1.1" />
<line x1="452.25" y1="57.90" x2="514.60" y2="57.90" stroke="#111" stroke-width="1.1" />
<line x1="449.10" y1="57.90" x2="452.80" y2="57.90" stroke="#111" stroke-width="0.8" />
<text x="445.00" y="60.30" font-size="6.8" fill="#111" stroke="#111" stroke-width="0.13" text-anchor="end" >0</text>
<line x1="449.10" y1="50.40" x2="452.80" y2="50.40" stroke="#111" stroke-width="0.8" />
<text x="445.00" y="52.80" font-size="6.8" fill="#111" stroke="#111" stroke-width="0.13" text-anchor="end" >20</text>
<line x1="449.10" y1="42.90" x2="452.80" y2="42.90" stroke="#111" stroke-width="0.8" />
<text x="445.00" y="45.30" font-size="6.8" fill="#111" stroke="#111" stroke-width="0.13" text-anchor="end" >40</text>
<line x1="449.10" y1="35.40" x2="452.80" y2="35.40" stroke="#111" stroke-width="0.8" />
<text x="445.00" y="37.80" font-size="6.8" fill="#111" stroke="#111" stroke-width="0.13" text-anchor="end" >60</text>
<line x1="449.10" y1="27.90" x2="452.80" y2="27.90" stroke="#111" stroke-width="0.8" />
<text x="445.00" y="30.30" font-size="6.8" fill="#111" stroke="#111" stroke-width="0.13" text-anchor="end" >80</text>
<line x1="449.10" y1="20.40" x2="452.80" y2="20.40" stroke="#111" stroke-width="0.8" />
<text x="445.00" y="22.80" font-size="6.8" fill="#111" stroke="#111" stroke-width="0.13" text-anchor="end" >100</text>
<line x1="461.80" y1="57.90" x2="461.80" y2="60.30" stroke="#111" stroke-width="0.7" />
<text x="465.60" y="68.70" font-size="7.6" fill="#111" stroke="#111" stroke-width="0.13" text-anchor="end" transform="rotate(-48 465.60 68.70)" >Ctrl</text>
<line x1="475.80" y1="57.90" x2="475.80" y2="60.30" stroke="#111" stroke-width="0.7" />
<text x="479.60" y="68.70" font-size="7.6" fill="#111" stroke="#111" stroke-width="0.13" text-anchor="end" transform="rotate(-48 479.60 68.70)" >rhIGFBP7</text>
<line x1="490.10" y1="57.90" x2="490.10" y2="60.30" stroke="#111" stroke-width="0.7" />
<text x="493.90" y="68.70" font-size="7.6" fill="#111" stroke="#111" stroke-width="0.13" text-anchor="end" transform="rotate(-48 493.90 68.70)" >ATRA</text>
<line x1="504.70" y1="57.90" x2="504.70" y2="60.30" stroke="#111" stroke-width="0.7" />
<text x="508.50" y="68.70" font-size="7.6" fill="#111" stroke="#111" stroke-width="0.13" text-anchor="end" transform="rotate(-48 508.50 68.70)" >Combi</text>
<text x="426.3" y="36.4" font-size="8.6" font-weight="bold" fill="#222" text-anchor="middle" textLength="52.5" lengthAdjust="spacingAndGlyphs" transform="rotate(-90 426.3 36.4)">CD45<tspan dy="-3" font-size="5.2">dim</tspan><tspan dy="3"> cells (%)</tspan></text>
<rect x="457.00" y="117.40" width="9.60" height="39.70" fill="#5a2a72" stroke="none" stroke-width="1" />
<rect x="471.00" y="116.80" width="9.60" height="40.30" fill="#6aaa44" stroke="none" stroke-width="1" />
<rect x="485.30" y="136.06" width="9.60" height="21.04" fill="#a8082e" stroke="none" stroke-width="1" />
<rect x="499.90" y="150.75" width="9.60" height="6.35" fill="#2c4e88" stroke="none" stroke-width="1" />
<line x1="452.80" y1="110.80" x2="452.80" y2="157.65" stroke="#111" stroke-width="1.1" />
<line x1="452.25" y1="157.10" x2="514.60" y2="157.10" stroke="#111" stroke-width="1.1" />
<line x1="449.10" y1="157.10" x2="452.80" y2="157.10" stroke="#111" stroke-width="0.8" />
<text x="445.00" y="159.50" font-size="6.8" fill="#111" stroke="#111" stroke-width="0.13" text-anchor="end" >0</text>
<line x1="449.10" y1="149.16" x2="452.80" y2="149.16" stroke="#111" stroke-width="0.8" />
<text x="445.00" y="151.56" font-size="6.8" fill="#111" stroke="#111" stroke-width="0.13" text-anchor="end" >20</text>
<line x1="449.10" y1="141.22" x2="452.80" y2="141.22" stroke="#111" stroke-width="0.8" />
<text x="445.00" y="143.62" font-size="6.8" fill="#111" stroke="#111" stroke-width="0.13" text-anchor="end" >40</text>
<line x1="449.10" y1="133.28" x2="452.80" y2="133.28" stroke="#111" stroke-width="0.8" />
<text x="445.00" y="135.68" font-size="6.8" fill="#111" stroke="#111" stroke-width="0.13" text-anchor="end" >60</text>
<line x1="449.10" y1="125.34" x2="452.80" y2="125.34" stroke="#111" stroke-width="0.8" />
<text x="445.00" y="127.74" font-size="6.8" fill="#111" stroke="#111" stroke-width="0.13" text-anchor="end" >80</text>
<line x1="449.10" y1="117.40" x2="452.80" y2="117.40" stroke="#111" stroke-width="0.8" />
<text x="445.00" y="119.80" font-size="6.8" fill="#111" stroke="#111" stroke-width="0.13" text-anchor="end" >100</text>
<line x1="461.80" y1="157.10" x2="461.80" y2="159.50" stroke="#111" stroke-width="0.7" />
<text x="465.60" y="167.90" font-size="7.6" fill="#111" stroke="#111" stroke-width="0.13" text-anchor="end" transform="rotate(-48 465.60 167.90)" >Ctrl</text>
<line x1="475.80" y1="157.10" x2="475.80" y2="159.50" stroke="#111" stroke-width="0.7" />
<text x="479.60" y="167.90" font-size="7.6" fill="#111" stroke="#111" stroke-width="0.13" text-anchor="end" transform="rotate(-48 479.60 167.90)" >rhIGFBP7</text>
<line x1="490.10" y1="157.10" x2="490.10" y2="159.50" stroke="#111" stroke-width="0.7" />
<text x="493.90" y="167.90" font-size="7.6" fill="#111" stroke="#111" stroke-width="0.13" text-anchor="end" transform="rotate(-48 493.90 167.90)" >ATRA</text>
<line x1="504.70" y1="157.10" x2="504.70" y2="159.50" stroke="#111" stroke-width="0.7" />
<text x="508.50" y="167.90" font-size="7.6" fill="#111" stroke="#111" stroke-width="0.13" text-anchor="end" transform="rotate(-48 508.50 167.90)" >Combi</text>
<text x="426.3" y="133.7" font-size="8.6" font-weight="bold" fill="#222" text-anchor="middle" textLength="72" lengthAdjust="spacingAndGlyphs" transform="rotate(-90 426.3 133.7)">CD45<tspan dy="-3" font-size="5.2">dim</tspan><tspan dy="3">CD34</tspan><tspan dy="-3" font-size="5.2">+</tspan><tspan dy="3"> cells (%)</tspan></text>
<text x="5.00" y="213.60" font-size="12.8" fill="#000" stroke="#000" stroke-width="0.45" font-weight="bold" >C</text>
<text x="157.50" y="210.80" font-size="9.0" fill="#111" stroke="#111" stroke-width="0.13" text-anchor="middle" textLength="44.5" lengthAdjust="spacingAndGlyphs" >Responsive</text>
<text x="270.80" y="210.80" font-size="9.0" fill="#111" stroke="#111" stroke-width="0.13" text-anchor="middle" textLength="60.5" lengthAdjust="spacingAndGlyphs" >Non-responsive</text>
<text x="108.36" y="238.60" font-size="7.0" fill="#111" stroke="#111" stroke-width="0.13" transform="rotate(-90 108.36 238.60)" >AML1</text>
<text x="116.48" y="238.60" font-size="7.0" fill="#111" stroke="#111" stroke-width="0.13" transform="rotate(-90 116.48 238.60)" >AML2</text>
<text x="124.60" y="238.60" font-size="7.0" fill="#111" stroke="#111" stroke-width="0.13" transform="rotate(-90 124.60 238.60)" >AML3</text>
<text x="132.72" y="238.60" font-size="7.0" fill="#111" stroke="#111" stroke-width="0.13" transform="rotate(-90 132.72 238.60)" >AML4</text>
<text x="140.84" y="238.60" font-size="7.0" fill="#111" stroke="#111" stroke-width="0.13" transform="rotate(-90 140.84 238.60)" >AML5</text>
<text x="148.96" y="238.60" font-size="7.0" fill="#111" stroke="#111" stroke-width="0.13" transform="rotate(-90 148.96 238.60)" >AML6</text>
<text x="157.08" y="238.60" font-size="7.0" fill="#111" stroke="#111" stroke-width="0.13" transform="rotate(-90 157.08 238.60)" >AML7</text>
<text x="165.20" y="238.60" font-size="7.0" fill="#111" stroke="#111" stroke-width="0.13" transform="rotate(-90 165.20 238.60)" >AML8</text>
<text x="173.32" y="238.60" font-size="7.0" fill="#111" stroke="#111" stroke-width="0.13" transform="rotate(-90 173.32 238.60)" >AML9</text>
<text x="181.44" y="238.60" font-size="7.0" fill="#111" stroke="#111" stroke-width="0.13" transform="rotate(-90 181.44 238.60)" >AML10</text>
<text x="189.56" y="238.60" font-size="7.0" fill="#111" stroke="#111" stroke-width="0.13" transform="rotate(-90 189.56 238.60)" >AML11</text>
<text x="197.68" y="238.60" font-size="7.0" fill="#111" stroke="#111" stroke-width="0.13" transform="rotate(-90 197.68 238.60)" >AML12</text>
<text x="205.80" y="238.60" font-size="7.0" fill="#111" stroke="#111" stroke-width="0.13" transform="rotate(-90 205.80 238.60)" >AML13</text>
<text x="213.92" y="238.60" font-size="7.0" fill="#111" stroke="#111" stroke-width="0.13" transform="rotate(-90 213.92 238.60)" >AML14</text>
<text x="222.04" y="238.60" font-size="7.0" fill="#111" stroke="#111" stroke-width="0.13" transform="rotate(-90 222.04 238.60)" >AML15</text>
<text x="230.16" y="238.60" font-size="7.0" fill="#111" stroke="#111" stroke-width="0.13" transform="rotate(-90 230.16 238.60)" >AML16</text>
<text x="238.28" y="238.60" font-size="7.0" fill="#111" stroke="#111" stroke-width="0.13" transform="rotate(-90 238.28 238.60)" >AML17</text>
<text x="246.40" y="238.60" font-size="7.0" fill="#111" stroke="#111" stroke-width="0.13" transform="rotate(-90 246.40 238.60)" >AML18</text>
<text x="254.52" y="238.60" font-size="7.0" fill="#111" stroke="#111" stroke-width="0.13" transform="rotate(-90 254.52 238.60)" >AML19</text>
<text x="262.64" y="238.60" font-size="7.0" fill="#111" stroke="#111" stroke-width="0.13" transform="rotate(-90 262.64 238.60)" >AML20</text>
<text x="270.76" y="238.60" font-size="7.0" fill="#111" stroke="#111" stroke-width="0.13" transform="rotate(-90 270.76 238.60)" >AML21</text>
<text x="278.88" y="238.60" font-size="7.0" fill="#111" stroke="#111" stroke-width="0.13" transform="rotate(-90 278.88 238.60)" >AML22</text>
<text x="287.00" y="238.60" font-size="7.0" fill="#111" stroke="#111" stroke-width="0.13" transform="rotate(-90 287.00 238.60)" >AML23</text>
<text x="295.12" y="238.60" font-size="7.0" fill="#111" stroke="#111" stroke-width="0.13" transform="rotate(-90 295.12 238.60)" >AML24</text>
<text x="303.24" y="238.60" font-size="7.0" fill="#111" stroke="#111" stroke-width="0.13" transform="rotate(-90 303.24 238.60)" >AML25</text>
<text x="311.36" y="238.60" font-size="7.0" fill="#111" stroke="#111" stroke-width="0.13" transform="rotate(-90 311.36 238.60)" >AML26</text>
<text x="319.48" y="238.60" font-size="7.0" fill="#111" stroke="#111" stroke-width="0.13" transform="rotate(-90 319.48 238.60)" >AML27</text>
<text x="327.60" y="238.60" font-size="7.0" fill="#111" stroke="#111" stroke-width="0.13" transform="rotate(-90 327.60 238.60)" >AML28</text>
<rect x="99.90" y="240.60" width="9.02" height="7.60" fill="#d6eef3" stroke="none" stroke-width="1" />
<rect x="108.02" y="240.60" width="9.02" height="7.60" fill="#d6eef3" stroke="none" stroke-width="1" />
<rect x="116.14" y="240.60" width="9.02" height="7.60" fill="#d6eef3" stroke="none" stroke-width="1" />
<rect x="124.26" y="240.60" width="9.02" height="7.60" fill="#d6eef3" stroke="none" stroke-width="1" />
<rect x="132.38" y="240.60" width="9.02" height="7.60" fill="#8cb0e0" stroke="none" stroke-width="1" />
<rect x="140.50" y="240.60" width="9.02" height="7.60" fill="#8cb0e0" stroke="none" stroke-width="1" />
<rect x="148.62" y="240.60" width="9.02" height="7.60" fill="#8cb0e0" stroke="none" stroke-width="1" />
<rect x="156.74" y="240.60" width="9.02" height="7.60" fill="#8cb0e0" stroke="none" stroke-width="1" />
<rect x="164.86" y="240.60" width="9.02" height="7.60" fill="#8cb0e0" stroke="none" stroke-width="1" />
<rect x="172.98" y="240.60" width="9.02" height="7.60" fill="#8cb0e0" stroke="none" stroke-width="1" />
<rect x="181.10" y="240.60" width="9.02" height="7.60" fill="#3d6590" stroke="none" stroke-width="1" />
<rect x="189.22" y="240.60" width="9.02" height="7.60" fill="#3d6590" stroke="none" stroke-width="1" />
<rect x="197.34" y="240.60" width="9.02" height="7.60" fill="#3d6590" stroke="none" stroke-width="1" />
<rect x="205.46" y="240.60" width="9.02" height="7.60" fill="#3d6590" stroke="none" stroke-width="1" />
<rect x="213.58" y="240.60" width="9.02" height="7.60" fill="#c48e8e" stroke="none" stroke-width="1" />
<rect x="221.70" y="240.60" width="9.02" height="7.60" fill="#c48e8e" stroke="none" stroke-width="1" />
<rect x="229.82" y="240.60" width="9.02" height="7.60" fill="#c48e8e" stroke="none" stroke-width="1" />
<rect x="237.94" y="240.60" width="9.02" height="7.60" fill="#c48e8e" stroke="none" stroke-width="1" />
<rect x="246.06" y="240.60" width="9.02" height="7.60" fill="#c48e8e" stroke="none" stroke-width="1" />
<rect x="254.18" y="240.60" width="9.02" height="7.60" fill="#c48e8e" stroke="none" stroke-width="1" />
<rect x="262.30" y="240.60" width="9.02" height="7.60" fill="#c48e8e" stroke="none" stroke-width="1" />
<rect x="270.42" y="240.60" width="9.02" height="7.60" fill="#c48e8e" stroke="none" stroke-width="1" />
<rect x="278.54" y="240.60" width="9.02" height="7.60" fill="#c48e8e" stroke="none" stroke-width="1" />
<rect x="286.66" y="240.60" width="9.02" height="7.60" fill="#c48e8e" stroke="none" stroke-width="1" />
<rect x="294.78" y="240.60" width="9.02" height="7.60" fill="#c48e8e" stroke="none" stroke-width="1" />
<rect x="302.90" y="240.60" width="9.02" height="7.60" fill="#c48e8e" stroke="none" stroke-width="1" />
<rect x="311.02" y="240.60" width="9.02" height="7.60" fill="#c48e8e" stroke="none" stroke-width="1" />
<rect x="319.14" y="240.60" width="9.02" height="7.60" fill="#c48e8e" stroke="none" stroke-width="1" />
<rect x="99.90" y="248.50" width="9.02" height="10.00" fill="#adbae0" stroke="none" stroke-width="1" />
<rect x="108.02" y="248.50" width="9.02" height="10.00" fill="#8ba9da" stroke="none" stroke-width="1" />
<rect x="116.14" y="248.50" width="9.02" height="10.00" fill="#4b88d8" stroke="none" stroke-width="1" />
<rect x="124.26" y="248.50" width="9.02" height="10.00" fill="#4b88d8" stroke="none" stroke-width="1" />
<rect x="132.38" y="248.50" width="9.02" height="10.00" fill="#4b88d8" stroke="none" stroke-width="1" />
<rect x="140.50" y="248.50" width="9.02" height="10.00" fill="#4b88d8" stroke="none" stroke-width="1" />
<rect x="148.62" y="248.50" width="9.02" height="10.00" fill="#f0cecc" stroke="none" stroke-width="1" />
<rect x="156.74" y="248.50" width="9.02" height="10.00" fill="#c9c9e2" stroke="none" stroke-width="1" />
<rect x="164.86" y="248.50" width="9.02" height="10.00" fill="#ddd5e4" stroke="none" stroke-width="1" />
<rect x="172.98" y="248.50" width="9.02" height="10.00" fill="#8ba9da" stroke="none" stroke-width="1" />
<rect x="181.10" y="248.50" width="9.02" height="10.00" fill="#4b88d8" stroke="none" stroke-width="1" />
<rect x="189.22" y="248.50" width="9.02" height="10.00" fill="#4b88d8" stroke="none" stroke-width="1" />
<rect x="197.34" y="248.50" width="9.02" height="10.00" fill="#8ba9da" stroke="none" stroke-width="1" />
<rect x="205.46" y="248.50" width="9.02" height="10.00" fill="#4b88d8" stroke="none" stroke-width="1" />
<rect x="213.58" y="248.50" width="9.02" height="10.00" fill="#4b88d8" stroke="none" stroke-width="1" />
<rect x="221.70" y="248.50" width="9.02" height="10.00" fill="#f2dcdc" stroke="none" stroke-width="1" />
<rect x="229.82" y="248.50" width="9.02" height="10.00" fill="#6a9ad9" stroke="none" stroke-width="1" />
<rect x="237.94" y="248.50" width="9.02" height="10.00" fill="#ddd5e4" stroke="none" stroke-width="1" />
<rect x="246.06" y="248.50" width="9.02" height="10.00" fill="#f2dcdc" stroke="none" stroke-width="1" />
<rect x="254.18" y="248.50" width="9.02" height="10.00" fill="#c9c9e2" stroke="none" stroke-width="1" />
<rect x="262.30" y="248.50" width="9.02" height="10.00" fill="#c9c9e2" stroke="none" stroke-width="1" />
<rect x="270.42" y="248.50" width="9.02" height="10.00" fill="#4b88d8" stroke="none" stroke-width="1" />
<rect x="278.54" y="248.50" width="9.02" height="10.00" fill="#c9c9e2" stroke="none" stroke-width="1" />
<rect x="286.66" y="248.50" width="9.02" height="10.00" fill="#adbae0" stroke="none" stroke-width="1" />
<rect x="294.78" y="248.50" width="9.02" height="10.00" fill="#c9c9e2" stroke="none" stroke-width="1" />
<rect x="302.90" y="248.50" width="9.02" height="10.00" fill="#4b88d8" stroke="none" stroke-width="1" />
<rect x="311.02" y="248.50" width="9.02" height="10.00" fill="#e9bab7" stroke="none" stroke-width="1" />
<rect x="319.14" y="248.50" width="9.02" height="10.00" fill="#4b88d8" stroke="none" stroke-width="1" />
<rect x="99.90" y="257.60" width="9.02" height="10.10" fill="#adbae0" stroke="none" stroke-width="1" />
<rect x="108.02" y="257.60" width="9.02" height="10.10" fill="#4b88d8" stroke="none" stroke-width="1" />
<rect x="116.14" y="257.60" width="9.02" height="10.10" fill="#8ba9da" stroke="none" stroke-width="1" />
<rect x="124.26" y="257.60" width="9.02" height="10.10" fill="#c9c9e2" stroke="none" stroke-width="1" />
<rect x="132.38" y="257.60" width="9.02" height="10.10" fill="#4b88d8" stroke="none" stroke-width="1" />
<rect x="140.50" y="257.60" width="9.02" height="10.10" fill="#f2dcdc" stroke="none" stroke-width="1" />
<rect x="148.62" y="257.60" width="9.02" height="10.10" fill="#f0cecc" stroke="none" stroke-width="1" />
<rect x="156.74" y="257.60" width="9.02" height="10.10" fill="#ddd5e4" stroke="none" stroke-width="1" />
<rect x="164.86" y="257.60" width="9.02" height="10.10" fill="#ddd5e4" stroke="none" stroke-width="1" />
<rect x="172.98" y="257.60" width="9.02" height="10.10" fill="#f0cecc" stroke="none" stroke-width="1" />
<rect x="181.10" y="257.60" width="9.02" height="10.10" fill="#6a9ad9" stroke="none" stroke-width="1" />
<rect x="189.22" y="257.60" width="9.02" height="10.10" fill="#4b88d8" stroke="none" stroke-width="1" />
<rect x="197.34" y="257.60" width="9.02" height="10.10" fill="#adbae0" stroke="none" stroke-width="1" />
<rect x="205.46" y="257.60" width="9.02" height="10.10" fill="#adbae0" stroke="none" stroke-width="1" />
<rect x="213.58" y="257.60" width="9.02" height="10.10" fill="#f2dcdc" stroke="none" stroke-width="1" />
<rect x="221.70" y="257.60" width="9.02" height="10.10" fill="#e9bab7" stroke="none" stroke-width="1" />
<rect x="229.82" y="257.60" width="9.02" height="10.10" fill="#ddd5e4" stroke="none" stroke-width="1" />
<rect x="237.94" y="257.60" width="9.02" height="10.10" fill="#6a9ad9" stroke="none" stroke-width="1" />
<rect x="246.06" y="257.60" width="9.02" height="10.10" fill="#f2dcdc" stroke="none" stroke-width="1" />
<rect x="254.18" y="257.60" width="9.02" height="10.10" fill="#f2dcdc" stroke="none" stroke-width="1" />
<rect x="262.30" y="257.60" width="9.02" height="10.10" fill="#c9c9e2" stroke="none" stroke-width="1" />
<rect x="270.42" y="257.60" width="9.02" height="10.10" fill="#4b88d8" stroke="none" stroke-width="1" />
<rect x="278.54" y="257.60" width="9.02" height="10.10" fill="#f2dcdc" stroke="none" stroke-width="1" />
<rect x="286.66" y="257.60" width="9.02" height="10.10" fill="#c9c9e2" stroke="none" stroke-width="1" />
<rect x="294.78" y="257.60" width="9.02" height="10.10" fill="#ddd5e4" stroke="none" stroke-width="1" />
<rect x="302.90" y="257.60" width="9.02" height="10.10" fill="#4b88d8" stroke="none" stroke-width="1" />
<rect x="311.02" y="257.60" width="9.02" height="10.10" fill="#e9bab7" stroke="none" stroke-width="1" />
<rect x="319.14" y="257.60" width="9.02" height="10.10" fill="#f2dcdc" stroke="none" stroke-width="1" />
<rect x="99.90" y="266.80" width="9.02" height="10.20" fill="#4b88d8" stroke="none" stroke-width="1" />
<rect x="108.02" y="266.80" width="9.02" height="10.20" fill="#ddd5e4" stroke="none" stroke-width="1" />
<rect x="116.14" y="266.80" width="9.02" height="10.20" fill="#c9c9e2" stroke="none" stroke-width="1" />
<rect x="124.26" y="266.80" width="9.02" height="10.20" fill="#c9c9e2" stroke="none" stroke-width="1" />
<rect x="132.38" y="266.80" width="9.02" height="10.20" fill="#f0cecc" stroke="none" stroke-width="1" />
<rect x="140.50" y="266.80" width="9.02" height="10.20" fill="#f0cecc" stroke="none" stroke-width="1" />
<rect x="148.62" y="266.80" width="9.02" height="10.20" fill="#f2dcdc" stroke="none" stroke-width="1" />
<rect x="156.74" y="266.80" width="9.02" height="10.20" fill="#8ba9da" stroke="none" stroke-width="1" />
<rect x="164.86" y="266.80" width="9.02" height="10.20" fill="#f2dcdc" stroke="none" stroke-width="1" />
<rect x="172.98" y="266.80" width="9.02" height="10.20" fill="#e9bab7" stroke="none" stroke-width="1" />
<rect x="181.10" y="266.80" width="9.02" height="10.20" fill="#4b88d8" stroke="none" stroke-width="1" />
<rect x="189.22" y="266.80" width="9.02" height="10.20" fill="#c9c9e2" stroke="none" stroke-width="1" />
<rect x="197.34" y="266.80" width="9.02" height="10.20" fill="#c9c9e2" stroke="none" stroke-width="1" />
<rect x="205.46" y="266.80" width="9.02" height="10.20" fill="#ddd5e4" stroke="none" stroke-width="1" />
<rect x="213.58" y="266.80" width="9.02" height="10.20" fill="#e9bab7" stroke="none" stroke-width="1" />
<rect x="221.70" y="266.80" width="9.02" height="10.20" fill="#f0cecc" stroke="none" stroke-width="1" />
<rect x="229.82" y="266.80" width="9.02" height="10.20" fill="#f2dcdc" stroke="none" stroke-width="1" />
<rect x="237.94" y="266.80" width="9.02" height="10.20" fill="#ddd5e4" stroke="none" stroke-width="1" />
<rect x="246.06" y="266.80" width="9.02" height="10.20" fill="#f0cecc" stroke="none" stroke-width="1" />
<rect x="254.18" y="266.80" width="9.02" height="10.20" fill="#f2dcdc" stroke="none" stroke-width="1" />
<rect x="262.30" y="266.80" width="9.02" height="10.20" fill="#f0cecc" stroke="none" stroke-width="1" />
<rect x="270.42" y="266.80" width="9.02" height="10.20" fill="#c9c9e2" stroke="none" stroke-width="1" />
<rect x="278.54" y="266.80" width="9.02" height="10.20" fill="#adbae0" stroke="none" stroke-width="1" />
<rect x="286.66" y="266.80" width="9.02" height="10.20" fill="#adbae0" stroke="none" stroke-width="1" />
<rect x="294.78" y="266.80" width="9.02" height="10.20" fill="#c9c9e2" stroke="none" stroke-width="1" />
<rect x="302.90" y="266.80" width="9.02" height="10.20" fill="#ddd5e4" stroke="none" stroke-width="1" />
<rect x="311.02" y="266.80" width="9.02" height="10.20" fill="#e9bab7" stroke="none" stroke-width="1" />
<rect x="319.14" y="266.80" width="9.02" height="10.20" fill="#c9c9e2" stroke="none" stroke-width="1" />
<rect x="99.90" y="276.10" width="9.02" height="10.50" fill="#adbae0" stroke="none" stroke-width="1" />
<rect x="108.02" y="276.10" width="9.02" height="10.50" fill="#f2dcdc" stroke="none" stroke-width="1" />
<rect x="116.14" y="276.10" width="9.02" height="10.50" fill="#f2dcdc" stroke="none" stroke-width="1" />
<rect x="124.26" y="276.10" width="9.02" height="10.50" fill="#8ba9da" stroke="none" stroke-width="1" />
<rect x="132.38" y="276.10" width="9.02" height="10.50" fill="#4b88d8" stroke="none" stroke-width="1" />
<rect x="140.50" y="276.10" width="9.02" height="10.50" fill="#adbae0" stroke="none" stroke-width="1" />
<rect x="148.62" y="276.10" width="9.02" height="10.50" fill="#4b88d8" stroke="none" stroke-width="1" />
<rect x="156.74" y="276.10" width="9.02" height="10.50" fill="#4b88d8" stroke="none" stroke-width="1" />
<rect x="164.86" y="276.10" width="9.02" height="10.50" fill="#4b88d8" stroke="none" stroke-width="1" />
<rect x="172.98" y="276.10" width="9.02" height="10.50" fill="#ddd5e4" stroke="none" stroke-width="1" />
<rect x="181.10" y="276.10" width="9.02" height="10.50" fill="#4b88d8" stroke="none" stroke-width="1" />
<rect x="189.22" y="276.10" width="9.02" height="10.50" fill="#6a9ad9" stroke="none" stroke-width="1" />
<rect x="197.34" y="276.10" width="9.02" height="10.50" fill="#4b88d8" stroke="none" stroke-width="1" />
<rect x="205.46" y="276.10" width="9.02" height="10.50" fill="#4b88d8" stroke="none" stroke-width="1" />
<rect x="213.58" y="276.10" width="9.02" height="10.50" fill="#adbae0" stroke="none" stroke-width="1" />
<rect x="221.70" y="276.10" width="9.02" height="10.50" fill="#f2dcdc" stroke="none" stroke-width="1" />
<rect x="229.82" y="276.10" width="9.02" height="10.50" fill="#c9c9e2" stroke="none" stroke-width="1" />
<rect x="237.94" y="276.10" width="9.02" height="10.50" fill="#f2dcdc" stroke="none" stroke-width="1" />
<rect x="246.06" y="276.10" width="9.02" height="10.50" fill="#f0cecc" stroke="none" stroke-width="1" />
<rect x="254.18" y="276.10" width="9.02" height="10.50" fill="#c9c9e2" stroke="none" stroke-width="1" />
<rect x="262.30" y="276.10" width="9.02" height="10.50" fill="#8ba9da" stroke="none" stroke-width="1" />
<rect x="270.42" y="276.10" width="9.02" height="10.50" fill="#adbae0" stroke="none" stroke-width="1" />
<rect x="278.54" y="276.10" width="9.02" height="10.50" fill="#ddd5e4" stroke="none" stroke-width="1" />
<rect x="286.66" y="276.10" width="9.02" height="10.50" fill="#adbae0" stroke="none" stroke-width="1" />
<rect x="294.78" y="276.10" width="9.02" height="10.50" fill="#ddd5e4" stroke="none" stroke-width="1" />
<rect x="302.90" y="276.10" width="9.02" height="10.50" fill="#f2dcdc" stroke="none" stroke-width="1" />
<rect x="311.02" y="276.10" width="9.02" height="10.50" fill="#f2dcdc" stroke="none" stroke-width="1" />
<rect x="319.14" y="276.10" width="9.02" height="10.50" fill="#8ba9da" stroke="none" stroke-width="1" />
<rect x="99.90" y="285.70" width="9.02" height="10.40" fill="#f2dcdc" stroke="none" stroke-width="1" />
<rect x="108.02" y="285.70" width="9.02" height="10.40" fill="#f2dcdc" stroke="none" stroke-width="1" />
<rect x="116.14" y="285.70" width="9.02" height="10.40" fill="#ddd5e4" stroke="none" stroke-width="1" />
<rect x="124.26" y="285.70" width="9.02" height="10.40" fill="#f0cecc" stroke="none" stroke-width="1" />
<rect x="132.38" y="285.70" width="9.02" height="10.40" fill="#4b88d8" stroke="none" stroke-width="1" />
<rect x="140.50" y="285.70" width="9.02" height="10.40" fill="#ddd5e4" stroke="none" stroke-width="1" />
<rect x="148.62" y="285.70" width="9.02" height="10.40" fill="#4b88d8" stroke="none" stroke-width="1" />
<rect x="156.74" y="285.70" width="9.02" height="10.40" fill="#4b88d8" stroke="none" stroke-width="1" />
<rect x="164.86" y="285.70" width="9.02" height="10.40" fill="#ddd5e4" stroke="none" stroke-width="1" />
<rect x="172.98" y="285.70" width="9.02" height="10.40" fill="#ddd5e4" stroke="none" stroke-width="1" />
<rect x="181.10" y="285.70" width="9.02" height="10.40" fill="#4b88d8" stroke="none" stroke-width="1" />
<rect x="189.22" y="285.70" width="9.02" height="10.40" fill="#ddd5e4" stroke="none" stroke-width="1" />
<rect x="197.34" y="285.70" width="9.02" height="10.40" fill="#4b88d8" stroke="none" stroke-width="1" />
<rect x="205.46" y="285.70" width="9.02" height="10.40" fill="#4b88d8" stroke="none" stroke-width="1" />
<rect x="213.58" y="285.70" width="9.02" height="10.40" fill="#f2dcdc" stroke="none" stroke-width="1" />
<rect x="221.70" y="285.70" width="9.02" height="10.40" fill="#adbae0" stroke="none" stroke-width="1" />
<rect x="229.82" y="285.70" width="9.02" height="10.40" fill="#f0cecc" stroke="none" stroke-width="1" />
<rect x="237.94" y="285.70" width="9.02" height="10.40" fill="#f0cecc" stroke="none" stroke-width="1" />
<rect x="246.06" y="285.70" width="9.02" height="10.40" fill="#f0cecc" stroke="none" stroke-width="1" />
<rect x="254.18" y="285.70" width="9.02" height="10.40" fill="#f0cecc" stroke="none" stroke-width="1" />
<rect x="262.30" y="285.70" width="9.02" height="10.40" fill="#adbae0" stroke="none" stroke-width="1" />
<rect x="270.42" y="285.70" width="9.02" height="10.40" fill="#ddd5e4" stroke="none" stroke-width="1" />
<rect x="278.54" y="285.70" width="9.02" height="10.40" fill="#f0cecc" stroke="none" stroke-width="1" />
<rect x="286.66" y="285.70" width="9.02" height="10.40" fill="#f2dcdc" stroke="none" stroke-width="1" />
<rect x="294.78" y="285.70" width="9.02" height="10.40" fill="#4b88d8" stroke="none" stroke-width="1" />
<rect x="302.90" y="285.70" width="9.02" height="10.40" fill="#f0cecc" stroke="none" stroke-width="1" />
<rect x="311.02" y="285.70" width="9.02" height="10.40" fill="#f0cecc" stroke="none" stroke-width="1" />
<rect x="319.14" y="285.70" width="9.02" height="10.40" fill="#f0cecc" stroke="none" stroke-width="1" />
<rect x="99.90" y="295.20" width="9.02" height="10.90" fill="#ddd5e4" stroke="none" stroke-width="1" />
<rect x="108.02" y="295.20" width="9.02" height="10.90" fill="#f2dcdc" stroke="none" stroke-width="1" />
<rect x="116.14" y="295.20" width="9.02" height="10.90" fill="#f0cecc" stroke="none" stroke-width="1" />
<rect x="124.26" y="295.20" width="9.02" height="10.90" fill="#f0cecc" stroke="none" stroke-width="1" />
<rect x="132.38" y="295.20" width="9.02" height="10.90" fill="#ddd5e4" stroke="none" stroke-width="1" />
<rect x="140.50" y="295.20" width="9.02" height="10.90" fill="#8ba9da" stroke="none" stroke-width="1" />
<rect x="148.62" y="295.20" width="9.02" height="10.90" fill="#4b88d8" stroke="none" stroke-width="1" />
<rect x="156.74" y="295.20" width="9.02" height="10.90" fill="#ddd5e4" stroke="none" stroke-width="1" />
<rect x="164.86" y="295.20" width="9.02" height="10.90" fill="#adbae0" stroke="none" stroke-width="1" />
<rect x="172.98" y="295.20" width="9.02" height="10.90" fill="#ddd5e4" stroke="none" stroke-width="1" />
<rect x="181.10" y="295.20" width="9.02" height="10.90" fill="#4b88d8" stroke="none" stroke-width="1" />
<rect x="189.22" y="295.20" width="9.02" height="10.90" fill="#f2dcdc" stroke="none" stroke-width="1" />
<rect x="197.34" y="295.20" width="9.02" height="10.90" fill="#4b88d8" stroke="none" stroke-width="1" />
<rect x="205.46" y="295.20" width="9.02" height="10.90" fill="#adbae0" stroke="none" stroke-width="1" />
<rect x="213.58" y="295.20" width="9.02" height="10.90" fill="#f2dcdc" stroke="none" stroke-width="1" />
<rect x="221.70" y="295.20" width="9.02" height="10.90" fill="#ddd5e4" stroke="none" stroke-width="1" />
<rect x="229.82" y="295.20" width="9.02" height="10.90" fill="#f2dcdc" stroke="none" stroke-width="1" />
<rect x="237.94" y="295.20" width="9.02" height="10.90" fill="#f0cecc" stroke="none" stroke-width="1" />
<rect x="246.06" y="295.20" width="9.02" height="10.90" fill="#f2dcdc" stroke="none" stroke-width="1" />
<rect x="254.18" y="295.20" width="9.02" height="10.90" fill="#e9bab7" stroke="none" stroke-width="1" />
<rect x="262.30" y="295.20" width="9.02" height="10.90" fill="#f0cecc" stroke="none" stroke-width="1" />
<rect x="270.42" y="295.20" width="9.02" height="10.90" fill="#f2dcdc" stroke="none" stroke-width="1" />
<rect x="278.54" y="295.20" width="9.02" height="10.90" fill="#adbae0" stroke="none" stroke-width="1" />
<rect x="286.66" y="295.20" width="9.02" height="10.90" fill="#adbae0" stroke="none" stroke-width="1" />
<rect x="294.78" y="295.20" width="9.02" height="10.90" fill="#f0cecc" stroke="none" stroke-width="1" />
<rect x="302.90" y="295.20" width="9.02" height="10.90" fill="#f0cecc" stroke="none" stroke-width="1" />
<rect x="311.02" y="295.20" width="9.02" height="10.90" fill="#f0cecc" stroke="none" stroke-width="1" />
<rect x="319.14" y="295.20" width="9.02" height="10.90" fill="#f0cecc" stroke="none" stroke-width="1" />
<rect x="197.84" y="305.30" width="8.42" height="9.56" fill="#8db656" stroke="none" stroke-width="1" />
<rect x="214.08" y="305.30" width="8.42" height="9.56" fill="#8db656" stroke="none" stroke-width="1" />
<rect x="319.64" y="305.30" width="8.42" height="9.56" fill="#8db656" stroke="none" stroke-width="1" />
<rect x="132.88" y="314.46" width="8.42" height="10.26" fill="#8db656" stroke="none" stroke-width="1" />
<rect x="132.88" y="323.62" width="8.42" height="9.56" fill="#8db656" stroke="none" stroke-width="1" />
<rect x="189.72" y="323.62" width="8.42" height="10.26" fill="#8db656" stroke="none" stroke-width="1" />
<rect x="222.20" y="323.62" width="8.42" height="10.26" fill="#8db656" stroke="none" stroke-width="1" />
<rect x="270.92" y="323.62" width="8.42" height="10.26" fill="#8db656" stroke="none" stroke-width="1" />
<rect x="303.40" y="323.62" width="9.12" height="10.26" fill="#8db656" stroke="none" stroke-width="1" />
<rect x="311.52" y="323.62" width="8.42" height="10.26" fill="#8db656" stroke="none" stroke-width="1" />
<rect x="100.40" y="332.78" width="8.42" height="9.56" fill="#8db656" stroke="none" stroke-width="1" />
<rect x="124.76" y="332.78" width="8.42" height="10.26" fill="#8db656" stroke="none" stroke-width="1" />
<rect x="149.12" y="332.78" width="8.42" height="10.26" fill="#8db656" stroke="none" stroke-width="1" />
<rect x="173.48" y="332.78" width="8.42" height="10.26" fill="#8db656" stroke="none" stroke-width="1" />
<rect x="189.72" y="332.78" width="8.42" height="10.26" fill="#8db656" stroke="none" stroke-width="1" />
<rect x="222.20" y="332.78" width="8.42" height="10.26" fill="#8db656" stroke="none" stroke-width="1" />
<rect x="238.44" y="332.78" width="9.12" height="9.56" fill="#8db656" stroke="none" stroke-width="1" />
<rect x="246.56" y="332.78" width="9.12" height="9.56" fill="#8db656" stroke="none" stroke-width="1" />
<rect x="254.68" y="332.78" width="9.12" height="9.56" fill="#8db656" stroke="none" stroke-width="1" />
<rect x="262.80" y="332.78" width="9.12" height="10.26" fill="#8db656" stroke="none" stroke-width="1" />
<rect x="270.92" y="332.78" width="9.12" height="10.26" fill="#8db656" stroke="none" stroke-width="1" />
<rect x="279.04" y="332.78" width="8.42" height="10.26" fill="#8db656" stroke="none" stroke-width="1" />
<rect x="303.40" y="332.78" width="9.12" height="9.56" fill="#8db656" stroke="none" stroke-width="1" />
<rect x="311.52" y="332.78" width="8.42" height="10.26" fill="#8db656" stroke="none" stroke-width="1" />
<rect x="124.76" y="341.94" width="8.42" height="9.56" fill="#8db656" stroke="none" stroke-width="1" />
<rect x="149.12" y="341.94" width="8.42" height="9.56" fill="#8db656" stroke="none" stroke-width="1" />
<rect x="173.48" y="341.94" width="8.42" height="9.56" fill="#8db656" stroke="none" stroke-width="1" />
<rect x="189.72" y="341.94" width="8.42" height="9.56" fill="#8db656" stroke="none" stroke-width="1" />
<rect x="205.96" y="341.94" width="8.42" height="9.56" fill="#8db656" stroke="none" stroke-width="1" />
<rect x="222.20" y="341.94" width="9.12" height="9.56" fill="#8db656" stroke="none" stroke-width="1" />
<rect x="230.32" y="341.94" width="8.42" height="9.56" fill="#8db656" stroke="none" stroke-width="1" />
<rect x="262.80" y="341.94" width="9.12" height="9.56" fill="#8db656" stroke="none" stroke-width="1" />
<rect x="270.92" y="341.94" width="9.12" height="9.56" fill="#8db656" stroke="none" stroke-width="1" />
<rect x="279.04" y="341.94" width="9.12" height="9.56" fill="#8db656" stroke="none" stroke-width="1" />
<rect x="287.16" y="341.94" width="8.42" height="9.56" fill="#8db656" stroke="none" stroke-width="1" />
<rect x="311.52" y="341.94" width="8.42" height="9.56" fill="#8db656" stroke="none" stroke-width="1" />
<rect x="181.60" y="351.10" width="8.42" height="9.56" fill="#8db656" stroke="none" stroke-width="1" />
<rect x="197.84" y="351.10" width="8.42" height="9.56" fill="#8db656" stroke="none" stroke-width="1" />
<rect x="319.64" y="351.10" width="8.42" height="9.56" fill="#8db656" stroke="none" stroke-width="1" />
<rect x="157.24" y="360.26" width="9.12" height="10.26" fill="#8db656" stroke="none" stroke-width="1" />
<rect x="165.36" y="360.26" width="8.42" height="9.56" fill="#8db656" stroke="none" stroke-width="1" />
<rect x="157.24" y="369.42" width="8.42" height="9.56" fill="#8db656" stroke="none" stroke-width="1" />
<rect x="303.40" y="378.58" width="8.42" height="9.56" fill="#8db656" stroke="none" stroke-width="1" />
<rect x="205.96" y="387.74" width="8.42" height="9.56" fill="#8db656" stroke="none" stroke-width="1" />
<rect x="295.28" y="396.90" width="8.42" height="9.56" fill="#8db656" stroke="none" stroke-width="1" />
<rect x="173.48" y="406.06" width="8.42" height="9.56" fill="#8db656" stroke="none" stroke-width="1" />
<rect x="214.08" y="406.06" width="8.42" height="9.56" fill="#8db656" stroke="none" stroke-width="1" />
<rect x="270.92" y="406.06" width="8.42" height="9.56" fill="#8db656" stroke="none" stroke-width="1" />
<rect x="287.16" y="406.06" width="8.42" height="9.56" fill="#8db656" stroke="none" stroke-width="1" />
<rect x="311.52" y="406.06" width="8.42" height="9.56" fill="#8db656" stroke="none" stroke-width="1" />
<rect x="189.72" y="415.22" width="8.42" height="9.56" fill="#8db656" stroke="none" stroke-width="1" />
<rect x="238.44" y="415.22" width="8.42" height="9.56" fill="#8db656" stroke="none" stroke-width="1" />
<rect x="303.40" y="415.22" width="8.42" height="9.56" fill="#8db656" stroke="none" stroke-width="1" />
<rect x="99.90" y="424.50" width="9.02" height="9.90" fill="#f08a24" stroke="none" stroke-width="1" />
<rect x="108.02" y="424.50" width="9.02" height="9.90" fill="#bf2828" stroke="none" stroke-width="1" />
<rect x="116.14" y="424.50" width="9.02" height="9.90" fill="#bf2828" stroke="none" stroke-width="1" />
<rect x="124.26" y="424.50" width="9.02" height="9.90" fill="#bf2828" stroke="none" stroke-width="1" />
<rect x="132.38" y="424.50" width="9.02" height="9.90" fill="#bf2828" stroke="none" stroke-width="1" />
<rect x="140.50" y="424.50" width="9.02" height="9.90" fill="#bf2828" stroke="none" stroke-width="1" />
<rect x="148.62" y="424.50" width="9.02" height="9.90" fill="#bf2828" stroke="none" stroke-width="1" />
<rect x="156.74" y="424.50" width="9.02" height="9.90" fill="#bf2828" stroke="none" stroke-width="1" />
<rect x="164.86" y="424.50" width="9.02" height="9.90" fill="#f08a24" stroke="none" stroke-width="1" />
<rect x="172.98" y="424.50" width="9.02" height="9.90" fill="#bf2828" stroke="none" stroke-width="1" />
<rect x="181.10" y="424.50" width="9.02" height="9.90" fill="#f08a24" stroke="none" stroke-width="1" />
<rect x="189.22" y="424.50" width="9.02" height="9.90" fill="#bf2828" stroke="none" stroke-width="1" />
<rect x="197.34" y="424.50" width="9.02" height="9.90" fill="#bf2828" stroke="none" stroke-width="1" />
<rect x="205.46" y="424.50" width="9.02" height="9.90" fill="#bf2828" stroke="none" stroke-width="1" />
<rect x="213.58" y="424.50" width="9.02" height="9.90" fill="#bf2828" stroke="none" stroke-width="1" />
<rect x="221.70" y="424.50" width="9.02" height="9.90" fill="#bf2828" stroke="none" stroke-width="1" />
<rect x="229.82" y="424.50" width="9.02" height="9.90" fill="#bf2828" stroke="none" stroke-width="1" />
<rect x="237.94" y="424.50" width="9.02" height="9.90" fill="#bf2828" stroke="none" stroke-width="1" />
<rect x="246.06" y="424.50" width="9.02" height="9.90" fill="#bf2828" stroke="none" stroke-width="1" />
<rect x="254.18" y="424.50" width="9.02" height="9.90" fill="#bf2828" stroke="none" stroke-width="1" />
<rect x="262.30" y="424.50" width="9.02" height="9.90" fill="#f08a24" stroke="none" stroke-width="1" />
<rect x="270.42" y="424.50" width="9.02" height="9.90" fill="#f08a24" stroke="none" stroke-width="1" />
<rect x="278.54" y="424.50" width="9.02" height="9.90" fill="#bf2828" stroke="none" stroke-width="1" />
<rect x="286.66" y="424.50" width="9.02" height="9.90" fill="#bf2828" stroke="none" stroke-width="1" />
<rect x="294.78" y="424.50" width="9.02" height="9.90" fill="#bf2828" stroke="none" stroke-width="1" />
<rect x="302.90" y="424.50" width="9.02" height="9.90" fill="#bf2828" stroke="none" stroke-width="1" />
<rect x="311.02" y="424.50" width="9.02" height="9.90" fill="#bf2828" stroke="none" stroke-width="1" />
<rect x="319.14" y="424.50" width="9.02" height="9.90" fill="#bf2828" stroke="none" stroke-width="1" />
<rect x="99.90" y="433.50" width="9.02" height="9.90" fill="#d0521e" stroke="none" stroke-width="1" />
<rect x="108.02" y="433.50" width="9.02" height="9.90" fill="#c84a20" stroke="none" stroke-width="1" />
<rect x="116.14" y="433.50" width="9.02" height="9.90" fill="#c84a20" stroke="none" stroke-width="1" />
<rect x="124.26" y="433.50" width="9.02" height="9.90" fill="#d8601e" stroke="none" stroke-width="1" />
<rect x="132.38" y="433.50" width="9.02" height="9.90" fill="#f8c020" stroke="none" stroke-width="1" />
<rect x="140.50" y="433.50" width="9.02" height="9.90" fill="#f5a623" stroke="none" stroke-width="1" />
<rect x="148.62" y="433.50" width="9.02" height="9.90" fill="#f5b020" stroke="none" stroke-width="1" />
<rect x="156.74" y="433.50" width="9.02" height="9.90" fill="#f5a020" stroke="none" stroke-width="1" />
<rect x="164.86" y="433.50" width="9.02" height="9.90" fill="#c84a20" stroke="none" stroke-width="1" />
<rect x="172.98" y="433.50" width="9.02" height="9.90" fill="#e0662a" stroke="none" stroke-width="1" />
<rect x="181.10" y="433.50" width="9.02" height="9.90" fill="#f8e010" stroke="none" stroke-width="1" />
<rect x="189.22" y="433.50" width="9.02" height="9.90" fill="#f5a020" stroke="none" stroke-width="1" />
<rect x="197.34" y="433.50" width="9.02" height="9.90" fill="#f08a28" stroke="none" stroke-width="1" />
<rect x="205.46" y="433.50" width="9.02" height="9.90" fill="#f5c81e" stroke="none" stroke-width="1" />
<rect x="213.58" y="433.50" width="9.02" height="9.90" fill="#f5c020" stroke="none" stroke-width="1" />
<rect x="221.70" y="433.50" width="9.02" height="9.90" fill="#f5c020" stroke="none" stroke-width="1" />
<rect x="229.82" y="433.50" width="9.02" height="9.90" fill="#f5a020" stroke="none" stroke-width="1" />
<rect x="237.94" y="433.50" width="9.02" height="9.90" fill="#f08a28" stroke="none" stroke-width="1" />
<rect x="246.06" y="433.50" width="9.02" height="9.90" fill="#e87a28" stroke="none" stroke-width="1" />
<rect x="254.18" y="433.50" width="9.02" height="9.90" fill="#f5a020" stroke="none" stroke-width="1" />
<rect x="262.30" y="433.50" width="9.02" height="9.90" fill="#a02a22" stroke="none" stroke-width="1" />
<rect x="270.42" y="433.50" width="9.02" height="9.90" fill="#f08a28" stroke="none" stroke-width="1" />
<rect x="278.54" y="433.50" width="9.02" height="9.90" fill="#f08a28" stroke="none" stroke-width="1" />
<rect x="286.66" y="433.50" width="9.02" height="9.90" fill="#f5a020" stroke="none" stroke-width="1" />
<rect x="294.78" y="433.50" width="9.02" height="9.90" fill="#f8e010" stroke="none" stroke-width="1" />
<rect x="302.90" y="433.50" width="9.02" height="9.90" fill="#e87a28" stroke="none" stroke-width="1" />
<rect x="311.02" y="433.50" width="9.02" height="9.90" fill="#f5a020" stroke="none" stroke-width="1" />
<rect x="319.14" y="433.50" width="9.02" height="9.90" fill="#f5c020" stroke="none" stroke-width="1" />
<rect x="99.90" y="442.50" width="9.02" height="9.90" fill="#8a3c1c" stroke="none" stroke-width="1" />
<rect x="108.02" y="442.50" width="9.02" height="9.90" fill="#a6a6a6" stroke="none" stroke-width="1" />
<rect x="116.14" y="442.50" width="9.02" height="9.90" fill="#e0c4c8" stroke="none" stroke-width="1" />
<rect x="124.26" y="442.50" width="9.02" height="9.90" fill="#8a3c1c" stroke="none" stroke-width="1" />
<rect x="132.38" y="442.50" width="9.02" height="9.90" fill="#8a3c1c" stroke="none" stroke-width="1" />
<rect x="140.50" y="442.50" width="9.02" height="9.90" fill="#8a3c1c" stroke="none" stroke-width="1" />
<rect x="148.62" y="442.50" width="9.02" height="9.90" fill="#e0c4c8" stroke="none" stroke-width="1" />
<rect x="156.74" y="442.50" width="9.02" height="9.90" fill="#8a3c1c" stroke="none" stroke-width="1" />
<rect x="164.86" y="442.50" width="9.02" height="9.90" fill="#e0c4c8" stroke="none" stroke-width="1" />
<rect x="172.98" y="442.50" width="9.02" height="9.90" fill="#e0c4c8" stroke="none" stroke-width="1" />
<rect x="181.10" y="442.50" width="9.02" height="9.90" fill="#8a3c1c" stroke="none" stroke-width="1" />
<rect x="189.22" y="442.50" width="9.02" height="9.90" fill="#e0c4c8" stroke="none" stroke-width="1" />
<rect x="197.34" y="442.50" width="9.02" height="9.90" fill="#8a3c1c" stroke="none" stroke-width="1" />
<rect x="205.46" y="442.50" width="9.02" height="9.90" fill="#8a3c1c" stroke="none" stroke-width="1" />
<rect x="213.58" y="442.50" width="9.02" height="9.90" fill="#8a3c1c" stroke="none" stroke-width="1" />
<rect x="221.70" y="442.50" width="9.02" height="9.90" fill="#e0c4c8" stroke="none" stroke-width="1" />
<rect x="229.82" y="442.50" width="9.02" height="9.90" fill="#e0c4c8" stroke="none" stroke-width="1" />
<rect x="237.94" y="442.50" width="9.02" height="9.90" fill="#e0c4c8" stroke="none" stroke-width="1" />
<rect x="246.06" y="442.50" width="9.02" height="9.90" fill="#e0c4c8" stroke="none" stroke-width="1" />
<rect x="254.18" y="442.50" width="9.02" height="9.90" fill="#e0c4c8" stroke="none" stroke-width="1" />
<rect x="262.30" y="442.50" width="9.02" height="9.90" fill="#8a3c1c" stroke="none" stroke-width="1" />
<rect x="270.42" y="442.50" width="9.02" height="9.90" fill="#e0c4c8" stroke="none" stroke-width="1" />
<rect x="278.54" y="442.50" width="9.02" height="9.90" fill="#e0c4c8" stroke="none" stroke-width="1" />
<rect x="286.66" y="442.50" width="9.02" height="9.90" fill="#8a3c1c" stroke="none" stroke-width="1" />
<rect x="294.78" y="442.50" width="9.02" height="9.90" fill="#a6a6a6" stroke="none" stroke-width="1" />
<rect x="302.90" y="442.50" width="9.02" height="9.90" fill="#e0c4c8" stroke="none" stroke-width="1" />
<rect x="311.02" y="442.50" width="9.02" height="9.90" fill="#e0c4c8" stroke="none" stroke-width="1" />
<rect x="319.14" y="442.50" width="9.02" height="9.90" fill="#8a3c1c" stroke="none" stroke-width="1" />
<rect x="99.90" y="451.50" width="9.02" height="9.90" fill="#ef7a25" stroke="none" stroke-width="1" />
<rect x="108.02" y="451.50" width="9.02" height="9.90" fill="#f5a623" stroke="none" stroke-width="1" />
<rect x="116.14" y="451.50" width="9.02" height="9.90" fill="#f8d01a" stroke="none" stroke-width="1" />
<rect x="124.26" y="451.50" width="9.02" height="9.90" fill="#f8d816" stroke="none" stroke-width="1" />
<rect x="132.38" y="451.50" width="9.02" height="9.90" fill="#901a1a" stroke="none" stroke-width="1" />
<rect x="140.50" y="451.50" width="9.02" height="9.90" fill="#a6a6a6" stroke="none" stroke-width="1" />
<rect x="148.62" y="451.50" width="9.02" height="9.90" fill="#b0302a" stroke="none" stroke-width="1" />
<rect x="156.74" y="451.50" width="9.02" height="9.90" fill="#f5a020" stroke="none" stroke-width="1" />
<rect x="164.86" y="451.50" width="9.02" height="9.90" fill="#8a1818" stroke="none" stroke-width="1" />
<rect x="172.98" y="451.50" width="9.02" height="9.90" fill="#f8d016" stroke="none" stroke-width="1" />
<rect x="181.10" y="451.50" width="9.02" height="9.90" fill="#f8d816" stroke="none" stroke-width="1" />
<rect x="189.22" y="451.50" width="9.02" height="9.90" fill="#f5922a" stroke="none" stroke-width="1" />
<rect x="197.34" y="451.50" width="9.02" height="9.90" fill="#9a2020" stroke="none" stroke-width="1" />
<rect x="205.46" y="451.50" width="9.02" height="9.90" fill="#c0452a" stroke="none" stroke-width="1" />
<rect x="213.58" y="451.50" width="9.02" height="9.90" fill="#a6a6a6" stroke="none" stroke-width="1" />
<rect x="221.70" y="451.50" width="9.02" height="9.90" fill="#f5922a" stroke="none" stroke-width="1" />
<rect x="229.82" y="451.50" width="9.02" height="9.90" fill="#f08028" stroke="none" stroke-width="1" />
<rect x="237.94" y="451.50" width="9.02" height="9.90" fill="#f8c81a" stroke="none" stroke-width="1" />
<rect x="246.06" y="451.50" width="9.02" height="9.90" fill="#f8c81a" stroke="none" stroke-width="1" />
<rect x="254.18" y="451.50" width="9.02" height="9.90" fill="#f8c81a" stroke="none" stroke-width="1" />
<rect x="262.30" y="451.50" width="9.02" height="9.90" fill="#e8702a" stroke="none" stroke-width="1" />
<rect x="270.42" y="451.50" width="9.02" height="9.90" fill="#f8e010" stroke="none" stroke-width="1" />
<rect x="278.54" y="451.50" width="9.02" height="9.90" fill="#f5c020" stroke="none" stroke-width="1" />
<rect x="286.66" y="451.50" width="9.02" height="9.90" fill="#a6a6a6" stroke="none" stroke-width="1" />
<rect x="294.78" y="451.50" width="9.02" height="9.90" fill="#c0452a" stroke="none" stroke-width="1" />
<rect x="302.90" y="451.50" width="9.02" height="9.90" fill="#f8e010" stroke="none" stroke-width="1" />
<rect x="311.02" y="451.50" width="9.02" height="9.90" fill="#f8d016" stroke="none" stroke-width="1" />
<rect x="319.14" y="451.50" width="9.02" height="9.90" fill="#f5c020" stroke="none" stroke-width="1" />
<rect x="99.90" y="460.50" width="9.02" height="9.90" fill="#f5a020" stroke="none" stroke-width="1" />
<rect x="108.02" y="460.50" width="9.02" height="9.90" fill="#f6b21e" stroke="none" stroke-width="1" />
<rect x="116.14" y="460.50" width="9.02" height="9.90" fill="#e8702a" stroke="none" stroke-width="1" />
<rect x="124.26" y="460.50" width="9.02" height="9.90" fill="#f5a623" stroke="none" stroke-width="1" />
<rect x="132.38" y="460.50" width="9.02" height="9.90" fill="#e06a25" stroke="none" stroke-width="1" />
<rect x="140.50" y="460.50" width="9.02" height="9.90" fill="#f5a020" stroke="none" stroke-width="1" />
<rect x="148.62" y="460.50" width="9.02" height="9.90" fill="#f8e01a" stroke="none" stroke-width="1" />
<rect x="156.74" y="460.50" width="9.02" height="9.90" fill="#e8702a" stroke="none" stroke-width="1" />
<rect x="164.86" y="460.50" width="9.02" height="9.90" fill="#f8e010" stroke="none" stroke-width="1" />
<rect x="172.98" y="460.50" width="9.02" height="9.90" fill="#e06a25" stroke="none" stroke-width="1" />
<rect x="181.10" y="460.50" width="9.02" height="9.90" fill="#a82222" stroke="none" stroke-width="1" />
<rect x="189.22" y="460.50" width="9.02" height="9.90" fill="#a82222" stroke="none" stroke-width="1" />
<rect x="197.34" y="460.50" width="9.02" height="9.90" fill="#f5a020" stroke="none" stroke-width="1" />
<rect x="205.46" y="460.50" width="9.02" height="9.90" fill="#b03028" stroke="none" stroke-width="1" />
<rect x="213.58" y="460.50" width="9.02" height="9.90" fill="#e8702a" stroke="none" stroke-width="1" />
<rect x="221.70" y="460.50" width="9.02" height="9.90" fill="#e06a25" stroke="none" stroke-width="1" />
<rect x="229.82" y="460.50" width="9.02" height="9.90" fill="#f5a020" stroke="none" stroke-width="1" />
<rect x="237.94" y="460.50" width="9.02" height="9.90" fill="#f5a020" stroke="none" stroke-width="1" />
<rect x="246.06" y="460.50" width="9.02" height="9.90" fill="#f8e81a" stroke="none" stroke-width="1" />
<rect x="254.18" y="460.50" width="9.02" height="9.90" fill="#f8e81a" stroke="none" stroke-width="1" />
<rect x="262.30" y="460.50" width="9.02" height="9.90" fill="#f5a020" stroke="none" stroke-width="1" />
<rect x="270.42" y="460.50" width="9.02" height="9.90" fill="#8a1818" stroke="none" stroke-width="1" />
<rect x="278.54" y="460.50" width="9.02" height="9.90" fill="#f5a020" stroke="none" stroke-width="1" />
<rect x="286.66" y="460.50" width="9.02" height="9.90" fill="#f5922a" stroke="none" stroke-width="1" />
<rect x="294.78" y="460.50" width="9.02" height="9.90" fill="#f08028" stroke="none" stroke-width="1" />
<rect x="302.90" y="460.50" width="9.02" height="9.90" fill="#d05a28" stroke="none" stroke-width="1" />
<rect x="311.02" y="460.50" width="9.02" height="9.90" fill="#c0452a" stroke="none" stroke-width="1" />
<rect x="319.14" y="460.50" width="9.02" height="9.90" fill="#f08a28" stroke="none" stroke-width="1" />
<rect x="99.90" y="469.50" width="9.02" height="9.90" fill="#f8e01a" stroke="none" stroke-width="1" />
<rect x="108.02" y="469.50" width="9.02" height="9.90" fill="#b83a28" stroke="none" stroke-width="1" />
<rect x="116.14" y="469.50" width="9.02" height="9.90" fill="#f09028" stroke="none" stroke-width="1" />
<rect x="124.26" y="469.50" width="9.02" height="9.90" fill="#f8d816" stroke="none" stroke-width="1" />
<rect x="132.38" y="469.50" width="9.02" height="9.90" fill="#8a1818" stroke="none" stroke-width="1" />
<rect x="140.50" y="469.50" width="9.02" height="9.90" fill="#a82a22" stroke="none" stroke-width="1" />
<rect x="148.62" y="469.50" width="9.02" height="9.90" fill="#f8c81a" stroke="none" stroke-width="1" />
<rect x="156.74" y="469.50" width="9.02" height="9.90" fill="#9a1c20" stroke="none" stroke-width="1" />
<rect x="164.86" y="469.50" width="9.02" height="9.90" fill="#a82a22" stroke="none" stroke-width="1" />
<rect x="172.98" y="469.50" width="9.02" height="9.90" fill="#f5a020" stroke="none" stroke-width="1" />
<rect x="181.10" y="469.50" width="9.02" height="9.90" fill="#981a1a" stroke="none" stroke-width="1" />
<rect x="189.22" y="469.50" width="9.02" height="9.90" fill="#f5e81a" stroke="none" stroke-width="1" />
<rect x="197.34" y="469.50" width="9.02" height="9.90" fill="#9a1c1c" stroke="none" stroke-width="1" />
<rect x="205.46" y="469.50" width="9.02" height="9.90" fill="#9a1c1c" stroke="none" stroke-width="1" />
<rect x="213.58" y="469.50" width="9.02" height="9.90" fill="#e8702a" stroke="none" stroke-width="1" />
<rect x="221.70" y="469.50" width="9.02" height="9.90" fill="#f8e81a" stroke="none" stroke-width="1" />
<rect x="229.82" y="469.50" width="9.02" height="9.90" fill="#a82a22" stroke="none" stroke-width="1" />
<rect x="237.94" y="469.50" width="9.02" height="9.90" fill="#f8e81a" stroke="none" stroke-width="1" />
<rect x="246.06" y="469.50" width="9.02" height="9.90" fill="#f8e81a" stroke="none" stroke-width="1" />
<rect x="254.18" y="469.50" width="9.02" height="9.90" fill="#f08a28" stroke="none" stroke-width="1" />
<rect x="262.30" y="469.50" width="9.02" height="9.90" fill="#f8e010" stroke="none" stroke-width="1" />
<rect x="270.42" y="469.50" width="9.02" height="9.90" fill="#8a1818" stroke="none" stroke-width="1" />
<rect x="278.54" y="469.50" width="9.02" height="9.90" fill="#f8e81a" stroke="none" stroke-width="1" />
<rect x="286.66" y="469.50" width="9.02" height="9.90" fill="#b03028" stroke="none" stroke-width="1" />
<rect x="294.78" y="469.50" width="9.02" height="9.90" fill="#f8e81a" stroke="none" stroke-width="1" />
<rect x="302.90" y="469.50" width="9.02" height="9.90" fill="#f8e81a" stroke="none" stroke-width="1" />
<rect x="311.02" y="469.50" width="9.02" height="9.90" fill="#f5a020" stroke="none" stroke-width="1" />
<rect x="319.14" y="469.50" width="9.02" height="9.90" fill="#f8e81a" stroke="none" stroke-width="1" />
<line x1="101.00" y1="202.40" x2="101.00" y2="479.00" stroke="#222" stroke-width="1.5" />
<line x1="327.26" y1="202.40" x2="327.26" y2="479.00" stroke="#222" stroke-width="1.3" />
<line x1="214.20" y1="202.40" x2="214.20" y2="479.00" stroke="#222" stroke-width="1.4" />
<line x1="100.30" y1="202.40" x2="327.86" y2="202.40" stroke="#222" stroke-width="1.1" />
<line x1="100.30" y1="213.60" x2="327.86" y2="213.60" stroke="#222" stroke-width="1.1" />
<line x1="5.30" y1="240.40" x2="327.86" y2="240.40" stroke="#222" stroke-width="1.1" />
<line x1="5.30" y1="248.50" x2="327.86" y2="248.50" stroke="#222" stroke-width="1.4" />
<line x1="5.30" y1="276.10" x2="327.86" y2="276.10" stroke="#222" stroke-width="1.4" />
<line x1="5.30" y1="305.30" x2="327.86" y2="305.30" stroke="#222" stroke-width="1.4" />
<line x1="32.60" y1="424.40" x2="327.86" y2="424.40" stroke="#222" stroke-width="1.4" />
<line x1="32.60" y1="478.60" x2="327.86" y2="478.60" stroke="#222" stroke-width="1.4" />
<line x1="5.30" y1="239.80" x2="5.30" y2="306.00" stroke="#222" stroke-width="1.3" />
<line x1="32.60" y1="248.50" x2="32.60" y2="479.20" stroke="#222" stroke-width="1.3" />
<text x="6.60" y="246.60" font-size="6.9" fill="#111" stroke="#111" stroke-width="0.13" textLength="91.6" lengthAdjust="spacingAndGlyphs" >Response to rhIGFBP7-ATRA</text>
<text x="34.20" y="255.80" font-size="5.85" fill="#111" stroke="#111" stroke-width="0.07" >Combi vs. Ctrl</text>
<text x="34.20" y="284.00" font-size="5.85" fill="#111" stroke="#111" stroke-width="0.07" >Combi vs. Ctrl</text>
<text x="34.20" y="264.80" font-size="5.85" fill="#111" stroke="#111" stroke-width="0.07" >Combi vs. rhIGFBP7</text>
<text x="34.20" y="293.50" font-size="5.85" fill="#111" stroke="#111" stroke-width="0.07" >Combi vs. rhIGFBP7</text>
<text x="34.20" y="273.80" font-size="5.85" fill="#111" stroke="#111" stroke-width="0.07" >Combi vs. ATRA</text>
<text x="34.20" y="303.00" font-size="5.85" fill="#111" stroke="#111" stroke-width="0.07" >Combi vs. ATRA</text>
<text x="14.40" y="262.80" font-size="6.2" fill="#222" stroke="#222" stroke-width="0.07" text-anchor="middle" transform="rotate(-90 14.40 262.80)" >Fold</text>
<text x="21.50" y="262.40" font-size="6.2" fill="#222" stroke="#222" stroke-width="0.07" text-anchor="middle" transform="rotate(-90 21.50 262.40)" >increase</text>
<text x="29.00" y="262.20" font-size="6.6" fill="#222" stroke="#222" stroke-width="0.13" text-anchor="middle" textLength="25" lengthAdjust="spacingAndGlyphs" transform="rotate(-90 29.00 262.20)" >in CD11b</text>
<text x="11.10" y="291.30" font-size="6.2" fill="#222" stroke="#222" stroke-width="0.07" text-anchor="middle" transform="rotate(-90 11.10 291.30)" >Fold</text>
<text x="18.10" y="291.30" font-size="6.2" fill="#222" stroke="#222" stroke-width="0.07" text-anchor="middle" transform="rotate(-90 18.10 291.30)" >decrease</text>
<text x="25.4" y="291.8" font-size="6.6" fill="#222" text-anchor="middle" transform="rotate(-90 25.4 291.8)">in CD45<tspan dy="-2.2" font-size="4.0">dim</tspan></text>
<text x="31.60" y="290.90" font-size="6.2" fill="#222" stroke="#222" stroke-width="0.07" text-anchor="middle" transform="rotate(-90 31.60 290.90)" >cells</text>
<text x="34.00" y="312.30" font-size="6.0" fill="#111" stroke="#111" stroke-width="0.07" >EVI1+</text>
<text x="34.00" y="321.46" font-size="6.0" fill="#111" stroke="#111" stroke-width="0.07" >IDH1+</text>
<text x="34.00" y="330.62" font-size="6.0" fill="#111" stroke="#111" stroke-width="0.07" >DNMT3A</text>
<text x="34.00" y="339.78" font-size="6.0" fill="#111" stroke="#111" stroke-width="0.07" >NPM1+</text>
<text x="34.00" y="348.94" font-size="6.0" fill="#111" stroke="#111" stroke-width="0.07" >FLT3-ITD heterozygous</text>
<text x="34.00" y="358.10" font-size="6.0" fill="#111" stroke="#111" stroke-width="0.07" >ASXL1+</text>
<text x="34.00" y="367.26" font-size="6.0" fill="#111" stroke="#111" stroke-width="0.07" >inv16</text>
<text x="34.00" y="376.42" font-size="6.0" fill="#111" stroke="#111" stroke-width="0.07" >c-kit mutation</text>
<text x="34.00" y="385.58" font-size="6.0" fill="#111" stroke="#111" stroke-width="0.07" >JAK2</text>
<text x="34.00" y="394.74" font-size="6.0" fill="#111" stroke="#111" stroke-width="0.07" >RUNX1+</text>
<text x="34.00" y="403.90" font-size="6.0" fill="#111" stroke="#111" stroke-width="0.07" >MLL1</text>
<text x="34.00" y="413.06" font-size="6.0" fill="#111" stroke="#111" stroke-width="0.07" >wt1</text>
<text x="34.00" y="422.22" font-size="6.0" fill="#111" stroke="#111" stroke-width="0.07" >tet2+</text>
<text x="34.00" y="431.30" font-size="5.9" fill="#111" stroke="#111" stroke-width="0.07" >Specimen type</text>
<text x="34.00" y="440.30" font-size="5.9" fill="#111" stroke="#111" stroke-width="0.07" >Age</text>
<text x="34.00" y="449.30" font-size="5.9" fill="#111" stroke="#111" stroke-width="0.07" >Gender</text>
<text x="34.00" y="458.30" font-size="5.9" fill="#111" stroke="#111" stroke-width="0.07" >WBC (x10<tspan dy="-2.2" font-size="3.8">6</tspan><tspan dy="2.2"> cells/ml)</tspan></text>
<text x="34.00" y="467.30" font-size="5.9" fill="#111" stroke="#111" stroke-width="0.07" >Immature blasts (%)</text>
<text x="34.00" y="476.30" font-size="5.9" fill="#111" stroke="#111" stroke-width="0.07" >CD34 (%)</text>
<rect x="22.30" y="484.80" width="9.20" height="9.00" fill="#d6eef3" stroke="#3a3a3a" stroke-width="0.9" rx="1.2"/>
<text x="33.80" y="491.80" font-size="7.0" fill="#111" stroke="#111" stroke-width="0.13" >Differentiation</text>
<rect x="22.30" y="496.80" width="9.20" height="9.00" fill="#8cb0e0" stroke="#3a3a3a" stroke-width="0.9" rx="1.2"/>
<text x="33.80" y="503.80" font-size="7.0" fill="#111" stroke="#111" stroke-width="0.13" >Decrease in cell viability</text>
<rect x="22.30" y="508.60" width="9.20" height="9.00" fill="#3d6590" stroke="#3a3a3a" stroke-width="0.9" rx="1.2"/>
<text x="33.80" y="515.60" font-size="7.0" fill="#111" stroke="#111" stroke-width="0.13" >Differentiation and decrease in cell viability</text>
<rect x="22.30" y="520.50" width="9.20" height="9.00" fill="#c48e8e" stroke="#3a3a3a" stroke-width="0.9" rx="1.2"/>
<text x="33.80" y="527.50" font-size="7.0" fill="#111" stroke="#111" stroke-width="0.13" >No response</text>
<rect x="22.30" y="532.50" width="9.20" height="9.00" fill="#8db656" stroke="#3a3a3a" stroke-width="0.9" rx="1.2"/>
<text x="33.80" y="539.50" font-size="7.0" fill="#111" stroke="#111" stroke-width="0.13" >Positive</text>
<rect x="62.80" y="532.50" width="8.80" height="9.00" fill="#ffffff" stroke="#3a3a3a" stroke-width="0.9" rx="1.2"/>
<text x="73.60" y="539.50" font-size="7.0" fill="#111" stroke="#111" stroke-width="0.13" >Negative</text>
<rect x="107.20" y="532.50" width="8.80" height="9.00" fill="#a6a6a6" stroke="#3a3a3a" stroke-width="0.9" rx="1.2"/>
<text x="117.80" y="539.50" font-size="7.0" fill="#111" stroke="#111" stroke-width="0.13" >N/A</text>
<rect x="22.30" y="544.30" width="9.20" height="9.00" fill="#f08a24" stroke="#3a3a3a" stroke-width="0.9" rx="1.2"/>
<text x="33.80" y="551.30" font-size="7.0" fill="#111" stroke="#111" stroke-width="0.13" >PB</text>
<rect x="62.80" y="544.30" width="8.80" height="9.00" fill="#bf2828" stroke="#3a3a3a" stroke-width="0.9" rx="1.2"/>
<text x="73.60" y="551.30" font-size="7.0" fill="#111" stroke="#111" stroke-width="0.13" >BM</text>
<rect x="107.20" y="544.30" width="8.80" height="9.00" fill="#8a3c1c" stroke="#3a3a3a" stroke-width="0.9" rx="1.2"/>
<text x="117.80" y="551.30" font-size="7.0" fill="#111" stroke="#111" stroke-width="0.13" >Male</text>
<rect x="137.90" y="544.30" width="8.80" height="9.00" fill="#e0c4c8" stroke="#3a3a3a" stroke-width="0.9" rx="1.2"/>
<text x="148.20" y="551.30" font-size="7.0" fill="#111" stroke="#111" stroke-width="0.13" >Female</text>
<defs><linearGradient id="gBlue" x1="0" x2="1" y1="0" y2="0"><stop offset="0" stop-color="#f2cccc"/><stop offset="0.45" stop-color="#e2dde3"/><stop offset="0.75" stop-color="#c4cce4"/><stop offset="1" stop-color="#6e9ee0"/></linearGradient><linearGradient id="gHot" x1="0" x2="1" y1="0" y2="0"><stop offset="0" stop-color="#f8f000"/><stop offset="0.35" stop-color="#f8b414"/><stop offset="0.7" stop-color="#ee6e20"/><stop offset="1" stop-color="#981010"/></linearGradient></defs>
<text x="185.50" y="491.70" font-size="7.06" fill="#111" stroke="#111" stroke-width="0.13" >CD11b expression (fold increase)</text>
<rect x="295.60" y="484.80" width="31.80" height="8.80" fill="url(#gBlue)" stroke="#333" stroke-width="0.9" rx="1.3"/>
<text x="297.00" y="491.60" font-size="7.0" fill="#222" stroke="#222" stroke-width="0.13" >0</text>
<text x="326.30" y="491.60" font-size="7.0" fill="#222" stroke="#222" stroke-width="0.13" text-anchor="end" >12.5</text>
<text x="185.50" y="503.70" font-size="7.06" fill="#111" stroke="#111" stroke-width="0.13" >CD45<tspan dy="-2.6" font-size="4.6">dim</tspan><tspan dy="2.6"> cells (fold decrease)</tspan></text>
<rect x="295.60" y="496.90" width="31.80" height="8.80" fill="url(#gBlue)" stroke="#333" stroke-width="0.9" rx="1.3"/>
<text x="297.00" y="503.70" font-size="7.0" fill="#222" stroke="#222" stroke-width="0.13" >0</text>
<text x="326.30" y="503.70" font-size="7.0" fill="#222" stroke="#222" stroke-width="0.13" text-anchor="end" >15.0</text>
<text x="185.50" y="515.50" font-size="7.06" fill="#111" stroke="#111" stroke-width="0.13" >Age (yr)</text>
<rect x="295.60" y="508.70" width="31.80" height="8.80" fill="url(#gHot)" stroke="#333" stroke-width="0.9" rx="1.3"/>
<text x="297.00" y="515.50" font-size="7.0" fill="#222" stroke="#222" stroke-width="0.13" >0</text>
<text x="326.30" y="515.50" font-size="7.0" fill="#222" stroke="#222" stroke-width="0.13" text-anchor="end" >100</text>
<text x="185.50" y="527.50" font-size="7.06" fill="#111" stroke="#111" stroke-width="0.13" >WBC (x10<tspan dy="-2.6" font-size="4.6">6</tspan><tspan dy="2.6"> cells/ml)</tspan></text>
<rect x="295.60" y="520.70" width="31.80" height="8.80" fill="url(#gHot)" stroke="#333" stroke-width="0.9" rx="1.3"/>
<text x="297.00" y="527.50" font-size="7.0" fill="#222" stroke="#222" stroke-width="0.13" >0</text>
<text x="326.30" y="527.50" font-size="7.0" fill="#222" stroke="#222" stroke-width="0.13" text-anchor="end" >300</text>
<text x="185.50" y="539.30" font-size="7.06" fill="#111" stroke="#111" stroke-width="0.13" >Immature blasts (%)</text>
<rect x="295.60" y="532.50" width="31.80" height="8.80" fill="url(#gHot)" stroke="#333" stroke-width="0.9" rx="1.3"/>
<text x="297.00" y="539.30" font-size="7.0" fill="#222" stroke="#222" stroke-width="0.13" >0</text>
<text x="326.30" y="539.30" font-size="7.0" fill="#222" stroke="#222" stroke-width="0.13" text-anchor="end" >100</text>
<text x="185.50" y="551.10" font-size="7.06" fill="#111" stroke="#111" stroke-width="0.13" >CD34 (%)</text>
<rect x="295.60" y="544.40" width="31.80" height="8.80" fill="url(#gHot)" stroke="#333" stroke-width="0.9" rx="1.3"/>
<text x="297.00" y="551.20" font-size="7.0" fill="#222" stroke="#222" stroke-width="0.13" >0</text>
<text x="326.30" y="551.20" font-size="7.0" fill="#222" stroke="#222" stroke-width="0.13" text-anchor="end" >100</text>
<text x="345.80" y="213.60" font-size="12.8" fill="#000" stroke="#000" stroke-width="0.45" font-weight="bold" >D</text>
<rect x="392.10" y="292.96" width="17.80" height="15.64" fill="#5a2a72" stroke="none" stroke-width="1" />
<rect x="419.50" y="283.78" width="18.40" height="24.82" fill="#6aaa44" stroke="none" stroke-width="1" />
<rect x="447.40" y="278.29" width="18.20" height="30.31" fill="#a8082e" stroke="none" stroke-width="1" />
<rect x="474.90" y="267.98" width="18.30" height="40.62" fill="#2c4e88" stroke="none" stroke-width="1" />
<line x1="428.70" y1="283.78" x2="428.70" y2="279.58" stroke="#000" stroke-width="1.0" />
<line x1="425.70" y1="279.58" x2="431.70" y2="279.58" stroke="#000" stroke-width="1.0" />
<line x1="456.50" y1="278.29" x2="456.50" y2="271.85" stroke="#000" stroke-width="1.0" />
<line x1="453.50" y1="271.85" x2="459.50" y2="271.85" stroke="#000" stroke-width="1.0" />
<line x1="484.05" y1="267.98" x2="484.05" y2="260.72" stroke="#000" stroke-width="1.0" />
<line x1="481.05" y1="260.72" x2="487.05" y2="260.72" stroke="#000" stroke-width="1.0" />
<circle cx="395.20" cy="292.96" r="1.45" fill="#000" />
<circle cx="396.55" cy="292.96" r="1.45" fill="#000" />
<circle cx="397.90" cy="292.96" r="1.45" fill="#000" />
<circle cx="399.25" cy="292.96" r="1.45" fill="#000" />
<circle cx="400.60" cy="292.96" r="1.45" fill="#000" />
<circle cx="401.95" cy="292.96" r="1.45" fill="#000" />
<circle cx="403.30" cy="292.96" r="1.45" fill="#000" />
<circle cx="404.65" cy="292.96" r="1.45" fill="#000" />
<circle cx="406.00" cy="292.96" r="1.45" fill="#000" />
<circle cx="407.35" cy="292.96" r="1.45" fill="#000" />
<rect x="427.00" y="261.70" width="3.40" height="3.40" fill="#000" stroke="none" stroke-width="1" />
<rect x="429.40" y="270.90" width="3.40" height="3.40" fill="#000" stroke="none" stroke-width="1" />
<rect x="424.70" y="273.50" width="3.40" height="3.40" fill="#000" stroke="none" stroke-width="1" />
<rect x="422.50" y="285.30" width="3.40" height="3.40" fill="#000" stroke="none" stroke-width="1" />
<rect x="431.10" y="284.70" width="3.40" height="3.40" fill="#000" stroke="none" stroke-width="1" />
<rect x="427.00" y="288.20" width="3.40" height="3.40" fill="#000" stroke="none" stroke-width="1" />
<rect x="424.70" y="293.90" width="3.40" height="3.40" fill="#000" stroke="none" stroke-width="1" />
<rect x="429.40" y="293.00" width="3.40" height="3.40" fill="#000" stroke="none" stroke-width="1" />
<path d="M456.40,240.97 L458.40,244.57 L454.40,244.57 Z" fill="#000" stroke="none" stroke-width="1" />
<path d="M456.40,260.87 L458.40,264.47 L454.40,264.47 Z" fill="#000" stroke="none" stroke-width="1" />
<path d="M452.40,282.97 L454.40,286.57 L450.40,286.57 Z" fill="#000" stroke="none" stroke-width="1" />
<path d="M454.70,278.97 L456.70,282.57 L452.70,282.57 Z" fill="#000" stroke="none" stroke-width="1" />
<path d="M458.80,278.97 L460.80,282.57 L456.80,282.57 Z" fill="#000" stroke="none" stroke-width="1" />
<path d="M461.10,282.47 L463.10,286.07 L459.10,286.07 Z" fill="#000" stroke="none" stroke-width="1" />
<path d="M456.40,287.17 L458.40,290.77 L454.40,290.77 Z" fill="#000" stroke="none" stroke-width="1" />
<path d="M456.40,295.47 L458.40,299.07 L454.40,299.07 Z" fill="#000" stroke="none" stroke-width="1" />
<path d="M484.40,233.33 L486.40,229.73 L482.40,229.73 Z" fill="#000" stroke="none" stroke-width="1" />
<path d="M484.40,246.63 L486.40,243.03 L482.40,243.03 Z" fill="#000" stroke="none" stroke-width="1" />
<path d="M484.40,258.43 L486.40,254.83 L482.40,254.83 Z" fill="#000" stroke="none" stroke-width="1" />
<path d="M482.30,277.73 L484.30,274.13 L480.30,274.13 Z" fill="#000" stroke="none" stroke-width="1" />
<path d="M486.70,278.83 L488.70,275.23 L484.70,275.23 Z" fill="#000" stroke="none" stroke-width="1" />
<path d="M480.10,284.33 L482.10,280.73 L478.10,280.73 Z" fill="#000" stroke="none" stroke-width="1" />
<path d="M488.70,286.93 L490.70,283.33 L486.70,283.33 Z" fill="#000" stroke="none" stroke-width="1" />
<path d="M484.40,289.53 L486.40,285.93 L482.40,285.93 Z" fill="#000" stroke="none" stroke-width="1" />
<line x1="386.90" y1="220.40" x2="386.90" y2="309.20" stroke="#111" stroke-width="1.2" />
<line x1="386.30" y1="308.60" x2="497.60" y2="308.60" stroke="#111" stroke-width="1.2" />
<line x1="383.20" y1="308.60" x2="386.90" y2="308.60" stroke="#111" stroke-width="0.9" />
<text x="380.70" y="311.20" font-size="7.4" fill="#111" stroke="#111" stroke-width="0.13" text-anchor="end" >0</text>
<line x1="383.20" y1="292.48" x2="386.90" y2="292.48" stroke="#111" stroke-width="0.9" />
<text x="380.70" y="295.08" font-size="7.4" fill="#111" stroke="#111" stroke-width="0.13" text-anchor="end" >1</text>
<line x1="383.20" y1="276.36" x2="386.90" y2="276.36" stroke="#111" stroke-width="0.9" />
<text x="380.70" y="278.96" font-size="7.4" fill="#111" stroke="#111" stroke-width="0.13" text-anchor="end" >2</text>
<line x1="383.20" y1="260.24" x2="386.90" y2="260.24" stroke="#111" stroke-width="0.9" />
<text x="380.70" y="262.84" font-size="7.4" fill="#111" stroke="#111" stroke-width="0.13" text-anchor="end" >3</text>
<line x1="383.20" y1="244.12" x2="386.90" y2="244.12" stroke="#111" stroke-width="0.9" />
<text x="380.70" y="246.72" font-size="7.4" fill="#111" stroke="#111" stroke-width="0.13" text-anchor="end" >4</text>
<line x1="383.20" y1="228.00" x2="386.90" y2="228.00" stroke="#111" stroke-width="0.9" />
<text x="380.70" y="230.60" font-size="7.4" fill="#111" stroke="#111" stroke-width="0.13" text-anchor="end" >5</text>
<line x1="401.00" y1="308.60" x2="401.00" y2="311.00" stroke="#111" stroke-width="0.8" />
<text x="401.00" y="322.20" font-size="7.15" fill="#111" stroke="#111" stroke-width="0.13" text-anchor="middle" >Ctrl</text>
<line x1="428.70" y1="308.60" x2="428.70" y2="311.00" stroke="#111" stroke-width="0.8" />
<text x="428.70" y="322.20" font-size="7.15" fill="#111" stroke="#111" stroke-width="0.13" text-anchor="middle" >rhIGFBP7</text>
<line x1="456.50" y1="308.60" x2="456.50" y2="311.00" stroke="#111" stroke-width="0.8" />
<text x="456.50" y="322.20" font-size="7.15" fill="#111" stroke="#111" stroke-width="0.13" text-anchor="middle" >ATRA</text>
<line x1="484.05" y1="308.60" x2="484.05" y2="311.00" stroke="#111" stroke-width="0.8" />
<text x="484.05" y="322.20" font-size="7.15" fill="#111" stroke="#111" stroke-width="0.13" text-anchor="middle" >Combi</text>
<path d="M400.90,224.70 L400.90,222.50 L484.40,222.50 L484.40,224.70" fill="none" stroke="#111" stroke-width="0.9" />
<text x="442.50" y="219.60" font-size="6.2" fill="#222" stroke="#222" stroke-width="0.15" text-anchor="middle"><tspan font-size="5.58" dy="-1.0">*</tspan><tspan dy="1.0"> </tspan><tspan font-style="italic">p</tspan> = 0.0105</text>
<text x="357.4" y="264.0" font-size="8.8" font-weight="bold" fill="#222" text-anchor="middle" textLength="81.8" lengthAdjust="spacingAndGlyphs" transform="rotate(-90 357.4 264.0)">CD33<tspan dy="-3" font-size="5">+</tspan><tspan dy="3"> CD11b</tspan><tspan dy="-3" font-size="5">+</tspan><tspan dy="3"> cells (fold of</tspan></text>
<text x="370.1" y="264.0" font-size="8.8" font-weight="bold" fill="#222" text-anchor="middle" textLength="52.2" lengthAdjust="spacingAndGlyphs" transform="rotate(-90 370.1 264.0)">untreated control)</text>
<text x="345.80" y="345.70" font-size="12.8" fill="#000" stroke="#000" stroke-width="0.45" font-weight="bold" >E</text>
<rect x="392.10" y="393.64" width="17.80" height="58.96" fill="#5a2a72" stroke="none" stroke-width="1" />
<rect x="419.50" y="411.92" width="18.40" height="40.68" fill="#6aaa44" stroke="none" stroke-width="1" />
<rect x="447.40" y="417.22" width="18.20" height="35.38" fill="#a8082e" stroke="none" stroke-width="1" />
<rect x="474.90" y="434.91" width="18.30" height="17.69" fill="#2c4e88" stroke="none" stroke-width="1" />
<line x1="428.70" y1="411.92" x2="428.70" y2="406.32" stroke="#000" stroke-width="1.0" />
<line x1="425.70" y1="406.32" x2="431.70" y2="406.32" stroke="#000" stroke-width="1.0" />
<line x1="456.50" y1="417.22" x2="456.50" y2="410.15" stroke="#000" stroke-width="1.0" />
<line x1="453.50" y1="410.15" x2="459.50" y2="410.15" stroke="#000" stroke-width="1.0" />
<line x1="484.05" y1="434.91" x2="484.05" y2="430.49" stroke="#000" stroke-width="1.0" />
<line x1="481.05" y1="430.49" x2="487.05" y2="430.49" stroke="#000" stroke-width="1.0" />
<circle cx="395.20" cy="393.64" r="1.45" fill="#000" />
<circle cx="396.55" cy="393.64" r="1.45" fill="#000" />
<circle cx="397.90" cy="393.64" r="1.45" fill="#000" />
<circle cx="399.25" cy="393.64" r="1.45" fill="#000" />
<circle cx="400.60" cy="393.64" r="1.45" fill="#000" />
<circle cx="401.95" cy="393.64" r="1.45" fill="#000" />
<circle cx="403.30" cy="393.64" r="1.45" fill="#000" />
<circle cx="404.65" cy="393.64" r="1.45" fill="#000" />
<circle cx="406.00" cy="393.64" r="1.45" fill="#000" />
<circle cx="407.35" cy="393.64" r="1.45" fill="#000" />
<rect x="422.00" y="391.10" width="3.40" height="3.40" fill="#000" stroke="none" stroke-width="1" />
<rect x="426.40" y="393.80" width="3.40" height="3.40" fill="#000" stroke="none" stroke-width="1" />
<rect x="430.90" y="392.70" width="3.40" height="3.40" fill="#000" stroke="none" stroke-width="1" />
<rect x="426.40" y="401.50" width="3.40" height="3.40" fill="#000" stroke="none" stroke-width="1" />
<rect x="419.80" y="414.80" width="3.40" height="3.40" fill="#000" stroke="none" stroke-width="1" />
<rect x="425.30" y="414.80" width="3.40" height="3.40" fill="#000" stroke="none" stroke-width="1" />
<rect x="429.80" y="413.70" width="3.40" height="3.40" fill="#000" stroke="none" stroke-width="1" />
<rect x="433.70" y="416.30" width="3.40" height="3.40" fill="#000" stroke="none" stroke-width="1" />
<rect x="428.70" y="419.30" width="3.40" height="3.40" fill="#000" stroke="none" stroke-width="1" />
<rect x="426.40" y="438.00" width="3.40" height="3.40" fill="#000" stroke="none" stroke-width="1" />
<path d="M453.60,379.97 L455.60,383.57 L451.60,383.57 Z" fill="#000" stroke="none" stroke-width="1" />
<path d="M458.50,382.67 L460.50,386.27 L456.50,386.27 Z" fill="#000" stroke="none" stroke-width="1" />
<path d="M456.20,395.87 L458.20,399.47 L454.20,399.47 Z" fill="#000" stroke="none" stroke-width="1" />
<path d="M451.40,420.87 L453.40,424.47 L449.40,424.47 Z" fill="#000" stroke="none" stroke-width="1" />
<path d="M455.80,420.87 L457.80,424.47 L453.80,424.47 Z" fill="#000" stroke="none" stroke-width="1" />
<path d="M460.20,421.97 L462.20,425.57 L458.20,425.57 Z" fill="#000" stroke="none" stroke-width="1" />
<path d="M456.20,425.37 L458.20,428.97 L454.20,428.97 Z" fill="#000" stroke="none" stroke-width="1" />
<path d="M456.20,436.37 L458.20,439.97 L454.20,439.97 Z" fill="#000" stroke="none" stroke-width="1" />
<path d="M456.20,443.07 L458.20,446.67 L454.20,446.67 Z" fill="#000" stroke="none" stroke-width="1" />
<path d="M483.90,403.93 L485.90,400.33 L481.90,400.33 Z" fill="#000" stroke="none" stroke-width="1" />
<path d="M483.90,425.33 L485.90,421.73 L481.90,421.73 Z" fill="#000" stroke="none" stroke-width="1" />
<path d="M483.90,435.73 L485.90,432.13 L481.90,432.13 Z" fill="#000" stroke="none" stroke-width="1" />
<path d="M479.00,439.33 L481.00,435.73 L477.00,435.73 Z" fill="#000" stroke="none" stroke-width="1" />
<path d="M489.00,439.33 L491.00,435.73 L487.00,435.73 Z" fill="#000" stroke="none" stroke-width="1" />
<path d="M480.10,445.33 L482.10,441.73 L478.10,441.73 Z" fill="#000" stroke="none" stroke-width="1" />
<path d="M483.90,445.33 L485.90,441.73 L481.90,441.73 Z" fill="#000" stroke="none" stroke-width="1" />
<path d="M487.90,445.33 L489.90,441.73 L485.90,441.73 Z" fill="#000" stroke="none" stroke-width="1" />
<path d="M482.30,448.63 L484.30,445.03 L480.30,445.03 Z" fill="#000" stroke="none" stroke-width="1" />
<line x1="386.90" y1="364.70" x2="386.90" y2="453.20" stroke="#111" stroke-width="1.2" />
<line x1="386.30" y1="452.60" x2="497.60" y2="452.60" stroke="#111" stroke-width="1.2" />
<line x1="383.20" y1="452.60" x2="386.90" y2="452.60" stroke="#111" stroke-width="0.9" />
<text x="380.70" y="455.20" font-size="7.4" fill="#111" stroke="#111" stroke-width="0.13" text-anchor="end" >0</text>
<line x1="383.20" y1="437.86" x2="386.90" y2="437.86" stroke="#111" stroke-width="0.9" />
<text x="380.70" y="440.46" font-size="7.4" fill="#111" stroke="#111" stroke-width="0.13" text-anchor="end" >25</text>
<line x1="383.20" y1="423.12" x2="386.90" y2="423.12" stroke="#111" stroke-width="0.9" />
<text x="380.70" y="425.72" font-size="7.4" fill="#111" stroke="#111" stroke-width="0.13" text-anchor="end" >50</text>
<line x1="383.20" y1="408.38" x2="386.90" y2="408.38" stroke="#111" stroke-width="0.9" />
<text x="380.70" y="410.98" font-size="7.4" fill="#111" stroke="#111" stroke-width="0.13" text-anchor="end" >75</text>
<line x1="383.20" y1="393.64" x2="386.90" y2="393.64" stroke="#111" stroke-width="0.9" />
<text x="380.70" y="396.24" font-size="7.4" fill="#111" stroke="#111" stroke-width="0.13" text-anchor="end" >100</text>
<line x1="383.20" y1="378.90" x2="386.90" y2="378.90" stroke="#111" stroke-width="0.9" />
<text x="380.70" y="381.50" font-size="7.4" fill="#111" stroke="#111" stroke-width="0.13" text-anchor="end" >125</text>
<line x1="401.00" y1="452.60" x2="401.00" y2="455.00" stroke="#111" stroke-width="0.8" />
<text x="401.00" y="467.50" font-size="7.15" fill="#111" stroke="#111" stroke-width="0.13" text-anchor="middle" >Ctrl</text>
<line x1="428.70" y1="452.60" x2="428.70" y2="455.00" stroke="#111" stroke-width="0.8" />
<text x="428.70" y="467.50" font-size="7.15" fill="#111" stroke="#111" stroke-width="0.13" text-anchor="middle" >rhIGFBP7</text>
<line x1="456.50" y1="452.60" x2="456.50" y2="455.00" stroke="#111" stroke-width="0.8" />
<text x="456.50" y="467.50" font-size="7.15" fill="#111" stroke="#111" stroke-width="0.13" text-anchor="middle" >ATRA</text>
<line x1="484.05" y1="452.60" x2="484.05" y2="455.00" stroke="#111" stroke-width="0.8" />
<text x="484.05" y="467.50" font-size="7.15" fill="#111" stroke="#111" stroke-width="0.13" text-anchor="middle" >Combi</text>
<path d="M400.90,354.70 L400.90,352.50 L484.40,352.50 L484.40,354.70" fill="none" stroke="#111" stroke-width="0.9" />
<path d="M400.90,358.70 L400.90,356.50 L456.50,356.50 L456.50,358.70" fill="none" stroke="#111" stroke-width="0.9" />
<path d="M400.90,361.70 L400.90,359.50 L428.70,359.50 L428.70,361.70" fill="none" stroke="#111" stroke-width="0.9" />
<path d="M428.70,370.70 L428.70,368.50 L484.40,368.50 L484.40,370.70" fill="none" stroke="#111" stroke-width="0.9" />
<path d="M456.50,378.70 L456.50,376.50 L484.40,376.50 L484.40,378.70" fill="none" stroke="#111" stroke-width="0.9" />
<text x="466.60" y="358.30" font-size="6.2" fill="#222" stroke="#222" stroke-width="0.15" text-anchor="start"><tspan font-size="5.58" dy="-1.0">****</tspan><tspan dy="1.0"> </tspan><tspan font-style="italic">p</tspan> &lt; 0.0001</text>
<text x="435.70" y="362.40" font-size="6.2" fill="#222" stroke="#222" stroke-width="0.15" text-anchor="start"><tspan font-size="5.58" dy="-1.0">**</tspan><tspan dy="1.0"> </tspan><tspan font-style="italic">p</tspan> = 0.0061</text>
<text x="398.40" y="365.50" font-size="6.2" fill="#222" stroke="#222" stroke-width="0.15" text-anchor="start"><tspan font-size="5.58" dy="-1.0">*</tspan><tspan dy="1.0"> </tspan><tspan font-style="italic">p</tspan> = 0.0445</text>
<text x="439.30" y="374.40" font-size="6.2" fill="#222" stroke="#222" stroke-width="0.15" text-anchor="start"><tspan font-size="5.58" dy="-1.0">**</tspan><tspan dy="1.0"> </tspan><tspan font-style="italic">p</tspan> = 0.0061</text>
<text x="469.30" y="382.40" font-size="6.2" fill="#222" stroke="#222" stroke-width="0.15" text-anchor="start"><tspan font-size="5.58" dy="-1.0">*</tspan><tspan dy="1.0"> </tspan><tspan font-style="italic">p</tspan> = 0.0046</text>
<text x="361.4" y="408.9" font-size="8.8" font-weight="bold" fill="#222" text-anchor="middle" textLength="53.6" lengthAdjust="spacingAndGlyphs" transform="rotate(-90 361.4 408.9)">CD45<tspan dy="-3" font-size="5">dim</tspan><tspan dy="3"> cells (%)</tspan></text>
<text x="345.80" y="489.50" font-size="12.8" fill="#000" stroke="#000" stroke-width="0.45" font-weight="bold" >F</text>
<rect x="392.10" y="532.54" width="17.80" height="63.76" fill="#5a2a72" stroke="none" stroke-width="1" />
<rect x="419.50" y="553.58" width="18.40" height="42.72" fill="#6aaa44" stroke="none" stroke-width="1" />
<rect x="447.40" y="561.87" width="18.20" height="34.43" fill="#a8082e" stroke="none" stroke-width="1" />
<rect x="474.90" y="580.36" width="18.30" height="15.94" fill="#2c4e88" stroke="none" stroke-width="1" />
<line x1="428.70" y1="553.58" x2="428.70" y2="548.16" stroke="#000" stroke-width="1.0" />
<line x1="425.70" y1="548.16" x2="431.70" y2="548.16" stroke="#000" stroke-width="1.0" />
<line x1="456.50" y1="561.87" x2="456.50" y2="555.81" stroke="#000" stroke-width="1.0" />
<line x1="453.50" y1="555.81" x2="459.50" y2="555.81" stroke="#000" stroke-width="1.0" />
<line x1="484.05" y1="580.36" x2="484.05" y2="577.17" stroke="#000" stroke-width="1.0" />
<line x1="481.05" y1="577.17" x2="487.05" y2="577.17" stroke="#000" stroke-width="1.0" />
<circle cx="395.20" cy="532.54" r="1.45" fill="#000" />
<circle cx="396.55" cy="532.54" r="1.45" fill="#000" />
<circle cx="397.90" cy="532.54" r="1.45" fill="#000" />
<circle cx="399.25" cy="532.54" r="1.45" fill="#000" />
<circle cx="400.60" cy="532.54" r="1.45" fill="#000" />
<circle cx="401.95" cy="532.54" r="1.45" fill="#000" />
<circle cx="403.30" cy="532.54" r="1.45" fill="#000" />
<circle cx="404.65" cy="532.54" r="1.45" fill="#000" />
<circle cx="406.00" cy="532.54" r="1.45" fill="#000" />
<circle cx="407.35" cy="532.54" r="1.45" fill="#000" />
<rect x="425.30" y="530.50" width="3.40" height="3.40" fill="#000" stroke="none" stroke-width="1" />
<rect x="430.20" y="529.80" width="3.40" height="3.40" fill="#000" stroke="none" stroke-width="1" />
<rect x="426.40" y="541.50" width="3.40" height="3.40" fill="#000" stroke="none" stroke-width="1" />
<rect x="426.40" y="543.90" width="3.40" height="3.40" fill="#000" stroke="none" stroke-width="1" />
<rect x="426.40" y="548.20" width="3.40" height="3.40" fill="#000" stroke="none" stroke-width="1" />
<rect x="418.70" y="556.30" width="3.40" height="3.40" fill="#000" stroke="none" stroke-width="1" />
<rect x="422.00" y="557.70" width="3.40" height="3.40" fill="#000" stroke="none" stroke-width="1" />
<rect x="425.30" y="558.10" width="3.40" height="3.40" fill="#000" stroke="none" stroke-width="1" />
<rect x="428.70" y="557.70" width="3.40" height="3.40" fill="#000" stroke="none" stroke-width="1" />
<rect x="432.00" y="557.00" width="3.40" height="3.40" fill="#000" stroke="none" stroke-width="1" />
<rect x="434.60" y="556.30" width="3.40" height="3.40" fill="#000" stroke="none" stroke-width="1" />
<rect x="426.40" y="575.40" width="3.40" height="3.40" fill="#000" stroke="none" stroke-width="1" />
<path d="M455.80,520.47 L457.80,524.07 L453.80,524.07 Z" fill="#000" stroke="none" stroke-width="1" />
<path d="M455.80,538.17 L457.80,541.77 L453.80,541.77 Z" fill="#000" stroke="none" stroke-width="1" />
<path d="M449.20,559.77 L451.20,563.37 L447.20,563.37 Z" fill="#000" stroke="none" stroke-width="1" />
<path d="M450.90,563.17 L452.90,566.77 L448.90,566.77 Z" fill="#000" stroke="none" stroke-width="1" />
<path d="M462.00,553.57 L464.00,557.17 L460.00,557.17 Z" fill="#000" stroke="none" stroke-width="1" />
<path d="M455.80,568.17 L457.80,571.77 L453.80,571.77 Z" fill="#000" stroke="none" stroke-width="1" />
<path d="M462.00,566.47 L464.00,570.07 L460.00,570.07 Z" fill="#000" stroke="none" stroke-width="1" />
<path d="M455.80,579.27 L457.80,582.87 L453.80,582.87 Z" fill="#000" stroke="none" stroke-width="1" />
<path d="M455.80,586.37 L457.80,589.97 L453.80,589.97 Z" fill="#000" stroke="none" stroke-width="1" />
<path d="M483.00,561.63 L485.00,558.03 L481.00,558.03 Z" fill="#000" stroke="none" stroke-width="1" />
<path d="M483.00,571.33 L485.00,567.73 L481.00,567.73 Z" fill="#000" stroke="none" stroke-width="1" />
<path d="M481.20,574.93 L483.20,571.33 L479.20,571.33 Z" fill="#000" stroke="none" stroke-width="1" />
<path d="M484.60,574.93 L486.60,571.33 L482.60,571.33 Z" fill="#000" stroke="none" stroke-width="1" />
<path d="M477.90,580.23 L479.90,576.63 L475.90,576.63 Z" fill="#000" stroke="none" stroke-width="1" />
<path d="M487.90,580.23 L489.90,576.63 L485.90,576.63 Z" fill="#000" stroke="none" stroke-width="1" />
<path d="M480.10,587.53 L482.10,583.93 L478.10,583.93 Z" fill="#000" stroke="none" stroke-width="1" />
<path d="M483.50,587.53 L485.50,583.93 L481.50,583.93 Z" fill="#000" stroke="none" stroke-width="1" />
<path d="M487.90,587.53 L489.90,583.93 L485.90,583.93 Z" fill="#000" stroke="none" stroke-width="1" />
<path d="M482.30,590.83 L484.30,587.23 L480.30,587.23 Z" fill="#000" stroke="none" stroke-width="1" />
<line x1="386.90" y1="508.00" x2="386.90" y2="596.90" stroke="#111" stroke-width="1.2" />
<line x1="386.30" y1="596.30" x2="497.60" y2="596.30" stroke="#111" stroke-width="1.2" />
<line x1="383.20" y1="596.30" x2="386.90" y2="596.30" stroke="#111" stroke-width="0.9" />
<text x="380.70" y="598.90" font-size="7.4" fill="#111" stroke="#111" stroke-width="0.13" text-anchor="end" >0</text>
<line x1="383.20" y1="580.36" x2="386.90" y2="580.36" stroke="#111" stroke-width="0.9" />
<text x="380.70" y="582.96" font-size="7.4" fill="#111" stroke="#111" stroke-width="0.13" text-anchor="end" >25</text>
<line x1="383.20" y1="564.42" x2="386.90" y2="564.42" stroke="#111" stroke-width="0.9" />
<text x="380.70" y="567.02" font-size="7.4" fill="#111" stroke="#111" stroke-width="0.13" text-anchor="end" >50</text>
<line x1="383.20" y1="548.48" x2="386.90" y2="548.48" stroke="#111" stroke-width="0.9" />
<text x="380.70" y="551.08" font-size="7.4" fill="#111" stroke="#111" stroke-width="0.13" text-anchor="end" >75</text>
<line x1="383.20" y1="532.54" x2="386.90" y2="532.54" stroke="#111" stroke-width="0.9" />
<text x="380.70" y="535.14" font-size="7.4" fill="#111" stroke="#111" stroke-width="0.13" text-anchor="end" >100</text>
<line x1="383.20" y1="516.60" x2="386.90" y2="516.60" stroke="#111" stroke-width="0.9" />
<text x="380.70" y="519.20" font-size="7.4" fill="#111" stroke="#111" stroke-width="0.13" text-anchor="end" >125</text>
<line x1="401.00" y1="596.30" x2="401.00" y2="598.70" stroke="#111" stroke-width="0.8" />
<text x="401.00" y="607.80" font-size="7.15" fill="#111" stroke="#111" stroke-width="0.13" text-anchor="middle" >Ctrl</text>
<line x1="428.70" y1="596.30" x2="428.70" y2="598.70" stroke="#111" stroke-width="0.8" />
<text x="428.70" y="607.80" font-size="7.15" fill="#111" stroke="#111" stroke-width="0.13" text-anchor="middle" >rhIGFBP7</text>
<line x1="456.50" y1="596.30" x2="456.50" y2="598.70" stroke="#111" stroke-width="0.8" />
<text x="456.50" y="607.80" font-size="7.15" fill="#111" stroke="#111" stroke-width="0.13" text-anchor="middle" >ATRA</text>
<line x1="484.05" y1="596.30" x2="484.05" y2="598.70" stroke="#111" stroke-width="0.8" />
<text x="484.05" y="607.80" font-size="7.15" fill="#111" stroke="#111" stroke-width="0.13" text-anchor="middle" >Combi</text>
<path d="M400.90,494.70 L400.90,492.50 L484.40,492.50 L484.40,494.70" fill="none" stroke="#111" stroke-width="0.9" />
<path d="M400.90,496.70 L400.90,494.50 L456.50,494.50 L456.50,496.70" fill="none" stroke="#111" stroke-width="0.9" />
<path d="M400.90,499.70 L400.90,497.50 L428.70,497.50 L428.70,499.70" fill="none" stroke="#111" stroke-width="0.9" />
<path d="M428.70,510.70 L428.70,508.50 L484.40,508.50 L484.40,510.70" fill="none" stroke="#111" stroke-width="0.9" />
<path d="M456.50,518.70 L456.50,516.50 L484.40,516.50 L484.40,518.70" fill="none" stroke="#111" stroke-width="0.9" />
<text x="467.60" y="498.20" font-size="6.2" fill="#222" stroke="#222" stroke-width="0.15" text-anchor="start"><tspan font-size="5.58" dy="-1.0">****</tspan><tspan dy="1.0"> </tspan><tspan font-style="italic">p</tspan> &lt; 0.0001</text>
<text x="439.70" y="503.00" font-size="6.2" fill="#222" stroke="#222" stroke-width="0.15" text-anchor="start"><tspan font-size="5.58" dy="-1.0">****</tspan><tspan dy="1.0"> </tspan><tspan font-style="italic">p</tspan> &lt; 0.0001</text>
<text x="397.00" y="506.80" font-size="6.2" fill="#222" stroke="#222" stroke-width="0.15" text-anchor="start"><tspan font-size="5.58" dy="-1.0">**</tspan><tspan dy="1.0"> </tspan><tspan font-style="italic">p</tspan> = 0.0062</text>
<text x="439.70" y="515.20" font-size="6.2" fill="#222" stroke="#222" stroke-width="0.15" text-anchor="start"><tspan font-size="5.58" dy="-1.0">***</tspan><tspan dy="1.0"> </tspan><tspan font-style="italic">p</tspan> = 0.0002</text>
<text x="468.00" y="524.00" font-size="6.2" fill="#222" stroke="#222" stroke-width="0.15" text-anchor="start"><tspan font-size="5.58" dy="-1.0">*</tspan><tspan dy="1.0"> </tspan><tspan font-style="italic">p</tspan> = 0.0152</text>
<text x="361.4" y="552.2" font-size="8.8" font-weight="bold" fill="#222" text-anchor="middle" textLength="72.7" lengthAdjust="spacingAndGlyphs" transform="rotate(-90 361.4 552.2)">CD45<tspan dy="-3" font-size="5">dim</tspan><tspan dy="3">CD34</tspan><tspan dy="-3" font-size="5">+</tspan><tspan dy="3"> cells (%)</tspan></text>
<text x="5.40" y="626.00" font-size="12.8" fill="#000" stroke="#000" stroke-width="0.45" font-weight="bold" >G</text>
<text x="20.00" y="655.60" font-size="7.2" fill="#111" stroke="#111" stroke-width="0.13" >AML32</text>
<circle cx="15.40" cy="658.10" r="1.0" fill="#222" />
<line x1="15.40" y1="658.10" x2="20.60" y2="662.00" stroke="#222" stroke-width="1.4" />
<path d="M18.3,666.6 Q20.5,666.4 22.4,664.1 Q25.5,661.6 29.0,662.5 Q30.5,663.2 31.2,665.0" fill="none" stroke="#888" stroke-width="0.7" />
<path d="M30.6,665.3 C34.5,665.3 37.2,668.5 37.6,673.5 C37.9,676.5 36.0,678.5 34.6,680.0 C33.5,681.4 32.0,682.4 30.8,682.4 C29.4,682.4 28.0,681.4 26.9,680.0 C25.4,678.5 23.6,676.5 23.9,673.5 C24.3,668.5 26.8,665.3 30.6,665.3 Z" fill="#fff" stroke="#444" stroke-width="0.6" />
<path d="M24.4,675.0 C24.6,672.2 27.6,671.6 28.8,673.8" fill="none" stroke="#111" stroke-width="1.7" />
<path d="M37.1,675.0 C36.9,672.2 33.9,671.6 32.7,673.8" fill="none" stroke="#111" stroke-width="1.7" />
<path d="M25.0,675.5 C25.5,677.5 27.0,678.0 28.2,677.0" fill="none" stroke="#888" stroke-width="0.5" />
<path d="M36.5,675.5 C36.0,677.5 34.5,678.0 33.3,677.0" fill="none" stroke="#888" stroke-width="0.5" />
<circle cx="29.20" cy="679.30" r="0.6" fill="#111" />
<circle cx="32.30" cy="679.30" r="0.6" fill="#111" />
<path d="M29.0,681.3 Q30.8,682.6 32.6,681.3" fill="none" stroke="#333" stroke-width="0.5" />
<path d="M26.8,681.2 L24.6,682.2 M27.0,682.0 L25.3,683.4 M34.6,681.2 L36.8,682.2 M34.4,682.0 L36.1,683.4" fill="none" stroke="#999" stroke-width="0.4" />
<line x1="30.20" y1="688.40" x2="105.40" y2="688.40" stroke="#111" stroke-width="1.1" />
<line x1="30.20" y1="685.20" x2="30.20" y2="691.60" stroke="#111" stroke-width="1.0" />
<line x1="46.40" y1="685.20" x2="46.40" y2="691.60" stroke="#111" stroke-width="1.0" />
<line x1="64.60" y1="685.20" x2="64.60" y2="691.60" stroke="#111" stroke-width="1.0" />
<line x1="105.40" y1="685.20" x2="105.40" y2="691.60" stroke="#111" stroke-width="1.0" />
<line x1="48.00" y1="682.50" x2="64.60" y2="682.50" stroke="#111" stroke-width="1.0" />
<line x1="64.60" y1="679.90" x2="64.60" y2="684.00" stroke="#111" stroke-width="1.0" />
<rect x="45.00" y="681.00" width="2.90" height="2.90" fill="#fff" stroke="#c8385a" stroke-width="0.9" />
<path d="M64.40,674.87 L65.70,677.47 L63.10,677.47 Z" fill="#c0e0b0" stroke="#6ab04c" stroke-width="0.6" />
<path d="M68.60,674.87 L69.90,677.47 L67.30,677.47 Z" fill="#c0e0b0" stroke="#6ab04c" stroke-width="0.6" />
<path d="M72.90,674.87 L74.20,677.47 L71.60,677.47 Z" fill="#c0e0b0" stroke="#6ab04c" stroke-width="0.6" />
<text x="30.20" y="701.60" font-size="7.0" fill="#111" stroke="#111" stroke-width="0.13" text-anchor="middle" >0</text>
<text x="46.40" y="701.60" font-size="7.0" fill="#111" stroke="#111" stroke-width="0.13" text-anchor="middle" >2</text>
<text x="64.60" y="701.60" font-size="7.0" fill="#111" stroke="#111" stroke-width="0.13" text-anchor="middle" >5</text>
<text x="101.80" y="701.60" font-size="6.95" fill="#111" stroke="#111" stroke-width="0.13" >16 weeks</text>
<rect x="95.90" y="660.10" width="2.90" height="2.90" fill="#fff" stroke="#c8385a" stroke-width="0.9" />
<text x="101.80" y="663.90" font-size="6.6" fill="#111" stroke="#111" stroke-width="0.13" >ATRA</text>
<path d="M97.30,668.37 L98.60,670.97 L96.00,670.97 Z" fill="#c0e0b0" stroke="#6ab04c" stroke-width="0.6" />
<text x="101.80" y="671.60" font-size="7.2" fill="#111" stroke="#111" stroke-width="0.13" >rhIGFBP7</text>
<line x1="190.20" y1="626.00" x2="190.20" y2="725.80" stroke="#111" stroke-width="1.2" />
<line x1="189.60" y1="725.20" x2="300.80" y2="725.20" stroke="#111" stroke-width="1.2" />
<line x1="187.80" y1="725.20" x2="190.20" y2="725.20" stroke="#111" stroke-width="0.8" />
<text x="184.70" y="727.90" font-size="7.7" fill="#111" stroke="#111" stroke-width="0.13" text-anchor="end" >0</text>
<line x1="187.80" y1="701.00" x2="190.20" y2="701.00" stroke="#111" stroke-width="0.8" />
<text x="184.70" y="703.70" font-size="7.7" fill="#111" stroke="#111" stroke-width="0.13" text-anchor="end" >20</text>
<line x1="187.80" y1="676.80" x2="190.20" y2="676.80" stroke="#111" stroke-width="0.8" />
<text x="184.70" y="679.50" font-size="7.7" fill="#111" stroke="#111" stroke-width="0.13" text-anchor="end" >40</text>
<line x1="187.80" y1="652.60" x2="190.20" y2="652.60" stroke="#111" stroke-width="0.8" />
<text x="184.70" y="655.30" font-size="7.7" fill="#111" stroke="#111" stroke-width="0.13" text-anchor="end" >60</text>
<line x1="203.70" y1="725.20" x2="203.70" y2="727.60" stroke="#111" stroke-width="0.8" />
<text x="203.70" y="738.30" font-size="6.9" fill="#111" stroke="#111" stroke-width="0.13" text-anchor="middle" >Ctrl</text>
<line x1="230.10" y1="725.20" x2="230.10" y2="727.60" stroke="#111" stroke-width="0.8" />
<text x="230.10" y="738.30" font-size="6.9" fill="#111" stroke="#111" stroke-width="0.13" text-anchor="middle" >rhIGFBP7</text>
<line x1="257.70" y1="725.20" x2="257.70" y2="727.60" stroke="#111" stroke-width="0.8" />
<text x="257.70" y="738.30" font-size="6.9" fill="#111" stroke="#111" stroke-width="0.13" text-anchor="middle" >ATRA</text>
<line x1="284.50" y1="725.20" x2="284.50" y2="727.60" stroke="#111" stroke-width="0.8" />
<text x="284.50" y="738.30" font-size="6.9" fill="#111" stroke="#111" stroke-width="0.13" text-anchor="middle" >Combi</text>
<line x1="194.40" y1="681.16" x2="213.00" y2="681.16" stroke="#111" stroke-width="1.0" />
<line x1="220.80" y1="708.50" x2="239.40" y2="708.50" stroke="#111" stroke-width="1.0" />
<line x1="248.40" y1="715.52" x2="267.00" y2="715.52" stroke="#111" stroke-width="1.0" />
<line x1="275.20" y1="721.45" x2="293.80" y2="721.45" stroke="#111" stroke-width="1.0" />
<circle cx="203.70" cy="656.35" r="2.0" fill="#5a2a78" />
<circle cx="203.70" cy="662.88" r="2.0" fill="#5a2a78" />
<circle cx="203.70" cy="674.99" r="2.0" fill="#5a2a78" />
<circle cx="203.70" cy="679.22" r="2.0" fill="#5a2a78" />
<circle cx="203.70" cy="701.24" r="2.0" fill="#5a2a78" />
<circle cx="203.70" cy="710.92" r="2.0" fill="#5a2a78" />
<rect x="228.30" y="692.91" width="3.60" height="3.60" fill="#6ab04c" stroke="none" stroke-width="1" />
<rect x="228.30" y="697.87" width="3.60" height="3.60" fill="#6ab04c" stroke="none" stroke-width="1" />
<rect x="228.30" y="701.38" width="3.60" height="3.60" fill="#6ab04c" stroke="none" stroke-width="1" />
<rect x="228.30" y="707.55" width="3.60" height="3.60" fill="#6ab04c" stroke="none" stroke-width="1" />
<rect x="228.30" y="718.08" width="3.60" height="3.60" fill="#6ab04c" stroke="none" stroke-width="1" />
<rect x="228.30" y="723.04" width="3.60" height="3.60" fill="#6ab04c" stroke="none" stroke-width="1" />
<path d="M257.70,691.48 L260.00,695.58 L255.40,695.58 Z" fill="#c0103a" stroke="none" stroke-width="1" />
<path d="M257.70,703.46 L260.00,707.56 L255.40,707.56 Z" fill="#c0103a" stroke="none" stroke-width="1" />
<path d="M252.40,720.40 L254.70,724.50 L250.10,724.50 Z" fill="#c0103a" stroke="none" stroke-width="1" />
<path d="M255.60,721.37 L257.90,725.47 L253.30,725.47 Z" fill="#c0103a" stroke="none" stroke-width="1" />
<path d="M260.30,720.40 L262.60,724.50 L258.00,724.50 Z" fill="#c0103a" stroke="none" stroke-width="1" />
<path d="M263.80,718.95 L266.10,723.05 L261.50,723.05 Z" fill="#c0103a" stroke="none" stroke-width="1" />
<path d="M284.20,718.75 L286.50,714.65 L281.90,714.65 Z" fill="#2c4e98" stroke="none" stroke-width="1" />
<path d="M287.30,721.65 L289.60,717.55 L285.00,717.55 Z" fill="#2c4e98" stroke="none" stroke-width="1" />
<path d="M280.40,724.55 L282.70,720.45 L278.10,720.45 Z" fill="#2c4e98" stroke="none" stroke-width="1" />
<path d="M283.90,726.13 L286.20,722.03 L281.60,722.03 Z" fill="#2c4e98" stroke="none" stroke-width="1" />
<path d="M287.90,724.68 L290.20,720.58 L285.60,720.58 Z" fill="#2c4e98" stroke="none" stroke-width="1" />
<path d="M291.00,724.55 L293.30,720.45 L288.70,720.45 Z" fill="#2c4e98" stroke="none" stroke-width="1" />
<text x="156.3" y="675.5" font-size="7.8" fill="#111" stroke="#111" stroke-width="0.45" text-anchor="middle" textLength="61" lengthAdjust="spacingAndGlyphs" transform="rotate(-90 156.3 675.5)">Engraftment hCD45<tspan dy="-2.6" font-size="4.6">+</tspan></text>
<text x="168.1" y="675.5" font-size="7.8" fill="#111" stroke="#111" stroke-width="0.45" text-anchor="middle" textLength="75.4" lengthAdjust="spacingAndGlyphs" transform="rotate(-90 168.1 675.5)">(absolute counts x10,000)</text>
<path d="M203.90,637.50 L203.90,635.50 L231.20,635.50 L231.20,637.50" fill="none" stroke="#111" stroke-width="0.9" />
<path d="M203.90,642.50 L203.90,640.50 L258.40,640.50 L258.40,642.50" fill="none" stroke="#111" stroke-width="0.9" />
<path d="M203.90,648.50 L203.90,646.50 L284.80,646.50 L284.80,648.50" fill="none" stroke="#111" stroke-width="0.9" />
<text x="200.80" y="633.40" font-size="6.2" fill="#222" stroke="#222" stroke-width="0.15" text-anchor="start"><tspan font-size="5.58" dy="-1.0">*</tspan><tspan dy="1.0"> </tspan><tspan font-style="italic">p</tspan> = 0.0120</text>
<text x="254.40" y="641.80" font-size="6.2" fill="#222" stroke="#222" stroke-width="0.15" text-anchor="start"><tspan font-size="5.58" dy="-1.0">**</tspan><tspan dy="1.0"> </tspan><tspan font-style="italic">p</tspan> = 0.0017</text>
<text x="226.00" y="652.80" font-size="6.2" fill="#222" stroke="#222" stroke-width="0.15" text-anchor="start"><tspan font-size="5.58" dy="-1.0">***</tspan><tspan dy="1.0"> </tspan><tspan font-style="italic">p</tspan> = 0.0003</text>
<line x1="356.40" y1="626.70" x2="356.40" y2="725.40" stroke="#111" stroke-width="1.2" />
<line x1="355.80" y1="724.80" x2="467.00" y2="724.80" stroke="#111" stroke-width="1.2" />
<line x1="354.00" y1="724.80" x2="356.40" y2="724.80" stroke="#111" stroke-width="0.8" />
<text x="350.90" y="727.50" font-size="7.7" fill="#111" stroke="#111" stroke-width="0.13" text-anchor="end" >0</text>
<line x1="354.00" y1="702.35" x2="356.40" y2="702.35" stroke="#111" stroke-width="0.8" />
<text x="350.90" y="705.05" font-size="7.7" fill="#111" stroke="#111" stroke-width="0.13" text-anchor="end" >10</text>
<line x1="354.00" y1="679.90" x2="356.40" y2="679.90" stroke="#111" stroke-width="0.8" />
<text x="350.90" y="682.60" font-size="7.7" fill="#111" stroke="#111" stroke-width="0.13" text-anchor="end" >20</text>
<line x1="354.00" y1="657.45" x2="356.40" y2="657.45" stroke="#111" stroke-width="0.8" />
<text x="350.90" y="660.15" font-size="7.7" fill="#111" stroke="#111" stroke-width="0.13" text-anchor="end" >30</text>
<line x1="354.00" y1="635.00" x2="356.40" y2="635.00" stroke="#111" stroke-width="0.8" />
<text x="350.90" y="637.70" font-size="7.7" fill="#111" stroke="#111" stroke-width="0.13" text-anchor="end" >40</text>
<line x1="369.50" y1="724.80" x2="369.50" y2="727.20" stroke="#111" stroke-width="0.8" />
<text x="369.50" y="738.30" font-size="6.9" fill="#111" stroke="#111" stroke-width="0.13" text-anchor="middle" >Ctrl</text>
<line x1="396.50" y1="724.80" x2="396.50" y2="727.20" stroke="#111" stroke-width="0.8" />
<text x="396.50" y="738.30" font-size="6.9" fill="#111" stroke="#111" stroke-width="0.13" text-anchor="middle" >rhIGFBP7</text>
<line x1="423.50" y1="724.80" x2="423.50" y2="727.20" stroke="#111" stroke-width="0.8" />
<text x="423.50" y="738.30" font-size="6.9" fill="#111" stroke="#111" stroke-width="0.13" text-anchor="middle" >ATRA</text>
<line x1="450.60" y1="724.80" x2="450.60" y2="727.20" stroke="#111" stroke-width="0.8" />
<text x="450.60" y="738.30" font-size="6.9" fill="#111" stroke="#111" stroke-width="0.13" text-anchor="middle" >Combi</text>
<line x1="360.20" y1="686.19" x2="378.80" y2="686.19" stroke="#111" stroke-width="1.0" />
<line x1="387.20" y1="705.72" x2="405.80" y2="705.72" stroke="#111" stroke-width="1.0" />
<line x1="414.20" y1="712.68" x2="432.80" y2="712.68" stroke="#111" stroke-width="1.0" />
<line x1="441.30" y1="720.31" x2="459.90" y2="720.31" stroke="#111" stroke-width="1.0" />
<circle cx="370.00" cy="659.69" r="2.0" fill="#5a2a78" />
<circle cx="370.00" cy="671.59" r="2.0" fill="#5a2a78" />
<circle cx="370.00" cy="677.43" r="2.0" fill="#5a2a78" />
<circle cx="370.00" cy="686.19" r="2.0" fill="#5a2a78" />
<circle cx="370.00" cy="705.72" r="2.0" fill="#5a2a78" />
<circle cx="370.00" cy="717.39" r="2.0" fill="#5a2a78" />
<rect x="394.70" y="683.94" width="3.60" height="3.60" fill="#6ab04c" stroke="none" stroke-width="1" />
<rect x="393.20" y="694.49" width="3.60" height="3.60" fill="#6ab04c" stroke="none" stroke-width="1" />
<rect x="397.00" y="697.18" width="3.60" height="3.60" fill="#6ab04c" stroke="none" stroke-width="1" />
<rect x="394.70" y="706.84" width="3.60" height="3.60" fill="#6ab04c" stroke="none" stroke-width="1" />
<rect x="394.70" y="715.82" width="3.60" height="3.60" fill="#6ab04c" stroke="none" stroke-width="1" />
<rect x="394.70" y="722.78" width="3.60" height="3.60" fill="#6ab04c" stroke="none" stroke-width="1" />
<path d="M423.50,681.22 L425.80,685.32 L421.20,685.32 Z" fill="#c0103a" stroke="none" stroke-width="1" />
<path d="M423.50,700.30 L425.80,704.40 L421.20,704.40 Z" fill="#c0103a" stroke="none" stroke-width="1" />
<path d="M419.60,720.28 L421.90,724.38 L417.30,724.38 Z" fill="#c0103a" stroke="none" stroke-width="1" />
<path d="M423.50,717.14 L425.80,721.24 L421.20,721.24 Z" fill="#c0103a" stroke="none" stroke-width="1" />
<path d="M427.30,720.28 L429.60,724.38 L425.00,724.38 Z" fill="#c0103a" stroke="none" stroke-width="1" />
<path d="M423.50,721.85 L425.80,725.95 L421.20,725.95 Z" fill="#c0103a" stroke="none" stroke-width="1" />
<path d="M448.50,714.95 L450.80,710.85 L446.20,710.85 Z" fill="#2c4e98" stroke="none" stroke-width="1" />
<path d="M452.70,718.54 L455.00,714.44 L450.40,714.44 Z" fill="#2c4e98" stroke="none" stroke-width="1" />
<path d="M445.60,724.61 L447.90,720.51 L443.30,720.51 Z" fill="#2c4e98" stroke="none" stroke-width="1" />
<path d="M449.40,725.50 L451.70,721.40 L447.10,721.40 Z" fill="#2c4e98" stroke="none" stroke-width="1" />
<path d="M453.30,723.93 L455.60,719.83 L451.00,719.83 Z" fill="#2c4e98" stroke="none" stroke-width="1" />
<path d="M456.20,723.71 L458.50,719.61 L453.90,719.61 Z" fill="#2c4e98" stroke="none" stroke-width="1" />
<text x="322.6" y="676.0" font-size="7.8" fill="#111" stroke="#111" stroke-width="0.45" text-anchor="middle" textLength="81" lengthAdjust="spacingAndGlyphs" transform="rotate(-90 322.6 676.0)">Engraftment hCD45<tspan dy="-2.6" font-size="4.6">+</tspan><tspan dy="2.6">CD33</tspan><tspan dy="-2.6" font-size="4.6">+</tspan></text>
<text x="334.0" y="676.0" font-size="7.8" fill="#111" stroke="#111" stroke-width="0.45" text-anchor="middle" textLength="75.3" lengthAdjust="spacingAndGlyphs" transform="rotate(-90 334.0 676.0)">(absolute counts x10,000)</text>
<path d="M369.50,643.50 L369.50,641.50 L450.60,641.50 L450.60,643.50" fill="none" stroke="#111" stroke-width="0.9" />
<path d="M369.50,651.50 L369.50,649.50 L423.50,649.50 L423.50,651.50" fill="none" stroke="#111" stroke-width="0.9" />
<text x="411.00" y="636.60" font-size="6.2" fill="#222" stroke="#222" stroke-width="0.15" text-anchor="middle"><tspan font-size="5.58" dy="-1.0">**</tspan><tspan dy="1.0"> </tspan><tspan font-style="italic">p</tspan> = 0.0063</text>
<text x="395.80" y="645.60" font-size="6.2" fill="#222" stroke="#222" stroke-width="0.15" text-anchor="middle"><tspan font-size="5.58" dy="-1.0">*</tspan><tspan dy="1.0"> </tspan><tspan font-style="italic">p</tspan> = 0.0370</text>
<rect x="0" y="0" width="520" height="1.15" fill="#000"/><rect x="0" y="0" width="1.1" height="746" fill="#000"/><rect x="518.5" y="0" width="1.5" height="746" fill="#000"/><rect x="0" y="744.5" width="520" height="1.5" fill="#000"/>
</svg>
</body></html>
